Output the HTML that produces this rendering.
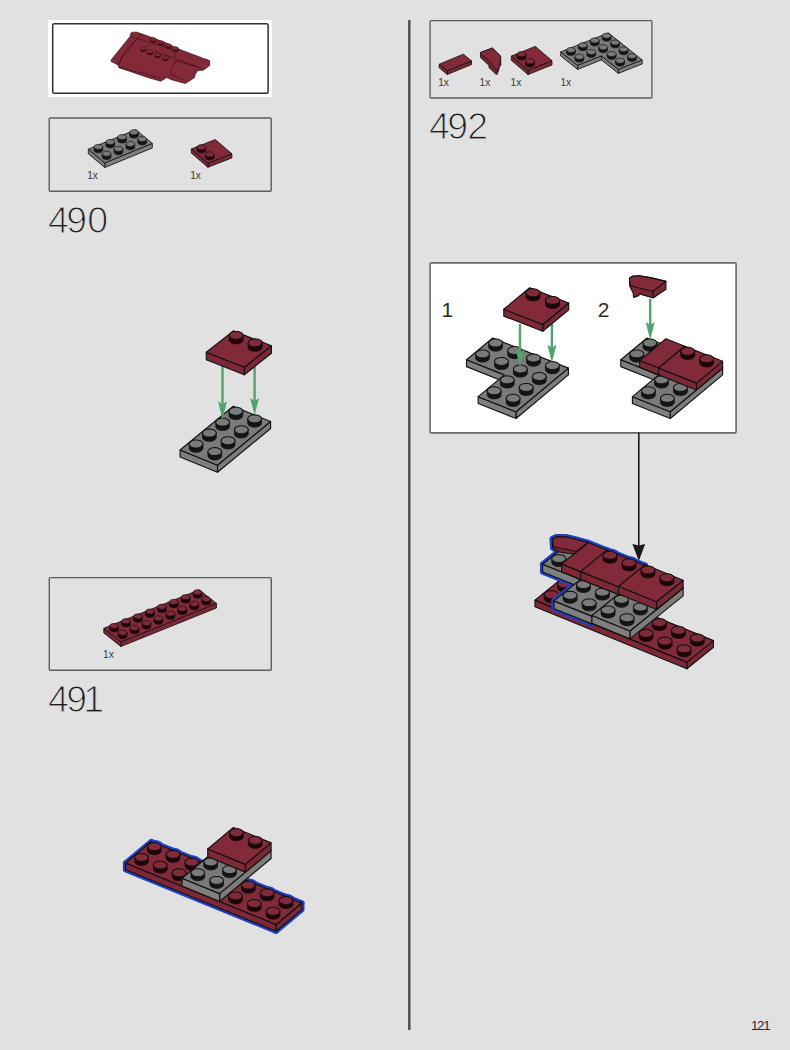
<!DOCTYPE html>
<html><head><meta charset="utf-8"><style>
html,body{margin:0;padding:0;background:#e1e1e1;}
svg{display:block;font-family:"Liberation Sans",sans-serif;}
</style></head><body>
<svg width="790" height="1050" viewBox="0 0 790 1050">
<rect x="0" y="0" width="790" height="1050" fill="#e1e1e1"/>
<rect x="408.1" y="20" width="2.4" height="1010" fill="#4a4a4a"/>
<rect x="48" y="20" width="224" height="77" fill="#ffffff"/>
<rect x="52.7" y="23.7" width="215.4" height="69.5" rx="1.5" fill="#ffffff" stroke="#303030" stroke-width="1.5"/>
<polygon points="130.80,33.30 132.30,32.20 136.90,32.20 142.20,34.10 150.60,37.10 165.00,42.40 177.80,48.70 203.60,58.50 208.20,60.00 209.70,60.80 209.70,65.40 203.60,69.90 197.50,70.70 195.20,74.50 194.50,77.50 185.40,83.60 171.40,79.70 166.80,77.40 160.80,81.20 147.50,77.40 118.70,67.50 118.70,66.00 117.10,64.40 111.10,61.40 111.10,59.90 130.10,36.40" fill="#822a3a" stroke="#3a0a12" stroke-width="0.7" stroke-linejoin="round"/>
<polyline points="130.10,36.40 147.00,41.50 165.00,47.00 173.20,50.50" fill="none" stroke="#3a0a12" stroke-width="0.6"/>
<polyline points="142.20,34.10 136.00,40.00 127.00,50.00 117.10,64.40" fill="none" stroke="#3a0a12" stroke-width="0.6"/>
<polyline points="137.00,39.00 130.00,47.00 122.00,57.00 118.70,66.00" fill="none" stroke="#3a0a12" stroke-width="0.6"/>
<polyline points="177.80,48.70 174.00,57.00" fill="none" stroke="#3a0a12" stroke-width="0.6"/>
<polyline points="155.00,51.30 173.20,57.80 197.50,66.90 203.60,69.90" fill="none" stroke="#3a0a12" stroke-width="0.6"/>
<polyline points="175.50,60.80 170.20,73.70" fill="none" stroke="#3a0a12" stroke-width="0.6"/>
<polyline points="175.50,60.80 197.50,66.90" fill="none" stroke="#3a0a12" stroke-width="0.6"/>
<polyline points="170.20,73.70 185.40,80.60" fill="none" stroke="#3a0a12" stroke-width="0.6"/>
<polyline points="150.00,43.50 145.00,48.00" fill="none" stroke="#3a0a12" stroke-width="0.6"/>
<polyline points="118.70,67.50 147.50,74.50 160.80,78.50" fill="none" stroke="#3a0a12" stroke-width="0.6"/>
<ellipse cx="153.2" cy="41.0" rx="3" ry="1.8" fill="#3a0a12"/>
<rect x="150.2" y="39.4" width="6" height="1.6" fill="#3a0a12"/>
<ellipse cx="153.2" cy="39.4" rx="3" ry="1.8" fill="#822a3a" stroke="#3a0a12" stroke-width="0.5"/>
<ellipse cx="160.8" cy="44.1" rx="3" ry="1.8" fill="#3a0a12"/>
<rect x="157.8" y="42.5" width="6" height="1.6" fill="#3a0a12"/>
<ellipse cx="160.8" cy="42.5" rx="3" ry="1.8" fill="#822a3a" stroke="#3a0a12" stroke-width="0.5"/>
<ellipse cx="168.4" cy="47.1" rx="3" ry="1.8" fill="#3a0a12"/>
<rect x="165.4" y="45.5" width="6" height="1.6" fill="#3a0a12"/>
<ellipse cx="168.4" cy="45.5" rx="3" ry="1.8" fill="#822a3a" stroke="#3a0a12" stroke-width="0.5"/>
<ellipse cx="175.5" cy="50.1" rx="3" ry="1.8" fill="#3a0a12"/>
<rect x="172.5" y="48.5" width="6" height="1.6" fill="#3a0a12"/>
<ellipse cx="175.5" cy="48.5" rx="3" ry="1.8" fill="#822a3a" stroke="#3a0a12" stroke-width="0.5"/>
<ellipse cx="143.3" cy="50.1" rx="3" ry="1.8" fill="#3a0a12"/>
<rect x="140.3" y="48.5" width="6" height="1.6" fill="#3a0a12"/>
<ellipse cx="143.3" cy="48.5" rx="3" ry="1.8" fill="#822a3a" stroke="#3a0a12" stroke-width="0.5"/>
<ellipse cx="150.1" cy="53.2" rx="3" ry="1.8" fill="#3a0a12"/>
<rect x="147.1" y="51.6" width="6" height="1.6" fill="#3a0a12"/>
<ellipse cx="150.1" cy="51.6" rx="3" ry="1.8" fill="#822a3a" stroke="#3a0a12" stroke-width="0.5"/>
<ellipse cx="157.7" cy="56.2" rx="3" ry="1.8" fill="#3a0a12"/>
<rect x="154.7" y="54.6" width="6" height="1.6" fill="#3a0a12"/>
<ellipse cx="157.7" cy="54.6" rx="3" ry="1.8" fill="#822a3a" stroke="#3a0a12" stroke-width="0.5"/>
<ellipse cx="165.3" cy="59.300000000000004" rx="3" ry="1.8" fill="#3a0a12"/>
<rect x="162.3" y="57.7" width="6" height="1.6" fill="#3a0a12"/>
<ellipse cx="165.3" cy="57.7" rx="3" ry="1.8" fill="#822a3a" stroke="#3a0a12" stroke-width="0.5"/>
<rect x="49.2" y="118" width="222.05" height="73.3" rx="1" fill="none" stroke="#5e5e5e" stroke-width="1.4"/>
<polygon points="152.30,143.40 104.80,162.90 104.80,167.50 152.30,148.00" fill="#7f7f7f" stroke="#121212" stroke-width="0.85" stroke-linejoin="round"/>
<polygon points="104.80,162.90 88.30,149.20 88.30,153.80 104.80,167.50" fill="#7d7d7d" stroke="#121212" stroke-width="0.85" stroke-linejoin="round"/>
<polygon points="88.30,149.20 135.80,129.70 152.30,143.40 104.80,162.90" fill="#7a7a7a" stroke="#121212" stroke-width="0.85" stroke-linejoin="round"/>
<polygon points="129.65,135.54 129.69,135.93 129.83,136.32 130.08,136.69 130.43,137.03 130.86,137.33 131.36,137.59 131.94,137.80 132.56,137.95 133.22,138.05 133.90,138.08 134.58,138.06 135.24,137.97 135.87,137.82 136.46,137.62 136.99,137.36 137.44,137.06 137.81,136.73 138.08,136.37 138.26,135.98 138.32,135.59 138.32,132.28 138.26,132.67 138.08,133.05 137.81,133.42 137.44,133.75 136.99,134.05 136.46,134.31 135.87,134.51 135.24,134.66 134.58,134.75 133.90,134.77 133.22,134.74 132.56,134.64 131.94,134.49 131.36,134.28 130.86,134.02 130.43,133.71 130.08,133.37 129.83,133.01 129.69,132.62 129.65,132.23" fill="#141414" stroke="#141414" stroke-width="0.8" stroke-linejoin="round"/>
<polygon points="137.55,130.79 137.89,131.13 138.14,131.49 138.29,131.88 138.32,132.28 138.26,132.67 138.08,133.05 137.81,133.42 137.44,133.75 136.99,134.05 136.46,134.31 135.87,134.51 135.24,134.66 134.58,134.75 133.90,134.77 133.22,134.74 132.56,134.64 131.94,134.49 131.36,134.28 130.86,134.02 130.43,133.71 130.08,133.37 129.83,133.01 129.69,132.62 129.65,132.23 129.72,131.83 129.89,131.45 130.16,131.08 130.53,130.75 130.99,130.45 131.51,130.20 132.10,129.99 132.73,129.84 133.40,129.76 134.08,129.73 134.76,129.76 135.41,129.86 136.04,130.01 136.61,130.22 137.12,130.48" fill="#7a7a7a" stroke="#121212" stroke-width="0.765" stroke-linejoin="round"/>
<polygon points="117.78,140.41 117.81,140.81 117.96,141.19 118.21,141.56 118.55,141.90 118.98,142.20 119.49,142.46 120.06,142.67 120.69,142.83 121.34,142.92 122.02,142.96 122.70,142.93 123.37,142.84 124.00,142.70 124.59,142.49 125.11,142.24 125.57,141.94 125.94,141.60 126.21,141.24 126.38,140.86 126.45,140.46 126.45,137.15 126.38,137.54 126.21,137.93 125.94,138.29 125.57,138.63 125.11,138.93 124.59,139.18 124.00,139.38 123.37,139.53 122.70,139.62 122.02,139.65 121.34,139.61 120.69,139.52 120.06,139.36 119.49,139.15 118.98,138.89 118.55,138.59 118.21,138.25 117.96,137.88 117.81,137.50 117.78,137.10" fill="#141414" stroke="#141414" stroke-width="0.8" stroke-linejoin="round"/>
<polygon points="125.67,135.66 126.02,136.00 126.27,136.37 126.41,136.76 126.45,137.15 126.38,137.54 126.21,137.93 125.94,138.29 125.57,138.63 125.11,138.93 124.59,139.18 124.00,139.38 123.37,139.53 122.70,139.62 122.02,139.65 121.34,139.61 120.69,139.52 120.06,139.36 119.49,139.15 118.98,138.89 118.55,138.59 118.21,138.25 117.96,137.88 117.81,137.50 117.78,137.10 117.84,136.71 118.02,136.32 118.29,135.96 118.66,135.62 119.11,135.32 119.64,135.07 120.23,134.87 120.86,134.72 121.52,134.63 122.20,134.60 122.88,134.64 123.54,134.73 124.16,134.89 124.74,135.10 125.24,135.36" fill="#7a7a7a" stroke="#121212" stroke-width="0.765" stroke-linejoin="round"/>
<polygon points="137.90,142.39 137.94,142.78 138.08,143.17 138.33,143.54 138.68,143.88 139.11,144.18 139.61,144.44 140.19,144.65 140.81,144.80 141.47,144.90 142.15,144.93 142.83,144.91 143.49,144.82 144.12,144.67 144.71,144.47 145.24,144.21 145.69,143.91 146.06,143.58 146.33,143.22 146.51,142.83 146.57,142.44 146.57,139.13 146.51,139.52 146.33,139.90 146.06,140.27 145.69,140.60 145.24,140.90 144.71,141.16 144.12,141.36 143.49,141.51 142.83,141.60 142.15,141.62 141.47,141.59 140.81,141.49 140.19,141.34 139.61,141.13 139.11,140.87 138.68,140.56 138.33,140.22 138.08,139.86 137.94,139.47 137.90,139.08" fill="#141414" stroke="#141414" stroke-width="0.8" stroke-linejoin="round"/>
<polygon points="145.80,137.64 146.14,137.98 146.39,138.34 146.54,138.73 146.57,139.13 146.51,139.52 146.33,139.90 146.06,140.27 145.69,140.60 145.24,140.90 144.71,141.16 144.12,141.36 143.49,141.51 142.83,141.60 142.15,141.62 141.47,141.59 140.81,141.49 140.19,141.34 139.61,141.13 139.11,140.87 138.68,140.56 138.33,140.22 138.08,139.86 137.94,139.47 137.90,139.08 137.97,138.68 138.14,138.30 138.41,137.93 138.78,137.60 139.24,137.30 139.76,137.05 140.35,136.84 140.98,136.69 141.65,136.61 142.33,136.58 143.01,136.61 143.66,136.71 144.29,136.86 144.86,137.07 145.37,137.33" fill="#7a7a7a" stroke="#121212" stroke-width="0.765" stroke-linejoin="round"/>
<polygon points="105.90,145.29 105.94,145.68 106.08,146.07 106.33,146.44 106.67,146.78 107.11,147.08 107.61,147.34 108.19,147.55 108.81,147.70 109.47,147.80 110.15,147.83 110.83,147.81 111.49,147.72 112.12,147.57 112.71,147.37 113.24,147.11 113.69,146.81 114.06,146.48 114.33,146.12 114.51,145.73 114.57,145.34 114.57,142.03 114.51,142.42 114.33,142.80 114.06,143.17 113.69,143.50 113.24,143.80 112.71,144.06 112.12,144.26 111.49,144.41 110.83,144.50 110.15,144.52 109.47,144.49 108.81,144.39 108.19,144.24 107.61,144.03 107.11,143.77 106.67,143.46 106.33,143.12 106.08,142.76 105.94,142.37 105.90,141.98" fill="#141414" stroke="#141414" stroke-width="0.8" stroke-linejoin="round"/>
<polygon points="113.80,140.54 114.14,140.88 114.39,141.24 114.54,141.63 114.57,142.03 114.51,142.42 114.33,142.80 114.06,143.17 113.69,143.50 113.24,143.80 112.71,144.06 112.12,144.26 111.49,144.41 110.83,144.50 110.15,144.52 109.47,144.49 108.81,144.39 108.19,144.24 107.61,144.03 107.11,143.77 106.67,143.46 106.33,143.12 106.08,142.76 105.94,142.37 105.90,141.98 105.97,141.58 106.14,141.20 106.41,140.83 106.78,140.50 107.24,140.20 107.76,139.95 108.35,139.74 108.98,139.59 109.65,139.51 110.33,139.48 111.01,139.51 111.66,139.61 112.29,139.76 112.86,139.97 113.37,140.23" fill="#7a7a7a" stroke="#121212" stroke-width="0.765" stroke-linejoin="round"/>
<polygon points="126.03,147.26 126.06,147.66 126.21,148.04 126.46,148.41 126.80,148.75 127.23,149.05 127.74,149.31 128.31,149.52 128.94,149.68 129.59,149.77 130.27,149.81 130.95,149.78 131.62,149.69 132.25,149.55 132.84,149.34 133.36,149.09 133.82,148.79 134.19,148.45 134.46,148.09 134.63,147.71 134.70,147.31 134.70,144.00 134.63,144.39 134.46,144.78 134.19,145.14 133.82,145.48 133.36,145.78 132.84,146.03 132.25,146.23 131.62,146.38 130.95,146.47 130.27,146.50 129.59,146.46 128.94,146.37 128.31,146.21 127.74,146.00 127.23,145.74 126.80,145.44 126.46,145.10 126.21,144.73 126.06,144.35 126.03,143.95" fill="#141414" stroke="#141414" stroke-width="0.8" stroke-linejoin="round"/>
<polygon points="133.93,142.51 134.27,142.85 134.52,143.22 134.66,143.61 134.70,144.00 134.63,144.39 134.46,144.78 134.19,145.14 133.82,145.48 133.36,145.78 132.84,146.03 132.25,146.23 131.62,146.38 130.95,146.47 130.27,146.50 129.59,146.46 128.94,146.37 128.31,146.21 127.74,146.00 127.23,145.74 126.80,145.44 126.46,145.10 126.21,144.73 126.06,144.35 126.03,143.95 126.09,143.56 126.27,143.17 126.54,142.81 126.91,142.47 127.36,142.17 127.89,141.92 128.48,141.72 129.11,141.57 129.77,141.48 130.45,141.45 131.13,141.49 131.79,141.58 132.41,141.74 132.99,141.95 133.49,142.21" fill="#7a7a7a" stroke="#121212" stroke-width="0.765" stroke-linejoin="round"/>
<polygon points="94.03,150.16 94.06,150.56 94.21,150.94 94.46,151.31 94.80,151.65 95.23,151.95 95.74,152.21 96.31,152.42 96.94,152.58 97.59,152.67 98.27,152.71 98.95,152.68 99.62,152.59 100.25,152.45 100.84,152.24 101.36,151.99 101.82,151.69 102.19,151.35 102.46,150.99 102.63,150.61 102.70,150.21 102.70,146.90 102.63,147.29 102.46,147.68 102.19,148.04 101.82,148.38 101.36,148.68 100.84,148.93 100.25,149.13 99.62,149.28 98.95,149.37 98.27,149.40 97.59,149.36 96.94,149.27 96.31,149.11 95.74,148.90 95.23,148.64 94.80,148.34 94.46,148.00 94.21,147.63 94.06,147.25 94.03,146.85" fill="#141414" stroke="#141414" stroke-width="0.8" stroke-linejoin="round"/>
<polygon points="101.92,145.41 102.27,145.75 102.52,146.12 102.66,146.51 102.70,146.90 102.63,147.29 102.46,147.68 102.19,148.04 101.82,148.38 101.36,148.68 100.84,148.93 100.25,149.13 99.62,149.28 98.95,149.37 98.27,149.40 97.59,149.36 96.94,149.27 96.31,149.11 95.74,148.90 95.23,148.64 94.80,148.34 94.46,148.00 94.21,147.63 94.06,147.25 94.03,146.85 94.09,146.46 94.27,146.07 94.54,145.71 94.91,145.37 95.36,145.07 95.89,144.82 96.48,144.62 97.11,144.47 97.77,144.38 98.45,144.35 99.13,144.39 99.79,144.48 100.41,144.64 100.99,144.85 101.49,145.11" fill="#7a7a7a" stroke="#121212" stroke-width="0.765" stroke-linejoin="round"/>
<polygon points="114.15,152.14 114.19,152.53 114.33,152.92 114.58,153.29 114.92,153.62 115.36,153.93 115.86,154.19 116.44,154.40 117.06,154.55 117.72,154.65 118.40,154.68 119.08,154.66 119.74,154.57 120.37,154.42 120.96,154.22 121.49,153.96 121.94,153.66 122.31,153.33 122.58,152.97 122.76,152.58 122.82,152.19 122.82,148.88 122.76,149.27 122.58,149.65 122.31,150.02 121.94,150.35 121.49,150.65 120.96,150.91 120.37,151.11 119.74,151.26 119.08,151.35 118.40,151.37 117.72,151.34 117.06,151.24 116.44,151.09 115.86,150.88 115.36,150.62 114.92,150.31 114.58,149.97 114.33,149.61 114.19,149.22 114.15,148.83" fill="#141414" stroke="#141414" stroke-width="0.8" stroke-linejoin="round"/>
<polygon points="122.05,147.39 122.39,147.73 122.64,148.09 122.79,148.48 122.82,148.88 122.76,149.27 122.58,149.65 122.31,150.02 121.94,150.35 121.49,150.65 120.96,150.91 120.37,151.11 119.74,151.26 119.08,151.35 118.40,151.37 117.72,151.34 117.06,151.24 116.44,151.09 115.86,150.88 115.36,150.62 114.92,150.31 114.58,149.97 114.33,149.61 114.19,149.22 114.15,148.83 114.22,148.43 114.39,148.05 114.66,147.68 115.03,147.35 115.49,147.05 116.01,146.80 116.60,146.59 117.23,146.44 117.90,146.36 118.58,146.33 119.26,146.36 119.91,146.46 120.54,146.61 121.11,146.82 121.62,147.08" fill="#7a7a7a" stroke="#121212" stroke-width="0.765" stroke-linejoin="round"/>
<polygon points="102.28,157.01 102.31,157.41 102.46,157.79 102.71,158.16 103.05,158.50 103.48,158.80 103.99,159.06 104.56,159.27 105.19,159.43 105.84,159.52 106.52,159.56 107.20,159.53 107.87,159.44 108.50,159.30 109.09,159.09 109.61,158.84 110.07,158.54 110.44,158.20 110.71,157.84 110.88,157.46 110.95,157.06 110.95,153.75 110.88,154.14 110.71,154.53 110.44,154.89 110.07,155.23 109.61,155.53 109.09,155.78 108.50,155.98 107.87,156.13 107.20,156.22 106.52,156.25 105.84,156.21 105.19,156.12 104.56,155.96 103.99,155.75 103.48,155.49 103.05,155.19 102.71,154.85 102.46,154.48 102.31,154.10 102.28,153.70" fill="#141414" stroke="#141414" stroke-width="0.8" stroke-linejoin="round"/>
<polygon points="110.17,152.26 110.52,152.60 110.77,152.97 110.91,153.36 110.95,153.75 110.88,154.14 110.71,154.53 110.44,154.89 110.07,155.23 109.61,155.53 109.09,155.78 108.50,155.98 107.87,156.13 107.20,156.22 106.52,156.25 105.84,156.21 105.19,156.12 104.56,155.96 103.99,155.75 103.48,155.49 103.05,155.19 102.71,154.85 102.46,154.48 102.31,154.10 102.28,153.70 102.34,153.31 102.52,152.92 102.79,152.56 103.16,152.22 103.61,151.92 104.14,151.67 104.73,151.47 105.36,151.32 106.02,151.23 106.70,151.20 107.38,151.24 108.04,151.33 108.66,151.49 109.24,151.70 109.74,151.96" fill="#7a7a7a" stroke="#121212" stroke-width="0.765" stroke-linejoin="round"/>
<polygon points="231.90,153.80 207.90,163.20 207.90,167.30 231.90,157.90" fill="#7e2837" stroke="#121212" stroke-width="0.85" stroke-linejoin="round"/>
<polygon points="207.90,163.20 191.30,149.00 191.30,153.10 207.90,167.30" fill="#7c2735" stroke="#121212" stroke-width="0.85" stroke-linejoin="round"/>
<polygon points="191.30,149.00 215.30,139.60 231.90,153.80 207.90,163.20" fill="#822a3a" stroke="#121212" stroke-width="0.85" stroke-linejoin="round"/>
<polygon points="197.07,150.09 197.11,150.49 197.26,150.88 197.50,151.26 197.85,151.61 198.28,151.93 198.80,152.20 199.37,152.42 200.00,152.59 200.67,152.70 201.35,152.75 202.03,152.74 202.71,152.66 203.35,152.52 203.94,152.33 204.47,152.08 204.93,151.79 205.30,151.46 205.58,151.09 205.76,150.71 205.83,150.31 205.83,147.36 205.76,147.76 205.58,148.14 205.30,148.51 204.93,148.84 204.47,149.13 203.94,149.38 203.35,149.57 202.71,149.71 202.03,149.79 201.35,149.80 200.67,149.75 200.00,149.64 199.37,149.47 198.80,149.25 198.28,148.97 197.85,148.66 197.50,148.31 197.26,147.93 197.11,147.54 197.07,147.14" fill="#1c0609" stroke="#1c0609" stroke-width="0.8" stroke-linejoin="round"/>
<polygon points="205.05,145.84 205.40,146.19 205.64,146.57 205.79,146.96 205.83,147.36 205.76,147.76 205.58,148.14 205.30,148.51 204.93,148.84 204.47,149.13 203.94,149.38 203.35,149.57 202.71,149.71 202.03,149.79 201.35,149.80 200.67,149.75 200.00,149.64 199.37,149.47 198.80,149.25 198.28,148.97 197.85,148.66 197.50,148.31 197.26,147.93 197.11,147.54 197.07,147.14 197.14,146.74 197.32,146.35 197.60,145.99 197.97,145.66 198.43,145.36 198.96,145.12 199.55,144.92 200.19,144.79 200.87,144.71 201.55,144.70 202.23,144.74 202.90,144.86 203.53,145.02 204.10,145.25 204.62,145.52" fill="#822a3a" stroke="#121212" stroke-width="0.765" stroke-linejoin="round"/>
<polygon points="205.37,157.19 205.41,157.59 205.56,157.98 205.80,158.36 206.15,158.71 206.58,159.03 207.10,159.30 207.67,159.52 208.30,159.69 208.97,159.80 209.65,159.85 210.33,159.84 211.01,159.76 211.65,159.62 212.24,159.43 212.77,159.18 213.23,158.89 213.60,158.56 213.88,158.19 214.06,157.81 214.13,157.41 214.13,154.46 214.06,154.86 213.88,155.24 213.60,155.61 213.23,155.94 212.77,156.23 212.24,156.48 211.65,156.67 211.01,156.81 210.33,156.89 209.65,156.90 208.97,156.85 208.30,156.74 207.67,156.57 207.10,156.35 206.58,156.07 206.15,155.76 205.80,155.41 205.56,155.03 205.41,154.64 205.37,154.24" fill="#1c0609" stroke="#1c0609" stroke-width="0.8" stroke-linejoin="round"/>
<polygon points="213.35,152.94 213.70,153.29 213.94,153.67 214.09,154.06 214.13,154.46 214.06,154.86 213.88,155.24 213.60,155.61 213.23,155.94 212.77,156.23 212.24,156.48 211.65,156.67 211.01,156.81 210.33,156.89 209.65,156.90 208.97,156.85 208.30,156.74 207.67,156.57 207.10,156.35 206.58,156.07 206.15,155.76 205.80,155.41 205.56,155.03 205.41,154.64 205.37,154.24 205.44,153.84 205.62,153.45 205.90,153.09 206.27,152.76 206.73,152.46 207.26,152.22 207.85,152.02 208.49,151.89 209.17,151.81 209.85,151.80 210.53,151.84 211.20,151.96 211.83,152.12 212.40,152.35 212.92,152.62" fill="#822a3a" stroke="#121212" stroke-width="0.765" stroke-linejoin="round"/>
<text x="87.20" y="178.9" font-size="10.2" fill="#3a3a3a">1x</text>
<text x="190.20" y="178.9" font-size="10.2" fill="#3a3a3a">1x</text>
<text x="48.06 66.14 87.16" y="232.5" font-size="37.5" fill="#1e1e1e" stroke="#e1e1e1" stroke-width="1.17">490</text>
<polygon points="270.60,421.50 217.50,465.20 217.50,472.20 270.60,428.50" fill="#7d7d7d" stroke="#121212" stroke-width="1.15" stroke-linejoin="round"/>
<polygon points="217.50,465.20 180.10,450.00 180.10,457.00 217.50,472.20" fill="#7f7f7f" stroke="#121212" stroke-width="1.15" stroke-linejoin="round"/>
<polygon points="233.20,406.30 270.60,421.50 217.50,465.20 180.10,450.00" fill="#7a7a7a" stroke="#121212" stroke-width="1.15" stroke-linejoin="round"/>
<polygon points="229.03,415.64 229.13,416.27 229.39,416.87 229.82,417.45 230.39,417.98 231.10,418.44 231.93,418.84 232.86,419.16 233.86,419.38 234.91,419.52 235.99,419.55 237.06,419.49 238.11,419.33 239.10,419.08 240.02,418.74 240.83,418.33 241.52,417.84 242.08,417.30 242.48,416.72 242.72,416.11 242.79,415.48 242.79,411.14 242.72,411.77 242.48,412.38 242.08,412.96 241.52,413.50 240.83,413.99 240.02,414.40 239.10,414.74 238.11,414.99 237.06,415.15 235.99,415.21 234.91,415.18 233.86,415.04 232.86,414.82 231.93,414.50 231.10,414.10 230.39,413.64 229.82,413.11 229.39,412.53 229.13,411.93 229.03,411.30" fill="#141414" stroke="#141414" stroke-width="0.8" stroke-linejoin="round"/>
<polygon points="241.52,413.50 240.83,413.99 240.02,414.40 239.10,414.74 238.11,414.99 237.06,415.15 235.99,415.21 234.91,415.18 233.86,415.04 232.86,414.82 231.93,414.50 231.10,414.10 230.39,413.64 229.82,413.11 229.39,412.53 229.13,411.93 229.03,411.30 229.11,410.68 229.35,410.07 229.75,409.48 230.30,408.94 230.99,408.46 231.81,408.04 232.72,407.70 233.71,407.45 234.76,407.29 235.84,407.23 236.91,407.27 237.97,407.40 238.97,407.63 239.89,407.95 240.72,408.34 241.43,408.81 242.01,409.34 242.43,409.91 242.70,410.52 242.79,411.14 242.72,411.77 242.48,412.38 242.08,412.96" fill="#7a7a7a" stroke="#121212" stroke-width="1.035" stroke-linejoin="round"/>
<polygon points="247.73,423.24 247.83,423.87 248.09,424.47 248.52,425.05 249.09,425.58 249.80,426.04 250.63,426.44 251.56,426.76 252.56,426.98 253.61,427.12 254.69,427.15 255.76,427.09 256.81,426.93 257.80,426.68 258.72,426.34 259.53,425.93 260.22,425.44 260.78,424.90 261.18,424.32 261.42,423.71 261.49,423.08 261.49,418.74 261.42,419.37 261.18,419.98 260.78,420.56 260.22,421.10 259.53,421.59 258.72,422.00 257.80,422.34 256.81,422.59 255.76,422.75 254.69,422.81 253.61,422.78 252.56,422.64 251.56,422.42 250.63,422.10 249.80,421.70 249.09,421.24 248.52,420.71 248.09,420.13 247.83,419.53 247.73,418.90" fill="#141414" stroke="#141414" stroke-width="0.8" stroke-linejoin="round"/>
<polygon points="260.22,421.10 259.53,421.59 258.72,422.00 257.80,422.34 256.81,422.59 255.76,422.75 254.69,422.81 253.61,422.78 252.56,422.64 251.56,422.42 250.63,422.10 249.80,421.70 249.09,421.24 248.52,420.71 248.09,420.13 247.83,419.53 247.73,418.90 247.81,418.28 248.05,417.67 248.45,417.08 249.00,416.54 249.69,416.06 250.51,415.64 251.42,415.30 252.41,415.05 253.46,414.89 254.54,414.83 255.61,414.87 256.67,415.00 257.67,415.23 258.60,415.55 259.42,415.94 260.13,416.41 260.71,416.94 261.13,417.51 261.40,418.12 261.49,418.74 261.42,419.37 261.18,419.98 260.78,420.56" fill="#7a7a7a" stroke="#121212" stroke-width="1.035" stroke-linejoin="round"/>
<polygon points="215.76,426.57 215.85,427.19 216.12,427.80 216.54,428.37 217.12,428.90 217.83,429.37 218.65,429.77 219.58,430.08 220.58,430.31 221.64,430.44 222.71,430.48 223.79,430.42 224.84,430.26 225.83,430.01 226.74,429.67 227.56,429.25 228.25,428.77 228.80,428.23 229.20,427.64 229.44,427.03 229.52,426.41 229.52,422.07 229.44,422.69 229.20,423.30 228.80,423.89 228.25,424.43 227.56,424.91 226.74,425.33 225.83,425.67 224.84,425.92 223.79,426.08 222.71,426.14 221.64,426.10 220.58,425.97 219.58,425.74 218.65,425.43 217.83,425.03 217.12,424.56 216.54,424.03 216.12,423.46 215.85,422.85 215.76,422.23" fill="#141414" stroke="#141414" stroke-width="0.8" stroke-linejoin="round"/>
<polygon points="228.25,424.43 227.56,424.91 226.74,425.33 225.83,425.67 224.84,425.92 223.79,426.08 222.71,426.14 221.64,426.10 220.58,425.97 219.58,425.74 218.65,425.43 217.83,425.03 217.12,424.56 216.54,424.03 216.12,423.46 215.85,422.85 215.76,422.23 215.83,421.60 216.07,420.99 216.47,420.41 217.03,419.87 217.72,419.38 218.53,418.97 219.45,418.63 220.44,418.38 221.49,418.22 222.56,418.16 223.64,418.19 224.69,418.33 225.69,418.55 226.62,418.87 227.45,419.27 228.16,419.73 228.73,420.26 229.16,420.84 229.42,421.44 229.52,422.07 229.44,422.69 229.20,423.30 228.80,423.89" fill="#7a7a7a" stroke="#121212" stroke-width="1.035" stroke-linejoin="round"/>
<polygon points="234.46,434.17 234.55,434.79 234.82,435.40 235.24,435.97 235.82,436.50 236.53,436.97 237.35,437.37 238.28,437.68 239.28,437.91 240.34,438.04 241.41,438.08 242.49,438.02 243.54,437.86 244.53,437.61 245.44,437.27 246.26,436.85 246.95,436.37 247.50,435.83 247.90,435.24 248.14,434.63 248.22,434.01 248.22,429.67 248.14,430.29 247.90,430.90 247.50,431.49 246.95,432.03 246.26,432.51 245.44,432.93 244.53,433.27 243.54,433.52 242.49,433.68 241.41,433.74 240.34,433.70 239.28,433.57 238.28,433.34 237.35,433.03 236.53,432.63 235.82,432.16 235.24,431.63 234.82,431.06 234.55,430.45 234.46,429.83" fill="#141414" stroke="#141414" stroke-width="0.8" stroke-linejoin="round"/>
<polygon points="246.95,432.03 246.26,432.51 245.44,432.93 244.53,433.27 243.54,433.52 242.49,433.68 241.41,433.74 240.34,433.70 239.28,433.57 238.28,433.34 237.35,433.03 236.53,432.63 235.82,432.16 235.24,431.63 234.82,431.06 234.55,430.45 234.46,429.83 234.53,429.20 234.77,428.59 235.17,428.01 235.73,427.47 236.42,426.98 237.23,426.57 238.15,426.23 239.14,425.98 240.19,425.82 241.26,425.76 242.34,425.79 243.39,425.93 244.39,426.15 245.32,426.47 246.15,426.87 246.86,427.33 247.43,427.86 247.86,428.44 248.12,429.04 248.22,429.67 248.14,430.29 247.90,430.90 247.50,431.49" fill="#7a7a7a" stroke="#121212" stroke-width="1.035" stroke-linejoin="round"/>
<polygon points="202.48,437.49 202.58,438.12 202.84,438.72 203.27,439.30 203.84,439.83 204.55,440.29 205.38,440.69 206.31,441.01 207.31,441.23 208.36,441.37 209.44,441.40 210.51,441.34 211.56,441.18 212.55,440.93 213.47,440.59 214.28,440.18 214.97,439.69 215.53,439.15 215.93,438.57 216.17,437.96 216.24,437.33 216.24,432.99 216.17,433.62 215.93,434.23 215.53,434.81 214.97,435.35 214.28,435.84 213.47,436.25 212.55,436.59 211.56,436.84 210.51,437.00 209.44,437.06 208.36,437.03 207.31,436.89 206.31,436.67 205.38,436.35 204.55,435.95 203.84,435.49 203.27,434.96 202.84,434.38 202.58,433.78 202.48,433.15" fill="#141414" stroke="#141414" stroke-width="0.8" stroke-linejoin="round"/>
<polygon points="214.97,435.35 214.28,435.84 213.47,436.25 212.55,436.59 211.56,436.84 210.51,437.00 209.44,437.06 208.36,437.03 207.31,436.89 206.31,436.67 205.38,436.35 204.55,435.95 203.84,435.49 203.27,434.96 202.84,434.38 202.58,433.78 202.48,433.15 202.56,432.53 202.80,431.92 203.20,431.33 203.75,430.79 204.44,430.31 205.26,429.89 206.17,429.55 207.16,429.30 208.21,429.14 209.29,429.08 210.36,429.12 211.42,429.25 212.42,429.48 213.34,429.80 214.17,430.19 214.88,430.66 215.46,431.19 215.88,431.76 216.15,432.37 216.24,432.99 216.17,433.62 215.93,434.23 215.53,434.81" fill="#7a7a7a" stroke="#121212" stroke-width="1.035" stroke-linejoin="round"/>
<polygon points="221.18,445.09 221.28,445.72 221.54,446.32 221.97,446.90 222.54,447.43 223.25,447.89 224.08,448.29 225.01,448.61 226.01,448.83 227.06,448.97 228.14,449.00 229.21,448.94 230.26,448.78 231.25,448.53 232.17,448.19 232.98,447.78 233.67,447.29 234.23,446.75 234.63,446.17 234.87,445.56 234.94,444.93 234.94,440.59 234.87,441.22 234.63,441.83 234.23,442.41 233.67,442.95 232.98,443.44 232.17,443.85 231.25,444.19 230.26,444.44 229.21,444.60 228.14,444.66 227.06,444.63 226.01,444.49 225.01,444.27 224.08,443.95 223.25,443.55 222.54,443.09 221.97,442.56 221.54,441.98 221.28,441.38 221.18,440.75" fill="#141414" stroke="#141414" stroke-width="0.8" stroke-linejoin="round"/>
<polygon points="233.67,442.95 232.98,443.44 232.17,443.85 231.25,444.19 230.26,444.44 229.21,444.60 228.14,444.66 227.06,444.63 226.01,444.49 225.01,444.27 224.08,443.95 223.25,443.55 222.54,443.09 221.97,442.56 221.54,441.98 221.28,441.38 221.18,440.75 221.26,440.13 221.50,439.52 221.90,438.93 222.45,438.39 223.14,437.91 223.96,437.49 224.87,437.15 225.86,436.90 226.91,436.74 227.99,436.68 229.06,436.72 230.12,436.85 231.12,437.08 232.04,437.40 232.87,437.79 233.58,438.26 234.16,438.79 234.58,439.36 234.85,439.97 234.94,440.59 234.87,441.22 234.63,441.83 234.23,442.41" fill="#7a7a7a" stroke="#121212" stroke-width="1.035" stroke-linejoin="round"/>
<polygon points="189.21,448.42 189.30,449.04 189.57,449.65 189.99,450.22 190.57,450.75 191.28,451.22 192.10,451.62 193.03,451.93 194.03,452.16 195.09,452.29 196.16,452.33 197.24,452.27 198.29,452.11 199.28,451.86 200.19,451.52 201.01,451.10 201.70,450.62 202.25,450.08 202.65,449.49 202.89,448.88 202.97,448.26 202.97,443.92 202.89,444.54 202.65,445.15 202.25,445.74 201.70,446.28 201.01,446.76 200.19,447.18 199.28,447.52 198.29,447.77 197.24,447.93 196.16,447.99 195.09,447.95 194.03,447.82 193.03,447.59 192.10,447.28 191.28,446.88 190.57,446.41 189.99,445.88 189.57,445.31 189.30,444.70 189.21,444.08" fill="#141414" stroke="#141414" stroke-width="0.8" stroke-linejoin="round"/>
<polygon points="201.70,446.28 201.01,446.76 200.19,447.18 199.28,447.52 198.29,447.77 197.24,447.93 196.16,447.99 195.09,447.95 194.03,447.82 193.03,447.59 192.10,447.28 191.28,446.88 190.57,446.41 189.99,445.88 189.57,445.31 189.30,444.70 189.21,444.08 189.28,443.45 189.52,442.84 189.92,442.26 190.48,441.72 191.17,441.23 191.98,440.82 192.90,440.48 193.89,440.23 194.94,440.07 196.01,440.01 197.09,440.04 198.14,440.18 199.14,440.40 200.07,440.72 200.90,441.12 201.61,441.58 202.18,442.11 202.61,442.69 202.87,443.29 202.97,443.92 202.89,444.54 202.65,445.15 202.25,445.74" fill="#7a7a7a" stroke="#121212" stroke-width="1.035" stroke-linejoin="round"/>
<polygon points="207.91,456.02 208.00,456.64 208.27,457.25 208.69,457.82 209.27,458.35 209.98,458.82 210.81,459.21 211.73,459.53 212.73,459.76 213.79,459.89 214.86,459.93 215.94,459.87 216.99,459.71 217.98,459.46 218.89,459.12 219.71,458.70 220.40,458.22 220.95,457.68 221.35,457.09 221.59,456.48 221.67,455.86 221.67,451.52 221.59,452.14 221.35,452.75 220.95,453.34 220.40,453.88 219.71,454.36 218.89,454.78 217.98,455.12 216.99,455.37 215.94,455.53 214.86,455.59 213.79,455.55 212.73,455.42 211.73,455.19 210.81,454.88 209.98,454.48 209.27,454.01 208.69,453.48 208.27,452.91 208.00,452.30 207.91,451.68" fill="#141414" stroke="#141414" stroke-width="0.8" stroke-linejoin="round"/>
<polygon points="220.40,453.88 219.71,454.36 218.89,454.78 217.98,455.12 216.99,455.37 215.94,455.53 214.86,455.59 213.79,455.55 212.73,455.42 211.73,455.19 210.81,454.88 209.98,454.48 209.27,454.01 208.69,453.48 208.27,452.91 208.00,452.30 207.91,451.68 207.98,451.05 208.22,450.44 208.62,449.86 209.18,449.32 209.87,448.83 210.68,448.42 211.60,448.08 212.59,447.83 213.64,447.67 214.71,447.61 215.79,447.64 216.84,447.78 217.84,448.00 218.77,448.32 219.60,448.72 220.31,449.18 220.88,449.71 221.31,450.29 221.57,450.89 221.67,451.52 221.59,452.14 221.35,452.75 220.95,453.34" fill="#7a7a7a" stroke="#121212" stroke-width="1.035" stroke-linejoin="round"/>
<line x1="222.5" y1="362" x2="222.5" y2="404.2" stroke="#52a46d" stroke-width="2.4"/>
<polygon points="218.00,401.20 222.50,404.20 227.00,401.20 222.50,419.20" fill="#52a46d"/>
<line x1="254.6" y1="362" x2="254.6" y2="401.1" stroke="#52a46d" stroke-width="2.4"/>
<polygon points="250.10,398.10 254.60,401.10 259.10,398.10 254.60,415.10" fill="#52a46d"/>
<polygon points="271.40,345.80 244.30,367.20 244.30,374.70 271.40,353.30" fill="#7c2735" stroke="#121212" stroke-width="1.15" stroke-linejoin="round"/>
<polygon points="244.30,367.20 206.30,352.30 206.30,359.80 244.30,374.70" fill="#7e2837" stroke="#121212" stroke-width="1.15" stroke-linejoin="round"/>
<polygon points="233.40,330.90 271.40,345.80 244.30,367.20 206.30,352.30" fill="#822a3a" stroke="#121212" stroke-width="1.15" stroke-linejoin="round"/>
<polygon points="229.12,340.05 229.22,340.66 229.49,341.26 229.92,341.82 230.50,342.34 231.22,342.80 232.06,343.19 233.00,343.50 234.02,343.72 235.09,343.85 236.19,343.89 237.28,343.83 238.35,343.67 239.36,343.42 240.29,343.09 241.12,342.68 241.82,342.21 242.39,341.68 242.80,341.11 243.05,340.51 243.13,339.90 243.13,335.25 243.05,335.86 242.80,336.46 242.39,337.03 241.82,337.56 241.12,338.03 240.29,338.44 239.36,338.77 238.35,339.02 237.28,339.18 236.19,339.24 235.09,339.20 234.02,339.07 233.00,338.85 232.06,338.54 231.22,338.15 230.50,337.69 229.92,337.17 229.49,336.61 229.22,336.01 229.12,335.40" fill="#1c0609" stroke="#1c0609" stroke-width="0.8" stroke-linejoin="round"/>
<polygon points="241.82,337.56 241.12,338.03 240.29,338.44 239.36,338.77 238.35,339.02 237.28,339.18 236.19,339.24 235.09,339.20 234.02,339.07 233.00,338.85 232.06,338.54 231.22,338.15 230.50,337.69 229.92,337.17 229.49,336.61 229.22,336.01 229.12,335.40 229.20,334.79 229.45,334.19 229.86,333.62 230.43,333.09 231.13,332.62 231.96,332.21 232.89,331.88 233.90,331.63 234.97,331.47 236.06,331.41 237.16,331.45 238.23,331.58 239.25,331.80 240.19,332.12 241.03,332.50 241.75,332.96 242.33,333.48 242.76,334.04 243.03,334.64 243.13,335.25 243.05,335.86 242.80,336.46 242.39,337.03" fill="#822a3a" stroke="#121212" stroke-width="1.035" stroke-linejoin="round"/>
<polygon points="248.12,347.50 248.22,348.11 248.49,348.71 248.92,349.27 249.50,349.79 250.22,350.25 251.06,350.63 252.00,350.95 253.02,351.17 254.09,351.30 255.19,351.34 256.28,351.28 257.35,351.12 258.36,350.87 259.29,350.54 260.12,350.13 260.83,349.66 261.39,349.13 261.80,348.56 262.05,347.96 262.13,347.35 262.13,342.70 262.05,343.31 261.80,343.91 261.39,344.48 260.83,345.01 260.12,345.48 259.29,345.89 258.36,346.22 257.35,346.47 256.28,346.63 255.19,346.69 254.09,346.65 253.02,346.52 252.00,346.30 251.06,345.99 250.22,345.60 249.50,345.14 248.92,344.62 248.49,344.06 248.22,343.46 248.12,342.85" fill="#1c0609" stroke="#1c0609" stroke-width="0.8" stroke-linejoin="round"/>
<polygon points="260.83,345.01 260.12,345.48 259.29,345.89 258.36,346.22 257.35,346.47 256.28,346.63 255.19,346.69 254.09,346.65 253.02,346.52 252.00,346.30 251.06,345.99 250.22,345.60 249.50,345.14 248.92,344.62 248.49,344.06 248.22,343.46 248.12,342.85 248.20,342.24 248.45,341.64 248.86,341.07 249.42,340.54 250.13,340.07 250.96,339.66 251.89,339.33 252.90,339.08 253.97,338.92 255.06,338.86 256.16,338.90 257.23,339.03 258.25,339.25 259.19,339.56 260.03,339.95 260.75,340.41 261.33,340.93 261.76,341.49 262.03,342.09 262.13,342.70 262.05,343.31 261.80,343.91 261.39,344.48" fill="#822a3a" stroke="#121212" stroke-width="1.035" stroke-linejoin="round"/>
<rect x="49.3" y="577.6" width="222" height="92.65" rx="1" fill="none" stroke="#5e5e5e" stroke-width="1.4"/>
<polygon points="216.42,603.42 120.90,641.90 120.90,646.50 216.42,608.02" fill="#7e2837" stroke="#121212" stroke-width="0.85" stroke-linejoin="round"/>
<polygon points="120.90,641.90 103.80,628.30 103.80,632.90 120.90,646.50" fill="#7c2735" stroke="#121212" stroke-width="0.85" stroke-linejoin="round"/>
<polygon points="103.80,628.30 199.32,589.82 216.42,603.42 120.90,641.90" fill="#822a3a" stroke="#121212" stroke-width="0.85" stroke-linejoin="round"/>
<polygon points="193.22,595.59 193.27,595.98 193.43,596.37 193.69,596.73 194.04,597.07 194.49,597.37 195.01,597.63 195.60,597.84 196.23,597.99 196.91,598.09 197.59,598.12 198.28,598.10 198.96,598.01 199.60,597.87 200.19,597.66 200.72,597.41 201.17,597.12 201.54,596.79 201.81,596.43 201.97,596.05 202.03,595.66 202.03,592.34 201.97,592.74 201.81,593.12 201.54,593.48 201.17,593.81 200.72,594.10 200.19,594.35 199.60,594.55 198.96,594.70 198.28,594.79 197.59,594.81 196.91,594.78 196.23,594.68 195.60,594.52 195.01,594.32 194.49,594.06 194.04,593.76 193.69,593.42 193.43,593.05 193.27,592.67 193.22,592.28" fill="#1c0609" stroke="#1c0609" stroke-width="0.8" stroke-linejoin="round"/>
<polygon points="201.21,590.87 201.56,591.21 201.82,591.57 201.98,591.95 202.03,592.34 201.97,592.74 201.81,593.12 201.54,593.48 201.17,593.81 200.72,594.10 200.19,594.35 199.60,594.55 198.96,594.70 198.28,594.79 197.59,594.81 196.91,594.78 196.23,594.68 195.60,594.52 195.01,594.32 194.49,594.06 194.04,593.76 193.69,593.42 193.43,593.05 193.27,592.67 193.22,592.28 193.28,591.89 193.44,591.51 193.71,591.15 194.08,590.82 194.53,590.52 195.06,590.27 195.65,590.07 196.29,589.93 196.97,589.84 197.66,589.81 198.34,589.85 199.02,589.95 199.65,590.10 200.24,590.31 200.76,590.57" fill="#822a3a" stroke="#121212" stroke-width="0.765" stroke-linejoin="round"/>
<polygon points="181.28,600.40 181.33,600.79 181.49,601.18 181.75,601.54 182.10,601.88 182.55,602.18 183.07,602.44 183.66,602.65 184.29,602.80 184.97,602.90 185.65,602.93 186.34,602.91 187.02,602.82 187.66,602.68 188.25,602.48 188.78,602.22 189.23,601.93 189.60,601.60 189.87,601.24 190.03,600.86 190.09,600.47 190.09,597.15 190.03,597.55 189.87,597.93 189.60,598.29 189.23,598.62 188.78,598.91 188.25,599.16 187.66,599.36 187.02,599.51 186.34,599.60 185.65,599.62 184.97,599.59 184.29,599.49 183.66,599.33 183.07,599.13 182.55,598.87 182.10,598.57 181.75,598.23 181.49,597.86 181.33,597.48 181.28,597.09" fill="#1c0609" stroke="#1c0609" stroke-width="0.8" stroke-linejoin="round"/>
<polygon points="189.27,595.68 189.62,596.02 189.88,596.38 190.04,596.76 190.09,597.15 190.03,597.55 189.87,597.93 189.60,598.29 189.23,598.62 188.78,598.91 188.25,599.16 187.66,599.36 187.02,599.51 186.34,599.60 185.65,599.62 184.97,599.59 184.29,599.49 183.66,599.33 183.07,599.13 182.55,598.87 182.10,598.57 181.75,598.23 181.49,597.86 181.33,597.48 181.28,597.09 181.34,596.70 181.50,596.32 181.77,595.96 182.14,595.63 182.59,595.33 183.12,595.08 183.71,594.88 184.35,594.74 185.03,594.65 185.72,594.62 186.40,594.66 187.08,594.76 187.71,594.91 188.30,595.12 188.82,595.38" fill="#822a3a" stroke="#121212" stroke-width="0.765" stroke-linejoin="round"/>
<polygon points="201.77,602.39 201.82,602.78 201.98,603.17 202.24,603.53 202.59,603.87 203.04,604.17 203.56,604.43 204.15,604.64 204.78,604.79 205.46,604.89 206.14,604.92 206.83,604.90 207.51,604.81 208.15,604.67 208.74,604.46 209.27,604.21 209.72,603.92 210.09,603.59 210.36,603.23 210.52,602.85 210.58,602.46 210.58,599.14 210.52,599.54 210.36,599.92 210.09,600.28 209.72,600.61 209.27,600.90 208.74,601.15 208.15,601.35 207.51,601.50 206.83,601.59 206.14,601.61 205.46,601.58 204.78,601.48 204.15,601.32 203.56,601.12 203.04,600.86 202.59,600.56 202.24,600.22 201.98,599.85 201.82,599.47 201.77,599.08" fill="#1c0609" stroke="#1c0609" stroke-width="0.8" stroke-linejoin="round"/>
<polygon points="209.76,597.67 210.11,598.01 210.37,598.37 210.53,598.75 210.58,599.14 210.52,599.54 210.36,599.92 210.09,600.28 209.72,600.61 209.27,600.90 208.74,601.15 208.15,601.35 207.51,601.50 206.83,601.59 206.14,601.61 205.46,601.58 204.78,601.48 204.15,601.32 203.56,601.12 203.04,600.86 202.59,600.56 202.24,600.22 201.98,599.85 201.82,599.47 201.77,599.08 201.83,598.69 201.99,598.31 202.26,597.95 202.63,597.62 203.08,597.32 203.61,597.07 204.20,596.87 204.84,596.73 205.52,596.64 206.21,596.61 206.89,596.65 207.57,596.75 208.20,596.90 208.79,597.11 209.31,597.37" fill="#822a3a" stroke="#121212" stroke-width="0.765" stroke-linejoin="round"/>
<polygon points="169.34,605.21 169.39,605.60 169.55,605.99 169.81,606.35 170.16,606.69 170.61,606.99 171.13,607.25 171.72,607.46 172.35,607.61 173.03,607.71 173.71,607.74 174.40,607.72 175.08,607.63 175.72,607.49 176.31,607.28 176.84,607.03 177.29,606.74 177.66,606.41 177.93,606.05 178.09,605.67 178.15,605.28 178.15,601.96 178.09,602.36 177.93,602.74 177.66,603.10 177.29,603.43 176.84,603.72 176.31,603.97 175.72,604.17 175.08,604.32 174.40,604.41 173.71,604.43 173.03,604.40 172.35,604.30 171.72,604.14 171.13,603.94 170.61,603.68 170.16,603.38 169.81,603.04 169.55,602.67 169.39,602.29 169.34,601.90" fill="#1c0609" stroke="#1c0609" stroke-width="0.8" stroke-linejoin="round"/>
<polygon points="177.33,600.49 177.68,600.83 177.94,601.19 178.10,601.57 178.15,601.96 178.09,602.36 177.93,602.74 177.66,603.10 177.29,603.43 176.84,603.72 176.31,603.97 175.72,604.17 175.08,604.32 174.40,604.41 173.71,604.43 173.03,604.40 172.35,604.30 171.72,604.14 171.13,603.94 170.61,603.68 170.16,603.38 169.81,603.04 169.55,602.67 169.39,602.29 169.34,601.90 169.40,601.51 169.56,601.13 169.83,600.77 170.20,600.44 170.65,600.14 171.18,599.89 171.77,599.69 172.41,599.55 173.09,599.46 173.78,599.43 174.46,599.47 175.14,599.57 175.77,599.72 176.36,599.93 176.88,600.19" fill="#822a3a" stroke="#121212" stroke-width="0.765" stroke-linejoin="round"/>
<polygon points="189.83,607.20 189.88,607.59 190.04,607.98 190.30,608.34 190.65,608.68 191.10,608.98 191.62,609.24 192.21,609.45 192.84,609.60 193.52,609.70 194.20,609.73 194.89,609.71 195.57,609.62 196.21,609.48 196.80,609.27 197.33,609.02 197.78,608.73 198.15,608.40 198.42,608.04 198.58,607.66 198.64,607.27 198.64,603.95 198.58,604.35 198.42,604.73 198.15,605.09 197.78,605.42 197.33,605.71 196.80,605.96 196.21,606.16 195.57,606.31 194.89,606.40 194.20,606.42 193.52,606.39 192.84,606.29 192.21,606.13 191.62,605.93 191.10,605.67 190.65,605.37 190.30,605.03 190.04,604.66 189.88,604.28 189.83,603.89" fill="#1c0609" stroke="#1c0609" stroke-width="0.8" stroke-linejoin="round"/>
<polygon points="197.82,602.48 198.17,602.82 198.43,603.18 198.59,603.56 198.64,603.95 198.58,604.35 198.42,604.73 198.15,605.09 197.78,605.42 197.33,605.71 196.80,605.96 196.21,606.16 195.57,606.31 194.89,606.40 194.20,606.42 193.52,606.39 192.84,606.29 192.21,606.13 191.62,605.93 191.10,605.67 190.65,605.37 190.30,605.03 190.04,604.66 189.88,604.28 189.83,603.89 189.89,603.50 190.05,603.12 190.32,602.76 190.69,602.43 191.14,602.13 191.67,601.88 192.26,601.68 192.90,601.54 193.58,601.45 194.27,601.42 194.95,601.46 195.63,601.56 196.26,601.71 196.85,601.92 197.37,602.18" fill="#822a3a" stroke="#121212" stroke-width="0.765" stroke-linejoin="round"/>
<polygon points="157.40,610.02 157.45,610.41 157.61,610.80 157.87,611.16 158.22,611.50 158.67,611.80 159.19,612.06 159.78,612.27 160.41,612.42 161.09,612.52 161.77,612.55 162.46,612.53 163.14,612.44 163.78,612.30 164.37,612.10 164.90,611.84 165.35,611.55 165.72,611.22 165.99,610.86 166.15,610.48 166.21,610.09 166.21,606.77 166.15,607.17 165.99,607.55 165.72,607.91 165.35,608.24 164.90,608.53 164.37,608.78 163.78,608.98 163.14,609.13 162.46,609.22 161.77,609.24 161.09,609.21 160.41,609.11 159.78,608.95 159.19,608.75 158.67,608.49 158.22,608.19 157.87,607.85 157.61,607.48 157.45,607.10 157.40,606.71" fill="#1c0609" stroke="#1c0609" stroke-width="0.8" stroke-linejoin="round"/>
<polygon points="165.39,605.30 165.74,605.64 166.00,606.00 166.16,606.38 166.21,606.77 166.15,607.17 165.99,607.55 165.72,607.91 165.35,608.24 164.90,608.53 164.37,608.78 163.78,608.98 163.14,609.13 162.46,609.22 161.77,609.24 161.09,609.21 160.41,609.11 159.78,608.95 159.19,608.75 158.67,608.49 158.22,608.19 157.87,607.85 157.61,607.48 157.45,607.10 157.40,606.71 157.46,606.32 157.62,605.94 157.89,605.58 158.26,605.25 158.71,604.95 159.24,604.70 159.83,604.50 160.47,604.36 161.15,604.27 161.84,604.24 162.52,604.28 163.20,604.38 163.83,604.53 164.42,604.74 164.94,605.00" fill="#822a3a" stroke="#121212" stroke-width="0.765" stroke-linejoin="round"/>
<polygon points="177.89,612.01 177.94,612.40 178.10,612.79 178.36,613.15 178.71,613.49 179.16,613.79 179.68,614.05 180.27,614.26 180.90,614.41 181.58,614.51 182.26,614.54 182.95,614.52 183.63,614.43 184.27,614.29 184.86,614.08 185.39,613.83 185.84,613.54 186.21,613.21 186.48,612.85 186.64,612.47 186.70,612.08 186.70,608.76 186.64,609.16 186.48,609.54 186.21,609.90 185.84,610.23 185.39,610.52 184.86,610.77 184.27,610.97 183.63,611.12 182.95,611.21 182.26,611.23 181.58,611.20 180.90,611.10 180.27,610.94 179.68,610.74 179.16,610.48 178.71,610.18 178.36,609.84 178.10,609.47 177.94,609.09 177.89,608.70" fill="#1c0609" stroke="#1c0609" stroke-width="0.8" stroke-linejoin="round"/>
<polygon points="185.88,607.29 186.23,607.63 186.49,607.99 186.65,608.37 186.70,608.76 186.64,609.16 186.48,609.54 186.21,609.90 185.84,610.23 185.39,610.52 184.86,610.77 184.27,610.97 183.63,611.12 182.95,611.21 182.26,611.23 181.58,611.20 180.90,611.10 180.27,610.94 179.68,610.74 179.16,610.48 178.71,610.18 178.36,609.84 178.10,609.47 177.94,609.09 177.89,608.70 177.95,608.31 178.11,607.93 178.38,607.57 178.75,607.24 179.20,606.94 179.73,606.69 180.32,606.49 180.96,606.35 181.64,606.26 182.33,606.23 183.01,606.27 183.69,606.37 184.32,606.52 184.91,606.73 185.43,606.99" fill="#822a3a" stroke="#121212" stroke-width="0.765" stroke-linejoin="round"/>
<polygon points="145.46,614.83 145.51,615.22 145.67,615.61 145.93,615.97 146.28,616.31 146.73,616.61 147.25,616.87 147.84,617.08 148.47,617.23 149.15,617.33 149.83,617.36 150.52,617.34 151.20,617.25 151.84,617.11 152.43,616.90 152.96,616.65 153.41,616.36 153.78,616.03 154.05,615.67 154.21,615.29 154.27,614.90 154.27,611.58 154.21,611.98 154.05,612.36 153.78,612.72 153.41,613.05 152.96,613.34 152.43,613.59 151.84,613.79 151.20,613.94 150.52,614.03 149.83,614.05 149.15,614.02 148.47,613.92 147.84,613.76 147.25,613.56 146.73,613.30 146.28,613.00 145.93,612.66 145.67,612.29 145.51,611.91 145.46,611.52" fill="#1c0609" stroke="#1c0609" stroke-width="0.8" stroke-linejoin="round"/>
<polygon points="153.45,610.11 153.80,610.45 154.06,610.81 154.22,611.19 154.27,611.58 154.21,611.98 154.05,612.36 153.78,612.72 153.41,613.05 152.96,613.34 152.43,613.59 151.84,613.79 151.20,613.94 150.52,614.03 149.83,614.05 149.15,614.02 148.47,613.92 147.84,613.76 147.25,613.56 146.73,613.30 146.28,613.00 145.93,612.66 145.67,612.29 145.51,611.91 145.46,611.52 145.52,611.13 145.68,610.75 145.95,610.39 146.32,610.06 146.77,609.76 147.30,609.51 147.89,609.31 148.53,609.17 149.21,609.08 149.90,609.05 150.58,609.09 151.26,609.19 151.89,609.34 152.48,609.55 153.00,609.81" fill="#822a3a" stroke="#121212" stroke-width="0.765" stroke-linejoin="round"/>
<polygon points="165.95,616.82 166.00,617.21 166.16,617.60 166.42,617.96 166.77,618.30 167.22,618.60 167.74,618.86 168.33,619.07 168.96,619.22 169.64,619.32 170.32,619.35 171.01,619.33 171.69,619.24 172.33,619.10 172.92,618.89 173.45,618.64 173.90,618.35 174.27,618.02 174.54,617.66 174.70,617.28 174.76,616.89 174.76,613.57 174.70,613.97 174.54,614.35 174.27,614.71 173.90,615.04 173.45,615.33 172.92,615.58 172.33,615.78 171.69,615.93 171.01,616.02 170.32,616.04 169.64,616.01 168.96,615.91 168.33,615.75 167.74,615.55 167.22,615.29 166.77,614.99 166.42,614.65 166.16,614.28 166.00,613.90 165.95,613.51" fill="#1c0609" stroke="#1c0609" stroke-width="0.8" stroke-linejoin="round"/>
<polygon points="173.94,612.10 174.29,612.44 174.55,612.80 174.71,613.18 174.76,613.57 174.70,613.97 174.54,614.35 174.27,614.71 173.90,615.04 173.45,615.33 172.92,615.58 172.33,615.78 171.69,615.93 171.01,616.02 170.32,616.04 169.64,616.01 168.96,615.91 168.33,615.75 167.74,615.55 167.22,615.29 166.77,614.99 166.42,614.65 166.16,614.28 166.00,613.90 165.95,613.51 166.01,613.12 166.17,612.74 166.44,612.38 166.81,612.05 167.26,611.75 167.79,611.50 168.38,611.30 169.02,611.16 169.70,611.07 170.39,611.04 171.07,611.08 171.75,611.18 172.38,611.33 172.97,611.54 173.49,611.80" fill="#822a3a" stroke="#121212" stroke-width="0.765" stroke-linejoin="round"/>
<polygon points="133.52,619.64 133.57,620.03 133.73,620.42 133.99,620.78 134.34,621.12 134.79,621.42 135.31,621.68 135.90,621.89 136.53,622.04 137.21,622.14 137.89,622.17 138.58,622.15 139.26,622.06 139.90,621.92 140.49,621.72 141.02,621.46 141.47,621.17 141.84,620.84 142.11,620.48 142.27,620.10 142.33,619.71 142.33,616.39 142.27,616.79 142.11,617.17 141.84,617.53 141.47,617.86 141.02,618.15 140.49,618.40 139.90,618.60 139.26,618.75 138.58,618.84 137.89,618.86 137.21,618.83 136.53,618.73 135.90,618.57 135.31,618.37 134.79,618.11 134.34,617.81 133.99,617.47 133.73,617.10 133.57,616.72 133.52,616.33" fill="#1c0609" stroke="#1c0609" stroke-width="0.8" stroke-linejoin="round"/>
<polygon points="141.51,614.92 141.86,615.26 142.12,615.62 142.28,616.00 142.33,616.39 142.27,616.79 142.11,617.17 141.84,617.53 141.47,617.86 141.02,618.15 140.49,618.40 139.90,618.60 139.26,618.75 138.58,618.84 137.89,618.86 137.21,618.83 136.53,618.73 135.90,618.57 135.31,618.37 134.79,618.11 134.34,617.81 133.99,617.47 133.73,617.10 133.57,616.72 133.52,616.33 133.58,615.94 133.74,615.56 134.01,615.20 134.38,614.87 134.83,614.57 135.36,614.32 135.95,614.12 136.59,613.98 137.27,613.89 137.96,613.86 138.64,613.90 139.32,614.00 139.95,614.15 140.54,614.36 141.06,614.62" fill="#822a3a" stroke="#121212" stroke-width="0.765" stroke-linejoin="round"/>
<polygon points="154.01,621.63 154.06,622.02 154.22,622.41 154.48,622.77 154.83,623.11 155.28,623.41 155.80,623.67 156.39,623.88 157.02,624.03 157.70,624.13 158.38,624.16 159.07,624.14 159.75,624.05 160.39,623.91 160.98,623.70 161.51,623.45 161.96,623.16 162.33,622.83 162.60,622.47 162.76,622.09 162.82,621.70 162.82,618.38 162.76,618.78 162.60,619.16 162.33,619.52 161.96,619.85 161.51,620.14 160.98,620.39 160.39,620.59 159.75,620.74 159.07,620.83 158.38,620.85 157.70,620.82 157.02,620.72 156.39,620.56 155.80,620.36 155.28,620.10 154.83,619.80 154.48,619.46 154.22,619.09 154.06,618.71 154.01,618.32" fill="#1c0609" stroke="#1c0609" stroke-width="0.8" stroke-linejoin="round"/>
<polygon points="162.00,616.91 162.35,617.25 162.61,617.61 162.77,617.99 162.82,618.38 162.76,618.78 162.60,619.16 162.33,619.52 161.96,619.85 161.51,620.14 160.98,620.39 160.39,620.59 159.75,620.74 159.07,620.83 158.38,620.85 157.70,620.82 157.02,620.72 156.39,620.56 155.80,620.36 155.28,620.10 154.83,619.80 154.48,619.46 154.22,619.09 154.06,618.71 154.01,618.32 154.07,617.93 154.23,617.55 154.50,617.19 154.87,616.86 155.32,616.56 155.85,616.31 156.44,616.11 157.08,615.97 157.76,615.88 158.45,615.85 159.13,615.89 159.81,615.99 160.44,616.14 161.03,616.35 161.55,616.61" fill="#822a3a" stroke="#121212" stroke-width="0.765" stroke-linejoin="round"/>
<polygon points="121.58,624.45 121.63,624.84 121.79,625.23 122.05,625.59 122.40,625.93 122.85,626.23 123.37,626.49 123.96,626.70 124.59,626.85 125.27,626.95 125.95,626.98 126.64,626.96 127.32,626.87 127.96,626.73 128.55,626.52 129.08,626.27 129.53,625.98 129.90,625.65 130.17,625.29 130.33,624.91 130.39,624.52 130.39,621.20 130.33,621.60 130.17,621.98 129.90,622.34 129.53,622.67 129.08,622.96 128.55,623.21 127.96,623.41 127.32,623.56 126.64,623.65 125.95,623.67 125.27,623.64 124.59,623.54 123.96,623.38 123.37,623.18 122.85,622.92 122.40,622.62 122.05,622.28 121.79,621.91 121.63,621.53 121.58,621.14" fill="#1c0609" stroke="#1c0609" stroke-width="0.8" stroke-linejoin="round"/>
<polygon points="129.57,619.73 129.92,620.07 130.18,620.43 130.34,620.81 130.39,621.20 130.33,621.60 130.17,621.98 129.90,622.34 129.53,622.67 129.08,622.96 128.55,623.21 127.96,623.41 127.32,623.56 126.64,623.65 125.95,623.67 125.27,623.64 124.59,623.54 123.96,623.38 123.37,623.18 122.85,622.92 122.40,622.62 122.05,622.28 121.79,621.91 121.63,621.53 121.58,621.14 121.64,620.75 121.80,620.37 122.07,620.01 122.44,619.68 122.89,619.38 123.42,619.13 124.01,618.93 124.65,618.79 125.33,618.70 126.02,618.67 126.70,618.71 127.38,618.81 128.01,618.96 128.60,619.17 129.12,619.43" fill="#822a3a" stroke="#121212" stroke-width="0.765" stroke-linejoin="round"/>
<polygon points="142.07,626.44 142.12,626.83 142.28,627.22 142.54,627.58 142.89,627.92 143.34,628.22 143.86,628.48 144.45,628.69 145.08,628.84 145.76,628.94 146.44,628.97 147.13,628.95 147.81,628.86 148.45,628.72 149.04,628.51 149.57,628.26 150.02,627.97 150.39,627.64 150.66,627.28 150.82,626.90 150.88,626.51 150.88,623.19 150.82,623.59 150.66,623.97 150.39,624.33 150.02,624.66 149.57,624.95 149.04,625.20 148.45,625.40 147.81,625.55 147.13,625.64 146.44,625.66 145.76,625.63 145.08,625.53 144.45,625.37 143.86,625.17 143.34,624.91 142.89,624.61 142.54,624.27 142.28,623.90 142.12,623.52 142.07,623.13" fill="#1c0609" stroke="#1c0609" stroke-width="0.8" stroke-linejoin="round"/>
<polygon points="150.06,621.72 150.41,622.06 150.67,622.42 150.83,622.80 150.88,623.19 150.82,623.59 150.66,623.97 150.39,624.33 150.02,624.66 149.57,624.95 149.04,625.20 148.45,625.40 147.81,625.55 147.13,625.64 146.44,625.66 145.76,625.63 145.08,625.53 144.45,625.37 143.86,625.17 143.34,624.91 142.89,624.61 142.54,624.27 142.28,623.90 142.12,623.52 142.07,623.13 142.13,622.74 142.29,622.36 142.56,622.00 142.93,621.67 143.38,621.37 143.91,621.12 144.50,620.92 145.14,620.78 145.82,620.69 146.51,620.66 147.19,620.70 147.87,620.80 148.50,620.95 149.09,621.16 149.61,621.42" fill="#822a3a" stroke="#121212" stroke-width="0.765" stroke-linejoin="round"/>
<polygon points="109.64,629.26 109.69,629.65 109.85,630.04 110.11,630.40 110.46,630.74 110.91,631.04 111.43,631.30 112.02,631.51 112.65,631.66 113.33,631.76 114.01,631.79 114.70,631.77 115.38,631.68 116.02,631.54 116.61,631.34 117.14,631.08 117.59,630.79 117.96,630.46 118.23,630.10 118.39,629.72 118.45,629.33 118.45,626.01 118.39,626.41 118.23,626.79 117.96,627.15 117.59,627.48 117.14,627.77 116.61,628.02 116.02,628.22 115.38,628.37 114.70,628.46 114.01,628.48 113.33,628.45 112.65,628.35 112.02,628.19 111.43,627.99 110.91,627.73 110.46,627.43 110.11,627.09 109.85,626.72 109.69,626.34 109.64,625.95" fill="#1c0609" stroke="#1c0609" stroke-width="0.8" stroke-linejoin="round"/>
<polygon points="117.63,624.54 117.98,624.88 118.24,625.24 118.40,625.62 118.45,626.01 118.39,626.41 118.23,626.79 117.96,627.15 117.59,627.48 117.14,627.77 116.61,628.02 116.02,628.22 115.38,628.37 114.70,628.46 114.01,628.48 113.33,628.45 112.65,628.35 112.02,628.19 111.43,627.99 110.91,627.73 110.46,627.43 110.11,627.09 109.85,626.72 109.69,626.34 109.64,625.95 109.70,625.56 109.86,625.18 110.13,624.82 110.50,624.49 110.95,624.19 111.48,623.94 112.07,623.74 112.71,623.60 113.39,623.51 114.08,623.48 114.76,623.52 115.44,623.62 116.07,623.77 116.66,623.98 117.18,624.24" fill="#822a3a" stroke="#121212" stroke-width="0.765" stroke-linejoin="round"/>
<polygon points="130.13,631.25 130.18,631.64 130.34,632.03 130.60,632.39 130.95,632.73 131.40,633.03 131.92,633.29 132.51,633.50 133.14,633.65 133.82,633.75 134.50,633.78 135.19,633.76 135.87,633.67 136.51,633.53 137.10,633.32 137.63,633.07 138.08,632.78 138.45,632.45 138.72,632.09 138.88,631.71 138.94,631.32 138.94,628.00 138.88,628.40 138.72,628.78 138.45,629.14 138.08,629.47 137.63,629.76 137.10,630.01 136.51,630.21 135.87,630.36 135.19,630.45 134.50,630.47 133.82,630.44 133.14,630.34 132.51,630.18 131.92,629.98 131.40,629.72 130.95,629.42 130.60,629.08 130.34,628.71 130.18,628.33 130.13,627.94" fill="#1c0609" stroke="#1c0609" stroke-width="0.8" stroke-linejoin="round"/>
<polygon points="138.12,626.53 138.47,626.87 138.73,627.23 138.89,627.61 138.94,628.00 138.88,628.40 138.72,628.78 138.45,629.14 138.08,629.47 137.63,629.76 137.10,630.01 136.51,630.21 135.87,630.36 135.19,630.45 134.50,630.47 133.82,630.44 133.14,630.34 132.51,630.18 131.92,629.98 131.40,629.72 130.95,629.42 130.60,629.08 130.34,628.71 130.18,628.33 130.13,627.94 130.19,627.55 130.35,627.17 130.62,626.81 130.99,626.48 131.44,626.18 131.97,625.93 132.56,625.73 133.20,625.59 133.88,625.50 134.57,625.47 135.25,625.51 135.93,625.61 136.56,625.76 137.15,625.97 137.67,626.23" fill="#822a3a" stroke="#121212" stroke-width="0.765" stroke-linejoin="round"/>
<polygon points="118.19,636.06 118.24,636.45 118.40,636.84 118.66,637.20 119.01,637.54 119.46,637.84 119.98,638.10 120.57,638.31 121.20,638.46 121.88,638.56 122.56,638.59 123.25,638.57 123.93,638.48 124.57,638.34 125.16,638.13 125.69,637.88 126.14,637.59 126.51,637.26 126.78,636.90 126.94,636.52 127.00,636.13 127.00,632.81 126.94,633.21 126.78,633.59 126.51,633.95 126.14,634.28 125.69,634.57 125.16,634.82 124.57,635.02 123.93,635.17 123.25,635.26 122.56,635.28 121.88,635.25 121.20,635.15 120.57,634.99 119.98,634.79 119.46,634.53 119.01,634.23 118.66,633.89 118.40,633.52 118.24,633.14 118.19,632.75" fill="#1c0609" stroke="#1c0609" stroke-width="0.8" stroke-linejoin="round"/>
<polygon points="126.18,631.34 126.53,631.68 126.79,632.04 126.95,632.42 127.00,632.81 126.94,633.21 126.78,633.59 126.51,633.95 126.14,634.28 125.69,634.57 125.16,634.82 124.57,635.02 123.93,635.17 123.25,635.26 122.56,635.28 121.88,635.25 121.20,635.15 120.57,634.99 119.98,634.79 119.46,634.53 119.01,634.23 118.66,633.89 118.40,633.52 118.24,633.14 118.19,632.75 118.25,632.36 118.41,631.98 118.68,631.62 119.05,631.29 119.50,630.99 120.03,630.74 120.62,630.54 121.26,630.40 121.94,630.31 122.63,630.28 123.31,630.32 123.99,630.42 124.62,630.57 125.21,630.78 125.73,631.04" fill="#822a3a" stroke="#121212" stroke-width="0.765" stroke-linejoin="round"/>
<text x="103.00" y="658.1" font-size="10.2" fill="#3a3a3a">1x</text>
<text x="48.06 66.14 83.2" y="711.6" font-size="37.5" fill="#1e1e1e" stroke="#e1e1e1" stroke-width="1.17">491</text>
<polygon points="301.78,903.02 276.08,924.52 276.08,931.23 301.78,909.73" fill="#1f40c0" stroke-linejoin="round" stroke="#1f40c0" stroke-width="5.4" stroke-linejoin="round"/>
<polygon points="276.08,924.52 125.60,863.00 125.60,869.71 276.08,931.23" fill="#1f40c0" stroke-linejoin="round" stroke="#1f40c0" stroke-width="5.4" stroke-linejoin="round"/>
<polygon points="151.30,841.50 301.78,903.02 276.08,924.52 125.60,863.00" fill="#1f40c0" stroke-linejoin="round" stroke="#1f40c0" stroke-width="5.4" stroke-linejoin="round"/>
<polygon points="147.45,850.75 147.56,851.37 147.84,851.97 148.28,852.55 148.87,853.07 149.59,853.54 150.43,853.95 151.36,854.27 152.36,854.50 153.41,854.64 154.48,854.69 155.54,854.63 156.58,854.48 157.56,854.24 158.46,853.91 159.25,853.50 159.92,853.03 160.46,852.49 160.84,851.92 161.06,851.31 161.11,850.69 161.11,846.63 161.06,847.26 160.84,847.86 160.46,848.44 159.92,848.97 159.25,849.45 158.46,849.85 157.56,850.18 156.58,850.43 155.54,850.58 154.48,850.63 153.41,850.58 152.36,850.44 151.36,850.21 150.43,849.89 149.59,849.49 148.87,849.02 148.28,848.49 147.84,847.92 147.56,847.31 147.45,846.69" fill="#1f40c0" stroke-linejoin="round" stroke="#1f40c0" stroke-width="5.4" stroke-linejoin="round"/>
<polygon points="159.92,848.97 159.25,849.45 158.46,849.85 157.56,850.18 156.58,850.43 155.54,850.58 154.48,850.63 153.41,850.58 152.36,850.44 151.36,850.21 150.43,849.89 149.59,849.49 148.87,849.02 148.28,848.49 147.84,847.92 147.56,847.31 147.45,846.69 147.50,846.07 147.72,845.47 148.10,844.89 148.64,844.36 149.31,843.88 150.10,843.47 151.00,843.14 151.98,842.90 153.02,842.75 154.08,842.70 155.15,842.74 156.20,842.88 157.20,843.12 158.14,843.44 158.97,843.84 159.69,844.31 160.28,844.84 160.72,845.41 161.00,846.01 161.11,846.63 161.06,847.26 160.84,847.86 160.46,848.44" fill="#1f40c0" stroke-linejoin="round" stroke="#1f40c0" stroke-width="5.4" stroke-linejoin="round"/>
<polygon points="166.26,858.44 166.37,859.06 166.65,859.66 167.09,860.24 167.68,860.76 168.40,861.23 169.24,861.63 170.17,861.96 171.17,862.19 172.22,862.33 173.29,862.38 174.35,862.32 175.39,862.17 176.37,861.93 177.27,861.60 178.06,861.19 178.73,860.72 179.27,860.18 179.65,859.61 179.87,859.00 179.92,858.38 179.92,854.32 179.87,854.95 179.65,855.55 179.27,856.13 178.73,856.66 178.06,857.14 177.27,857.54 176.37,857.87 175.39,858.12 174.35,858.27 173.29,858.32 172.22,858.27 171.17,858.13 170.17,857.90 169.24,857.58 168.40,857.18 167.68,856.71 167.09,856.18 166.65,855.61 166.37,855.00 166.26,854.38" fill="#1f40c0" stroke-linejoin="round" stroke="#1f40c0" stroke-width="5.4" stroke-linejoin="round"/>
<polygon points="178.73,856.66 178.06,857.14 177.27,857.54 176.37,857.87 175.39,858.12 174.35,858.27 173.29,858.32 172.22,858.27 171.17,858.13 170.17,857.90 169.24,857.58 168.40,857.18 167.68,856.71 167.09,856.18 166.65,855.61 166.37,855.00 166.26,854.38 166.31,853.76 166.53,853.16 166.91,852.58 167.45,852.05 168.12,851.57 168.91,851.16 169.81,850.83 170.79,850.59 171.83,850.44 172.89,850.39 173.96,850.43 175.01,850.57 176.01,850.81 176.95,851.13 177.78,851.53 178.50,852.00 179.09,852.53 179.53,853.10 179.81,853.70 179.92,854.32 179.87,854.95 179.65,855.55 179.27,856.13" fill="#1f40c0" stroke-linejoin="round" stroke="#1f40c0" stroke-width="5.4" stroke-linejoin="round"/>
<polygon points="134.60,861.50 134.71,862.12 134.99,862.72 135.43,863.30 136.02,863.82 136.74,864.29 137.58,864.70 138.51,865.02 139.51,865.25 140.56,865.39 141.63,865.44 142.69,865.38 143.73,865.23 144.71,864.99 145.61,864.66 146.40,864.25 147.07,863.78 147.61,863.24 147.99,862.67 148.21,862.06 148.26,861.44 148.26,857.38 148.21,858.01 147.99,858.61 147.61,859.19 147.07,859.72 146.40,860.20 145.61,860.60 144.71,860.93 143.73,861.18 142.69,861.33 141.63,861.38 140.56,861.33 139.51,861.19 138.51,860.96 137.58,860.64 136.74,860.24 136.02,859.77 135.43,859.24 134.99,858.67 134.71,858.06 134.60,857.44" fill="#1f40c0" stroke-linejoin="round" stroke="#1f40c0" stroke-width="5.4" stroke-linejoin="round"/>
<polygon points="147.07,859.72 146.40,860.20 145.61,860.60 144.71,860.93 143.73,861.18 142.69,861.33 141.63,861.38 140.56,861.33 139.51,861.19 138.51,860.96 137.58,860.64 136.74,860.24 136.02,859.77 135.43,859.24 134.99,858.67 134.71,858.06 134.60,857.44 134.65,856.82 134.87,856.22 135.25,855.64 135.79,855.11 136.46,854.63 137.25,854.22 138.15,853.89 139.13,853.65 140.17,853.50 141.23,853.45 142.30,853.49 143.35,853.63 144.35,853.87 145.29,854.19 146.12,854.59 146.84,855.06 147.43,855.59 147.87,856.16 148.15,856.76 148.26,857.38 148.21,858.01 147.99,858.61 147.61,859.19" fill="#1f40c0" stroke-linejoin="round" stroke="#1f40c0" stroke-width="5.4" stroke-linejoin="round"/>
<polygon points="185.07,866.13 185.18,866.75 185.46,867.35 185.90,867.93 186.49,868.45 187.21,868.92 188.05,869.33 188.98,869.65 189.98,869.88 191.03,870.02 192.10,870.07 193.16,870.01 194.20,869.86 195.18,869.62 196.08,869.29 196.87,868.88 197.54,868.41 198.08,867.87 198.46,867.30 198.68,866.69 198.73,866.07 198.73,862.01 198.68,862.64 198.46,863.24 198.08,863.82 197.54,864.35 196.87,864.83 196.08,865.23 195.18,865.56 194.20,865.81 193.16,865.96 192.10,866.01 191.03,865.96 189.98,865.82 188.98,865.59 188.05,865.27 187.21,864.87 186.49,864.40 185.90,863.87 185.46,863.30 185.18,862.69 185.07,862.07" fill="#1f40c0" stroke-linejoin="round" stroke="#1f40c0" stroke-width="5.4" stroke-linejoin="round"/>
<polygon points="197.54,864.35 196.87,864.83 196.08,865.23 195.18,865.56 194.20,865.81 193.16,865.96 192.10,866.01 191.03,865.96 189.98,865.82 188.98,865.59 188.05,865.27 187.21,864.87 186.49,864.40 185.90,863.87 185.46,863.30 185.18,862.69 185.07,862.07 185.12,861.45 185.34,860.85 185.72,860.27 186.26,859.74 186.93,859.26 187.72,858.85 188.62,858.52 189.60,858.28 190.64,858.13 191.70,858.08 192.77,858.12 193.82,858.26 194.82,858.50 195.76,858.82 196.59,859.22 197.31,859.69 197.90,860.22 198.34,860.79 198.62,861.39 198.73,862.01 198.68,862.64 198.46,863.24 198.08,863.82" fill="#1f40c0" stroke-linejoin="round" stroke="#1f40c0" stroke-width="5.4" stroke-linejoin="round"/>
<polygon points="153.41,869.19 153.52,869.81 153.80,870.41 154.24,870.99 154.83,871.51 155.55,871.98 156.39,872.38 157.32,872.71 158.32,872.94 159.37,873.08 160.44,873.13 161.50,873.07 162.54,872.92 163.52,872.68 164.42,872.35 165.21,871.94 165.88,871.47 166.42,870.93 166.80,870.36 167.02,869.75 167.07,869.13 167.07,865.07 167.02,865.70 166.80,866.30 166.42,866.88 165.88,867.41 165.21,867.89 164.42,868.29 163.52,868.62 162.54,868.87 161.50,869.02 160.44,869.07 159.37,869.02 158.32,868.88 157.32,868.65 156.39,868.33 155.55,867.93 154.83,867.46 154.24,866.93 153.80,866.36 153.52,865.75 153.41,865.13" fill="#1f40c0" stroke-linejoin="round" stroke="#1f40c0" stroke-width="5.4" stroke-linejoin="round"/>
<polygon points="165.88,867.41 165.21,867.89 164.42,868.29 163.52,868.62 162.54,868.87 161.50,869.02 160.44,869.07 159.37,869.02 158.32,868.88 157.32,868.65 156.39,868.33 155.55,867.93 154.83,867.46 154.24,866.93 153.80,866.36 153.52,865.75 153.41,865.13 153.46,864.51 153.68,863.91 154.06,863.33 154.60,862.80 155.27,862.32 156.06,861.91 156.96,861.58 157.94,861.34 158.98,861.19 160.04,861.14 161.11,861.18 162.16,861.32 163.16,861.56 164.10,861.88 164.93,862.28 165.65,862.75 166.24,863.28 166.68,863.85 166.96,864.45 167.07,865.07 167.02,865.70 166.80,866.30 166.42,866.88" fill="#1f40c0" stroke-linejoin="round" stroke="#1f40c0" stroke-width="5.4" stroke-linejoin="round"/>
<polygon points="172.22,876.88 172.33,877.50 172.61,878.10 173.05,878.68 173.64,879.20 174.36,879.67 175.20,880.08 176.13,880.40 177.13,880.63 178.18,880.77 179.25,880.82 180.31,880.76 181.35,880.61 182.33,880.37 183.23,880.04 184.02,879.63 184.69,879.16 185.23,878.62 185.61,878.05 185.83,877.44 185.88,876.82 185.88,872.76 185.83,873.39 185.61,873.99 185.23,874.57 184.69,875.10 184.02,875.58 183.23,875.98 182.33,876.31 181.35,876.56 180.31,876.71 179.25,876.76 178.18,876.71 177.13,876.57 176.13,876.34 175.20,876.02 174.36,875.62 173.64,875.15 173.05,874.62 172.61,874.05 172.33,873.44 172.22,872.82" fill="#1f40c0" stroke-linejoin="round" stroke="#1f40c0" stroke-width="5.4" stroke-linejoin="round"/>
<polygon points="184.69,875.10 184.02,875.58 183.23,875.98 182.33,876.31 181.35,876.56 180.31,876.71 179.25,876.76 178.18,876.71 177.13,876.57 176.13,876.34 175.20,876.02 174.36,875.62 173.64,875.15 173.05,874.62 172.61,874.05 172.33,873.44 172.22,872.82 172.27,872.20 172.49,871.60 172.87,871.02 173.41,870.49 174.08,870.01 174.87,869.60 175.77,869.27 176.75,869.03 177.79,868.88 178.85,868.83 179.92,868.87 180.97,869.01 181.97,869.25 182.91,869.57 183.74,869.97 184.46,870.44 185.05,870.97 185.49,871.54 185.77,872.14 185.88,872.76 185.83,873.39 185.61,873.99 185.23,874.57" fill="#1f40c0" stroke-linejoin="round" stroke="#1f40c0" stroke-width="5.4" stroke-linejoin="round"/>
<polygon points="241.50,889.20 241.61,889.82 241.89,890.42 242.33,891.00 242.92,891.52 243.64,891.99 244.47,892.39 245.41,892.72 246.41,892.95 247.46,893.09 248.53,893.14 249.59,893.08 250.63,892.93 251.61,892.69 252.51,892.36 253.30,891.95 253.97,891.48 254.51,890.94 254.89,890.37 255.11,889.76 255.16,889.14 255.16,885.08 255.11,885.71 254.89,886.31 254.51,886.89 253.97,887.42 253.30,887.90 252.51,888.30 251.61,888.63 250.63,888.88 249.59,889.03 248.53,889.08 247.46,889.03 246.41,888.89 245.41,888.66 244.47,888.34 243.64,887.94 242.92,887.47 242.33,886.94 241.89,886.37 241.61,885.76 241.50,885.14" fill="#1f40c0" stroke-linejoin="round" stroke="#1f40c0" stroke-width="5.4" stroke-linejoin="round"/>
<polygon points="253.97,887.42 253.30,887.90 252.51,888.30 251.61,888.63 250.63,888.88 249.59,889.03 248.53,889.08 247.46,889.03 246.41,888.89 245.41,888.66 244.47,888.34 243.64,887.94 242.92,887.47 242.33,886.94 241.89,886.37 241.61,885.76 241.50,885.14 241.55,884.52 241.77,883.92 242.15,883.34 242.69,882.81 243.36,882.33 244.15,881.92 245.05,881.59 246.03,881.35 247.07,881.20 248.13,881.15 249.20,881.19 250.25,881.33 251.25,881.57 252.19,881.89 253.02,882.29 253.74,882.76 254.33,883.29 254.77,883.86 255.05,884.46 255.16,885.08 255.11,885.71 254.89,886.31 254.51,886.89" fill="#1f40c0" stroke-linejoin="round" stroke="#1f40c0" stroke-width="5.4" stroke-linejoin="round"/>
<polygon points="260.31,896.89 260.42,897.51 260.70,898.11 261.14,898.69 261.73,899.21 262.45,899.68 263.28,900.09 264.22,900.41 265.22,900.64 266.27,900.78 267.34,900.83 268.40,900.77 269.44,900.62 270.42,900.38 271.32,900.05 272.11,899.64 272.78,899.17 273.32,898.63 273.70,898.06 273.92,897.45 273.97,896.83 273.97,892.77 273.92,893.40 273.70,894.00 273.32,894.58 272.78,895.11 272.11,895.59 271.32,895.99 270.42,896.32 269.44,896.57 268.40,896.72 267.34,896.77 266.27,896.72 265.22,896.58 264.22,896.35 263.28,896.03 262.45,895.63 261.73,895.16 261.14,894.63 260.70,894.06 260.42,893.45 260.31,892.83" fill="#1f40c0" stroke-linejoin="round" stroke="#1f40c0" stroke-width="5.4" stroke-linejoin="round"/>
<polygon points="272.78,895.11 272.11,895.59 271.32,895.99 270.42,896.32 269.44,896.57 268.40,896.72 267.34,896.77 266.27,896.72 265.22,896.58 264.22,896.35 263.28,896.03 262.45,895.63 261.73,895.16 261.14,894.63 260.70,894.06 260.42,893.45 260.31,892.83 260.36,892.21 260.58,891.61 260.96,891.03 261.50,890.50 262.17,890.02 262.96,889.61 263.86,889.28 264.84,889.04 265.88,888.89 266.94,888.84 268.01,888.88 269.06,889.02 270.06,889.26 271.00,889.58 271.83,889.98 272.55,890.45 273.14,890.98 273.58,891.55 273.86,892.15 273.97,892.77 273.92,893.40 273.70,894.00 273.32,894.58" fill="#1f40c0" stroke-linejoin="round" stroke="#1f40c0" stroke-width="5.4" stroke-linejoin="round"/>
<polygon points="228.65,899.95 228.76,900.57 229.04,901.17 229.48,901.75 230.07,902.27 230.79,902.74 231.62,903.14 232.56,903.47 233.56,903.70 234.61,903.84 235.68,903.89 236.74,903.83 237.78,903.68 238.76,903.44 239.66,903.11 240.45,902.70 241.12,902.23 241.66,901.69 242.04,901.12 242.26,900.51 242.31,899.89 242.31,895.83 242.26,896.46 242.04,897.06 241.66,897.64 241.12,898.17 240.45,898.65 239.66,899.05 238.76,899.38 237.78,899.63 236.74,899.78 235.68,899.83 234.61,899.78 233.56,899.64 232.56,899.41 231.62,899.09 230.79,898.69 230.07,898.22 229.48,897.69 229.04,897.12 228.76,896.51 228.65,895.89" fill="#1f40c0" stroke-linejoin="round" stroke="#1f40c0" stroke-width="5.4" stroke-linejoin="round"/>
<polygon points="241.12,898.17 240.45,898.65 239.66,899.05 238.76,899.38 237.78,899.63 236.74,899.78 235.68,899.83 234.61,899.78 233.56,899.64 232.56,899.41 231.62,899.09 230.79,898.69 230.07,898.22 229.48,897.69 229.04,897.12 228.76,896.51 228.65,895.89 228.70,895.27 228.92,894.67 229.30,894.09 229.84,893.56 230.51,893.08 231.30,892.67 232.20,892.34 233.18,892.10 234.22,891.95 235.28,891.90 236.35,891.94 237.40,892.08 238.40,892.32 239.34,892.64 240.17,893.04 240.89,893.51 241.48,894.04 241.92,894.61 242.20,895.21 242.31,895.83 242.26,896.46 242.04,897.06 241.66,897.64" fill="#1f40c0" stroke-linejoin="round" stroke="#1f40c0" stroke-width="5.4" stroke-linejoin="round"/>
<polygon points="279.12,904.58 279.23,905.20 279.51,905.80 279.95,906.38 280.54,906.90 281.26,907.37 282.10,907.77 283.03,908.10 284.03,908.33 285.08,908.47 286.15,908.52 287.21,908.46 288.25,908.31 289.23,908.07 290.13,907.74 290.92,907.33 291.59,906.86 292.13,906.32 292.51,905.75 292.73,905.14 292.78,904.52 292.78,900.46 292.73,901.09 292.51,901.69 292.13,902.27 291.59,902.80 290.92,903.28 290.13,903.68 289.23,904.01 288.25,904.26 287.21,904.41 286.15,904.46 285.08,904.41 284.03,904.27 283.03,904.04 282.10,903.72 281.26,903.32 280.54,902.85 279.95,902.32 279.51,901.75 279.23,901.14 279.12,900.52" fill="#1f40c0" stroke-linejoin="round" stroke="#1f40c0" stroke-width="5.4" stroke-linejoin="round"/>
<polygon points="291.59,902.80 290.92,903.28 290.13,903.68 289.23,904.01 288.25,904.26 287.21,904.41 286.15,904.46 285.08,904.41 284.03,904.27 283.03,904.04 282.10,903.72 281.26,903.32 280.54,902.85 279.95,902.32 279.51,901.75 279.23,901.14 279.12,900.52 279.17,899.90 279.39,899.30 279.77,898.72 280.31,898.19 280.98,897.71 281.77,897.30 282.67,896.97 283.65,896.73 284.69,896.58 285.75,896.53 286.82,896.57 287.87,896.71 288.87,896.95 289.81,897.27 290.64,897.67 291.36,898.14 291.95,898.67 292.39,899.24 292.67,899.84 292.78,900.46 292.73,901.09 292.51,901.69 292.13,902.27" fill="#1f40c0" stroke-linejoin="round" stroke="#1f40c0" stroke-width="5.4" stroke-linejoin="round"/>
<polygon points="247.46,907.64 247.57,908.26 247.85,908.86 248.29,909.44 248.88,909.96 249.60,910.43 250.44,910.84 251.37,911.16 252.37,911.39 253.42,911.53 254.49,911.58 255.55,911.52 256.59,911.37 257.57,911.13 258.47,910.80 259.26,910.39 259.93,909.92 260.47,909.38 260.85,908.81 261.07,908.20 261.12,907.58 261.12,903.52 261.07,904.15 260.85,904.75 260.47,905.33 259.93,905.86 259.26,906.34 258.47,906.74 257.57,907.07 256.59,907.32 255.55,907.47 254.49,907.52 253.42,907.47 252.37,907.33 251.37,907.10 250.44,906.78 249.60,906.38 248.88,905.91 248.29,905.38 247.85,904.81 247.57,904.20 247.46,903.58" fill="#1f40c0" stroke-linejoin="round" stroke="#1f40c0" stroke-width="5.4" stroke-linejoin="round"/>
<polygon points="259.93,905.86 259.26,906.34 258.47,906.74 257.57,907.07 256.59,907.32 255.55,907.47 254.49,907.52 253.42,907.47 252.37,907.33 251.37,907.10 250.44,906.78 249.60,906.38 248.88,905.91 248.29,905.38 247.85,904.81 247.57,904.20 247.46,903.58 247.51,902.96 247.73,902.36 248.11,901.78 248.65,901.25 249.32,900.77 250.11,900.36 251.01,900.03 251.99,899.79 253.03,899.64 254.09,899.59 255.16,899.63 256.21,899.77 257.21,900.01 258.14,900.33 258.98,900.73 259.70,901.20 260.29,901.73 260.73,902.30 261.01,902.90 261.12,903.52 261.07,904.15 260.85,904.75 260.47,905.33" fill="#1f40c0" stroke-linejoin="round" stroke="#1f40c0" stroke-width="5.4" stroke-linejoin="round"/>
<polygon points="266.27,915.33 266.38,915.95 266.66,916.55 267.10,917.13 267.69,917.65 268.41,918.12 269.25,918.52 270.18,918.85 271.18,919.08 272.23,919.22 273.30,919.27 274.36,919.21 275.40,919.06 276.38,918.82 277.28,918.49 278.07,918.08 278.74,917.61 279.28,917.07 279.66,916.50 279.88,915.89 279.93,915.27 279.93,911.21 279.88,911.84 279.66,912.44 279.28,913.02 278.74,913.55 278.07,914.03 277.28,914.43 276.38,914.76 275.40,915.01 274.36,915.16 273.30,915.21 272.23,915.16 271.18,915.02 270.18,914.79 269.25,914.47 268.41,914.07 267.69,913.60 267.10,913.07 266.66,912.50 266.38,911.89 266.27,911.27" fill="#1f40c0" stroke-linejoin="round" stroke="#1f40c0" stroke-width="5.4" stroke-linejoin="round"/>
<polygon points="278.74,913.55 278.07,914.03 277.28,914.43 276.38,914.76 275.40,915.01 274.36,915.16 273.30,915.21 272.23,915.16 271.18,915.02 270.18,914.79 269.25,914.47 268.41,914.07 267.69,913.60 267.10,913.07 266.66,912.50 266.38,911.89 266.27,911.27 266.32,910.65 266.54,910.05 266.92,909.47 267.46,908.94 268.13,908.46 268.92,908.05 269.82,907.72 270.80,907.48 271.84,907.33 272.90,907.28 273.97,907.32 275.02,907.46 276.02,907.70 276.95,908.02 277.79,908.42 278.51,908.89 279.10,909.42 279.54,909.99 279.82,910.59 279.93,911.21 279.88,911.84 279.66,912.44 279.28,913.02" fill="#1f40c0" stroke-linejoin="round" stroke="#1f40c0" stroke-width="5.4" stroke-linejoin="round"/>
<polygon points="301.78,903.02 276.08,924.52 276.08,931.23 301.78,909.73" fill="#7c2735" stroke="#121212" stroke-width="1.15" stroke-linejoin="round"/>
<polygon points="276.08,924.52 125.60,863.00 125.60,869.71 276.08,931.23" fill="#7e2837" stroke="#121212" stroke-width="1.15" stroke-linejoin="round"/>
<polygon points="151.30,841.50 301.78,903.02 276.08,924.52 125.60,863.00" fill="#822a3a" stroke="#121212" stroke-width="1.15" stroke-linejoin="round"/>
<polygon points="147.45,850.75 147.56,851.37 147.84,851.97 148.28,852.55 148.87,853.07 149.59,853.54 150.43,853.95 151.36,854.27 152.36,854.50 153.41,854.64 154.48,854.69 155.54,854.63 156.58,854.48 157.56,854.24 158.46,853.91 159.25,853.50 159.92,853.03 160.46,852.49 160.84,851.92 161.06,851.31 161.11,850.69 161.11,846.63 161.06,847.26 160.84,847.86 160.46,848.44 159.92,848.97 159.25,849.45 158.46,849.85 157.56,850.18 156.58,850.43 155.54,850.58 154.48,850.63 153.41,850.58 152.36,850.44 151.36,850.21 150.43,849.89 149.59,849.49 148.87,849.02 148.28,848.49 147.84,847.92 147.56,847.31 147.45,846.69" fill="#1c0609" stroke="#1c0609" stroke-width="0.8" stroke-linejoin="round"/>
<polygon points="159.92,848.97 159.25,849.45 158.46,849.85 157.56,850.18 156.58,850.43 155.54,850.58 154.48,850.63 153.41,850.58 152.36,850.44 151.36,850.21 150.43,849.89 149.59,849.49 148.87,849.02 148.28,848.49 147.84,847.92 147.56,847.31 147.45,846.69 147.50,846.07 147.72,845.47 148.10,844.89 148.64,844.36 149.31,843.88 150.10,843.47 151.00,843.14 151.98,842.90 153.02,842.75 154.08,842.70 155.15,842.74 156.20,842.88 157.20,843.12 158.14,843.44 158.97,843.84 159.69,844.31 160.28,844.84 160.72,845.41 161.00,846.01 161.11,846.63 161.06,847.26 160.84,847.86 160.46,848.44" fill="#822a3a" stroke="#121212" stroke-width="1.035" stroke-linejoin="round"/>
<polygon points="166.26,858.44 166.37,859.06 166.65,859.66 167.09,860.24 167.68,860.76 168.40,861.23 169.24,861.63 170.17,861.96 171.17,862.19 172.22,862.33 173.29,862.38 174.35,862.32 175.39,862.17 176.37,861.93 177.27,861.60 178.06,861.19 178.73,860.72 179.27,860.18 179.65,859.61 179.87,859.00 179.92,858.38 179.92,854.32 179.87,854.95 179.65,855.55 179.27,856.13 178.73,856.66 178.06,857.14 177.27,857.54 176.37,857.87 175.39,858.12 174.35,858.27 173.29,858.32 172.22,858.27 171.17,858.13 170.17,857.90 169.24,857.58 168.40,857.18 167.68,856.71 167.09,856.18 166.65,855.61 166.37,855.00 166.26,854.38" fill="#1c0609" stroke="#1c0609" stroke-width="0.8" stroke-linejoin="round"/>
<polygon points="178.73,856.66 178.06,857.14 177.27,857.54 176.37,857.87 175.39,858.12 174.35,858.27 173.29,858.32 172.22,858.27 171.17,858.13 170.17,857.90 169.24,857.58 168.40,857.18 167.68,856.71 167.09,856.18 166.65,855.61 166.37,855.00 166.26,854.38 166.31,853.76 166.53,853.16 166.91,852.58 167.45,852.05 168.12,851.57 168.91,851.16 169.81,850.83 170.79,850.59 171.83,850.44 172.89,850.39 173.96,850.43 175.01,850.57 176.01,850.81 176.95,851.13 177.78,851.53 178.50,852.00 179.09,852.53 179.53,853.10 179.81,853.70 179.92,854.32 179.87,854.95 179.65,855.55 179.27,856.13" fill="#822a3a" stroke="#121212" stroke-width="1.035" stroke-linejoin="round"/>
<polygon points="134.60,861.50 134.71,862.12 134.99,862.72 135.43,863.30 136.02,863.82 136.74,864.29 137.58,864.70 138.51,865.02 139.51,865.25 140.56,865.39 141.63,865.44 142.69,865.38 143.73,865.23 144.71,864.99 145.61,864.66 146.40,864.25 147.07,863.78 147.61,863.24 147.99,862.67 148.21,862.06 148.26,861.44 148.26,857.38 148.21,858.01 147.99,858.61 147.61,859.19 147.07,859.72 146.40,860.20 145.61,860.60 144.71,860.93 143.73,861.18 142.69,861.33 141.63,861.38 140.56,861.33 139.51,861.19 138.51,860.96 137.58,860.64 136.74,860.24 136.02,859.77 135.43,859.24 134.99,858.67 134.71,858.06 134.60,857.44" fill="#1c0609" stroke="#1c0609" stroke-width="0.8" stroke-linejoin="round"/>
<polygon points="147.07,859.72 146.40,860.20 145.61,860.60 144.71,860.93 143.73,861.18 142.69,861.33 141.63,861.38 140.56,861.33 139.51,861.19 138.51,860.96 137.58,860.64 136.74,860.24 136.02,859.77 135.43,859.24 134.99,858.67 134.71,858.06 134.60,857.44 134.65,856.82 134.87,856.22 135.25,855.64 135.79,855.11 136.46,854.63 137.25,854.22 138.15,853.89 139.13,853.65 140.17,853.50 141.23,853.45 142.30,853.49 143.35,853.63 144.35,853.87 145.29,854.19 146.12,854.59 146.84,855.06 147.43,855.59 147.87,856.16 148.15,856.76 148.26,857.38 148.21,858.01 147.99,858.61 147.61,859.19" fill="#822a3a" stroke="#121212" stroke-width="1.035" stroke-linejoin="round"/>
<polygon points="185.07,866.13 185.18,866.75 185.46,867.35 185.90,867.93 186.49,868.45 187.21,868.92 188.05,869.33 188.98,869.65 189.98,869.88 191.03,870.02 192.10,870.07 193.16,870.01 194.20,869.86 195.18,869.62 196.08,869.29 196.87,868.88 197.54,868.41 198.08,867.87 198.46,867.30 198.68,866.69 198.73,866.07 198.73,862.01 198.68,862.64 198.46,863.24 198.08,863.82 197.54,864.35 196.87,864.83 196.08,865.23 195.18,865.56 194.20,865.81 193.16,865.96 192.10,866.01 191.03,865.96 189.98,865.82 188.98,865.59 188.05,865.27 187.21,864.87 186.49,864.40 185.90,863.87 185.46,863.30 185.18,862.69 185.07,862.07" fill="#1c0609" stroke="#1c0609" stroke-width="0.8" stroke-linejoin="round"/>
<polygon points="197.54,864.35 196.87,864.83 196.08,865.23 195.18,865.56 194.20,865.81 193.16,865.96 192.10,866.01 191.03,865.96 189.98,865.82 188.98,865.59 188.05,865.27 187.21,864.87 186.49,864.40 185.90,863.87 185.46,863.30 185.18,862.69 185.07,862.07 185.12,861.45 185.34,860.85 185.72,860.27 186.26,859.74 186.93,859.26 187.72,858.85 188.62,858.52 189.60,858.28 190.64,858.13 191.70,858.08 192.77,858.12 193.82,858.26 194.82,858.50 195.76,858.82 196.59,859.22 197.31,859.69 197.90,860.22 198.34,860.79 198.62,861.39 198.73,862.01 198.68,862.64 198.46,863.24 198.08,863.82" fill="#822a3a" stroke="#121212" stroke-width="1.035" stroke-linejoin="round"/>
<polygon points="153.41,869.19 153.52,869.81 153.80,870.41 154.24,870.99 154.83,871.51 155.55,871.98 156.39,872.38 157.32,872.71 158.32,872.94 159.37,873.08 160.44,873.13 161.50,873.07 162.54,872.92 163.52,872.68 164.42,872.35 165.21,871.94 165.88,871.47 166.42,870.93 166.80,870.36 167.02,869.75 167.07,869.13 167.07,865.07 167.02,865.70 166.80,866.30 166.42,866.88 165.88,867.41 165.21,867.89 164.42,868.29 163.52,868.62 162.54,868.87 161.50,869.02 160.44,869.07 159.37,869.02 158.32,868.88 157.32,868.65 156.39,868.33 155.55,867.93 154.83,867.46 154.24,866.93 153.80,866.36 153.52,865.75 153.41,865.13" fill="#1c0609" stroke="#1c0609" stroke-width="0.8" stroke-linejoin="round"/>
<polygon points="165.88,867.41 165.21,867.89 164.42,868.29 163.52,868.62 162.54,868.87 161.50,869.02 160.44,869.07 159.37,869.02 158.32,868.88 157.32,868.65 156.39,868.33 155.55,867.93 154.83,867.46 154.24,866.93 153.80,866.36 153.52,865.75 153.41,865.13 153.46,864.51 153.68,863.91 154.06,863.33 154.60,862.80 155.27,862.32 156.06,861.91 156.96,861.58 157.94,861.34 158.98,861.19 160.04,861.14 161.11,861.18 162.16,861.32 163.16,861.56 164.10,861.88 164.93,862.28 165.65,862.75 166.24,863.28 166.68,863.85 166.96,864.45 167.07,865.07 167.02,865.70 166.80,866.30 166.42,866.88" fill="#822a3a" stroke="#121212" stroke-width="1.035" stroke-linejoin="round"/>
<polygon points="172.22,876.88 172.33,877.50 172.61,878.10 173.05,878.68 173.64,879.20 174.36,879.67 175.20,880.08 176.13,880.40 177.13,880.63 178.18,880.77 179.25,880.82 180.31,880.76 181.35,880.61 182.33,880.37 183.23,880.04 184.02,879.63 184.69,879.16 185.23,878.62 185.61,878.05 185.83,877.44 185.88,876.82 185.88,872.76 185.83,873.39 185.61,873.99 185.23,874.57 184.69,875.10 184.02,875.58 183.23,875.98 182.33,876.31 181.35,876.56 180.31,876.71 179.25,876.76 178.18,876.71 177.13,876.57 176.13,876.34 175.20,876.02 174.36,875.62 173.64,875.15 173.05,874.62 172.61,874.05 172.33,873.44 172.22,872.82" fill="#1c0609" stroke="#1c0609" stroke-width="0.8" stroke-linejoin="round"/>
<polygon points="184.69,875.10 184.02,875.58 183.23,875.98 182.33,876.31 181.35,876.56 180.31,876.71 179.25,876.76 178.18,876.71 177.13,876.57 176.13,876.34 175.20,876.02 174.36,875.62 173.64,875.15 173.05,874.62 172.61,874.05 172.33,873.44 172.22,872.82 172.27,872.20 172.49,871.60 172.87,871.02 173.41,870.49 174.08,870.01 174.87,869.60 175.77,869.27 176.75,869.03 177.79,868.88 178.85,868.83 179.92,868.87 180.97,869.01 181.97,869.25 182.91,869.57 183.74,869.97 184.46,870.44 185.05,870.97 185.49,871.54 185.77,872.14 185.88,872.76 185.83,873.39 185.61,873.99 185.23,874.57" fill="#822a3a" stroke="#121212" stroke-width="1.035" stroke-linejoin="round"/>
<polygon points="241.50,889.20 241.61,889.82 241.89,890.42 242.33,891.00 242.92,891.52 243.64,891.99 244.47,892.39 245.41,892.72 246.41,892.95 247.46,893.09 248.53,893.14 249.59,893.08 250.63,892.93 251.61,892.69 252.51,892.36 253.30,891.95 253.97,891.48 254.51,890.94 254.89,890.37 255.11,889.76 255.16,889.14 255.16,885.08 255.11,885.71 254.89,886.31 254.51,886.89 253.97,887.42 253.30,887.90 252.51,888.30 251.61,888.63 250.63,888.88 249.59,889.03 248.53,889.08 247.46,889.03 246.41,888.89 245.41,888.66 244.47,888.34 243.64,887.94 242.92,887.47 242.33,886.94 241.89,886.37 241.61,885.76 241.50,885.14" fill="#1c0609" stroke="#1c0609" stroke-width="0.8" stroke-linejoin="round"/>
<polygon points="253.97,887.42 253.30,887.90 252.51,888.30 251.61,888.63 250.63,888.88 249.59,889.03 248.53,889.08 247.46,889.03 246.41,888.89 245.41,888.66 244.47,888.34 243.64,887.94 242.92,887.47 242.33,886.94 241.89,886.37 241.61,885.76 241.50,885.14 241.55,884.52 241.77,883.92 242.15,883.34 242.69,882.81 243.36,882.33 244.15,881.92 245.05,881.59 246.03,881.35 247.07,881.20 248.13,881.15 249.20,881.19 250.25,881.33 251.25,881.57 252.19,881.89 253.02,882.29 253.74,882.76 254.33,883.29 254.77,883.86 255.05,884.46 255.16,885.08 255.11,885.71 254.89,886.31 254.51,886.89" fill="#822a3a" stroke="#121212" stroke-width="1.035" stroke-linejoin="round"/>
<polygon points="260.31,896.89 260.42,897.51 260.70,898.11 261.14,898.69 261.73,899.21 262.45,899.68 263.28,900.09 264.22,900.41 265.22,900.64 266.27,900.78 267.34,900.83 268.40,900.77 269.44,900.62 270.42,900.38 271.32,900.05 272.11,899.64 272.78,899.17 273.32,898.63 273.70,898.06 273.92,897.45 273.97,896.83 273.97,892.77 273.92,893.40 273.70,894.00 273.32,894.58 272.78,895.11 272.11,895.59 271.32,895.99 270.42,896.32 269.44,896.57 268.40,896.72 267.34,896.77 266.27,896.72 265.22,896.58 264.22,896.35 263.28,896.03 262.45,895.63 261.73,895.16 261.14,894.63 260.70,894.06 260.42,893.45 260.31,892.83" fill="#1c0609" stroke="#1c0609" stroke-width="0.8" stroke-linejoin="round"/>
<polygon points="272.78,895.11 272.11,895.59 271.32,895.99 270.42,896.32 269.44,896.57 268.40,896.72 267.34,896.77 266.27,896.72 265.22,896.58 264.22,896.35 263.28,896.03 262.45,895.63 261.73,895.16 261.14,894.63 260.70,894.06 260.42,893.45 260.31,892.83 260.36,892.21 260.58,891.61 260.96,891.03 261.50,890.50 262.17,890.02 262.96,889.61 263.86,889.28 264.84,889.04 265.88,888.89 266.94,888.84 268.01,888.88 269.06,889.02 270.06,889.26 271.00,889.58 271.83,889.98 272.55,890.45 273.14,890.98 273.58,891.55 273.86,892.15 273.97,892.77 273.92,893.40 273.70,894.00 273.32,894.58" fill="#822a3a" stroke="#121212" stroke-width="1.035" stroke-linejoin="round"/>
<polygon points="228.65,899.95 228.76,900.57 229.04,901.17 229.48,901.75 230.07,902.27 230.79,902.74 231.62,903.14 232.56,903.47 233.56,903.70 234.61,903.84 235.68,903.89 236.74,903.83 237.78,903.68 238.76,903.44 239.66,903.11 240.45,902.70 241.12,902.23 241.66,901.69 242.04,901.12 242.26,900.51 242.31,899.89 242.31,895.83 242.26,896.46 242.04,897.06 241.66,897.64 241.12,898.17 240.45,898.65 239.66,899.05 238.76,899.38 237.78,899.63 236.74,899.78 235.68,899.83 234.61,899.78 233.56,899.64 232.56,899.41 231.62,899.09 230.79,898.69 230.07,898.22 229.48,897.69 229.04,897.12 228.76,896.51 228.65,895.89" fill="#1c0609" stroke="#1c0609" stroke-width="0.8" stroke-linejoin="round"/>
<polygon points="241.12,898.17 240.45,898.65 239.66,899.05 238.76,899.38 237.78,899.63 236.74,899.78 235.68,899.83 234.61,899.78 233.56,899.64 232.56,899.41 231.62,899.09 230.79,898.69 230.07,898.22 229.48,897.69 229.04,897.12 228.76,896.51 228.65,895.89 228.70,895.27 228.92,894.67 229.30,894.09 229.84,893.56 230.51,893.08 231.30,892.67 232.20,892.34 233.18,892.10 234.22,891.95 235.28,891.90 236.35,891.94 237.40,892.08 238.40,892.32 239.34,892.64 240.17,893.04 240.89,893.51 241.48,894.04 241.92,894.61 242.20,895.21 242.31,895.83 242.26,896.46 242.04,897.06 241.66,897.64" fill="#822a3a" stroke="#121212" stroke-width="1.035" stroke-linejoin="round"/>
<polygon points="279.12,904.58 279.23,905.20 279.51,905.80 279.95,906.38 280.54,906.90 281.26,907.37 282.10,907.77 283.03,908.10 284.03,908.33 285.08,908.47 286.15,908.52 287.21,908.46 288.25,908.31 289.23,908.07 290.13,907.74 290.92,907.33 291.59,906.86 292.13,906.32 292.51,905.75 292.73,905.14 292.78,904.52 292.78,900.46 292.73,901.09 292.51,901.69 292.13,902.27 291.59,902.80 290.92,903.28 290.13,903.68 289.23,904.01 288.25,904.26 287.21,904.41 286.15,904.46 285.08,904.41 284.03,904.27 283.03,904.04 282.10,903.72 281.26,903.32 280.54,902.85 279.95,902.32 279.51,901.75 279.23,901.14 279.12,900.52" fill="#1c0609" stroke="#1c0609" stroke-width="0.8" stroke-linejoin="round"/>
<polygon points="291.59,902.80 290.92,903.28 290.13,903.68 289.23,904.01 288.25,904.26 287.21,904.41 286.15,904.46 285.08,904.41 284.03,904.27 283.03,904.04 282.10,903.72 281.26,903.32 280.54,902.85 279.95,902.32 279.51,901.75 279.23,901.14 279.12,900.52 279.17,899.90 279.39,899.30 279.77,898.72 280.31,898.19 280.98,897.71 281.77,897.30 282.67,896.97 283.65,896.73 284.69,896.58 285.75,896.53 286.82,896.57 287.87,896.71 288.87,896.95 289.81,897.27 290.64,897.67 291.36,898.14 291.95,898.67 292.39,899.24 292.67,899.84 292.78,900.46 292.73,901.09 292.51,901.69 292.13,902.27" fill="#822a3a" stroke="#121212" stroke-width="1.035" stroke-linejoin="round"/>
<polygon points="247.46,907.64 247.57,908.26 247.85,908.86 248.29,909.44 248.88,909.96 249.60,910.43 250.44,910.84 251.37,911.16 252.37,911.39 253.42,911.53 254.49,911.58 255.55,911.52 256.59,911.37 257.57,911.13 258.47,910.80 259.26,910.39 259.93,909.92 260.47,909.38 260.85,908.81 261.07,908.20 261.12,907.58 261.12,903.52 261.07,904.15 260.85,904.75 260.47,905.33 259.93,905.86 259.26,906.34 258.47,906.74 257.57,907.07 256.59,907.32 255.55,907.47 254.49,907.52 253.42,907.47 252.37,907.33 251.37,907.10 250.44,906.78 249.60,906.38 248.88,905.91 248.29,905.38 247.85,904.81 247.57,904.20 247.46,903.58" fill="#1c0609" stroke="#1c0609" stroke-width="0.8" stroke-linejoin="round"/>
<polygon points="259.93,905.86 259.26,906.34 258.47,906.74 257.57,907.07 256.59,907.32 255.55,907.47 254.49,907.52 253.42,907.47 252.37,907.33 251.37,907.10 250.44,906.78 249.60,906.38 248.88,905.91 248.29,905.38 247.85,904.81 247.57,904.20 247.46,903.58 247.51,902.96 247.73,902.36 248.11,901.78 248.65,901.25 249.32,900.77 250.11,900.36 251.01,900.03 251.99,899.79 253.03,899.64 254.09,899.59 255.16,899.63 256.21,899.77 257.21,900.01 258.14,900.33 258.98,900.73 259.70,901.20 260.29,901.73 260.73,902.30 261.01,902.90 261.12,903.52 261.07,904.15 260.85,904.75 260.47,905.33" fill="#822a3a" stroke="#121212" stroke-width="1.035" stroke-linejoin="round"/>
<polygon points="266.27,915.33 266.38,915.95 266.66,916.55 267.10,917.13 267.69,917.65 268.41,918.12 269.25,918.52 270.18,918.85 271.18,919.08 272.23,919.22 273.30,919.27 274.36,919.21 275.40,919.06 276.38,918.82 277.28,918.49 278.07,918.08 278.74,917.61 279.28,917.07 279.66,916.50 279.88,915.89 279.93,915.27 279.93,911.21 279.88,911.84 279.66,912.44 279.28,913.02 278.74,913.55 278.07,914.03 277.28,914.43 276.38,914.76 275.40,915.01 274.36,915.16 273.30,915.21 272.23,915.16 271.18,915.02 270.18,914.79 269.25,914.47 268.41,914.07 267.69,913.60 267.10,913.07 266.66,912.50 266.38,911.89 266.27,911.27" fill="#1c0609" stroke="#1c0609" stroke-width="0.8" stroke-linejoin="round"/>
<polygon points="278.74,913.55 278.07,914.03 277.28,914.43 276.38,914.76 275.40,915.01 274.36,915.16 273.30,915.21 272.23,915.16 271.18,915.02 270.18,914.79 269.25,914.47 268.41,914.07 267.69,913.60 267.10,913.07 266.66,912.50 266.38,911.89 266.27,911.27 266.32,910.65 266.54,910.05 266.92,909.47 267.46,908.94 268.13,908.46 268.92,908.05 269.82,907.72 270.80,907.48 271.84,907.33 272.90,907.28 273.97,907.32 275.02,907.46 276.02,907.70 276.95,908.02 277.79,908.42 278.51,908.89 279.10,909.42 279.54,909.99 279.82,910.59 279.93,911.21 279.88,911.84 279.66,912.44 279.28,913.02" fill="#822a3a" stroke="#121212" stroke-width="1.035" stroke-linejoin="round"/>
<polygon points="271.05,850.65 219.65,893.65 219.65,901.45 271.05,858.45" fill="#7d7d7d" stroke="#121212" stroke-width="1.15" stroke-linejoin="round"/>
<polygon points="219.65,893.65 182.03,878.27 182.03,886.07 219.65,901.45" fill="#7f7f7f" stroke="#121212" stroke-width="1.15" stroke-linejoin="round"/>
<polygon points="233.43,835.27 271.05,850.65 219.65,893.65 182.03,878.27" fill="#7a7a7a" stroke="#121212" stroke-width="1.15" stroke-linejoin="round"/>
<polygon points="203.88,866.02 203.99,866.64 204.27,867.24 204.71,867.82 205.30,868.34 206.02,868.81 206.85,869.22 207.79,869.54 208.79,869.77 209.84,869.91 210.91,869.96 211.97,869.90 213.01,869.75 213.99,869.51 214.89,869.18 215.68,868.77 216.35,868.30 216.89,867.76 217.27,867.19 217.49,866.58 217.54,865.96 217.54,861.90 217.49,862.53 217.27,863.13 216.89,863.71 216.35,864.24 215.68,864.72 214.89,865.12 213.99,865.45 213.01,865.70 211.97,865.85 210.91,865.90 209.84,865.85 208.79,865.71 207.79,865.48 206.85,865.16 206.02,864.76 205.30,864.29 204.71,863.76 204.27,863.19 203.99,862.58 203.88,861.96" fill="#141414" stroke="#141414" stroke-width="0.8" stroke-linejoin="round"/>
<polygon points="216.35,864.24 215.68,864.72 214.89,865.12 213.99,865.45 213.01,865.70 211.97,865.85 210.91,865.90 209.84,865.85 208.79,865.71 207.79,865.48 206.85,865.16 206.02,864.76 205.30,864.29 204.71,863.76 204.27,863.19 203.99,862.58 203.88,861.96 203.93,861.34 204.15,860.74 204.53,860.16 205.07,859.63 205.74,859.15 206.53,858.74 207.43,858.41 208.41,858.17 209.45,858.02 210.51,857.97 211.58,858.01 212.63,858.15 213.63,858.39 214.56,858.71 215.40,859.11 216.12,859.58 216.71,860.11 217.15,860.68 217.43,861.28 217.54,861.90 217.49,862.53 217.27,863.13 216.89,863.71" fill="#7a7a7a" stroke="#121212" stroke-width="1.035" stroke-linejoin="round"/>
<polygon points="222.69,873.71 222.80,874.33 223.08,874.93 223.52,875.51 224.11,876.03 224.83,876.50 225.66,876.91 226.60,877.23 227.60,877.46 228.65,877.60 229.72,877.65 230.78,877.59 231.82,877.44 232.80,877.20 233.70,876.87 234.49,876.46 235.16,875.99 235.70,875.45 236.08,874.88 236.30,874.27 236.35,873.65 236.35,869.59 236.30,870.22 236.08,870.82 235.70,871.40 235.16,871.93 234.49,872.41 233.70,872.81 232.80,873.14 231.82,873.39 230.78,873.54 229.72,873.59 228.65,873.54 227.60,873.40 226.60,873.17 225.66,872.85 224.83,872.45 224.11,871.98 223.52,871.45 223.08,870.88 222.80,870.27 222.69,869.65" fill="#141414" stroke="#141414" stroke-width="0.8" stroke-linejoin="round"/>
<polygon points="235.16,871.93 234.49,872.41 233.70,872.81 232.80,873.14 231.82,873.39 230.78,873.54 229.72,873.59 228.65,873.54 227.60,873.40 226.60,873.17 225.66,872.85 224.83,872.45 224.11,871.98 223.52,871.45 223.08,870.88 222.80,870.27 222.69,869.65 222.74,869.03 222.96,868.43 223.34,867.85 223.88,867.32 224.55,866.84 225.34,866.43 226.24,866.10 227.22,865.86 228.26,865.71 229.32,865.66 230.39,865.70 231.44,865.84 232.44,866.08 233.38,866.40 234.21,866.80 234.93,867.27 235.52,867.80 235.96,868.37 236.24,868.97 236.35,869.59 236.30,870.22 236.08,870.82 235.70,871.40" fill="#7a7a7a" stroke="#121212" stroke-width="1.035" stroke-linejoin="round"/>
<polygon points="191.03,876.77 191.14,877.39 191.42,877.99 191.86,878.57 192.45,879.09 193.17,879.56 194.00,879.97 194.94,880.29 195.94,880.52 196.99,880.66 198.06,880.71 199.12,880.65 200.16,880.50 201.14,880.26 202.04,879.93 202.83,879.52 203.50,879.05 204.04,878.51 204.42,877.94 204.64,877.33 204.69,876.71 204.69,872.65 204.64,873.28 204.42,873.88 204.04,874.46 203.50,874.99 202.83,875.47 202.04,875.87 201.14,876.20 200.16,876.45 199.12,876.60 198.06,876.65 196.99,876.60 195.94,876.46 194.94,876.23 194.00,875.91 193.17,875.51 192.45,875.04 191.86,874.51 191.42,873.94 191.14,873.33 191.03,872.71" fill="#141414" stroke="#141414" stroke-width="0.8" stroke-linejoin="round"/>
<polygon points="203.50,874.99 202.83,875.47 202.04,875.87 201.14,876.20 200.16,876.45 199.12,876.60 198.06,876.65 196.99,876.60 195.94,876.46 194.94,876.23 194.00,875.91 193.17,875.51 192.45,875.04 191.86,874.51 191.42,873.94 191.14,873.33 191.03,872.71 191.08,872.09 191.30,871.49 191.68,870.91 192.22,870.38 192.89,869.90 193.68,869.49 194.58,869.16 195.56,868.92 196.60,868.77 197.66,868.72 198.73,868.76 199.78,868.90 200.78,869.14 201.72,869.46 202.55,869.86 203.27,870.33 203.86,870.86 204.30,871.43 204.58,872.03 204.69,872.65 204.64,873.28 204.42,873.88 204.04,874.46" fill="#7a7a7a" stroke="#121212" stroke-width="1.035" stroke-linejoin="round"/>
<polygon points="209.84,884.46 209.95,885.08 210.23,885.68 210.67,886.26 211.26,886.78 211.98,887.25 212.81,887.66 213.75,887.98 214.75,888.21 215.80,888.35 216.87,888.40 217.93,888.34 218.97,888.19 219.95,887.95 220.85,887.62 221.64,887.21 222.31,886.74 222.85,886.20 223.23,885.63 223.45,885.02 223.50,884.40 223.50,880.34 223.45,880.97 223.23,881.57 222.85,882.15 222.31,882.68 221.64,883.16 220.85,883.56 219.95,883.89 218.97,884.14 217.93,884.29 216.87,884.34 215.80,884.29 214.75,884.15 213.75,883.92 212.81,883.60 211.98,883.20 211.26,882.73 210.67,882.20 210.23,881.63 209.95,881.02 209.84,880.40" fill="#141414" stroke="#141414" stroke-width="0.8" stroke-linejoin="round"/>
<polygon points="222.31,882.68 221.64,883.16 220.85,883.56 219.95,883.89 218.97,884.14 217.93,884.29 216.87,884.34 215.80,884.29 214.75,884.15 213.75,883.92 212.81,883.60 211.98,883.20 211.26,882.73 210.67,882.20 210.23,881.63 209.95,881.02 209.84,880.40 209.89,879.78 210.11,879.18 210.49,878.60 211.03,878.07 211.70,877.59 212.49,877.18 213.39,876.85 214.37,876.61 215.41,876.46 216.47,876.41 217.54,876.45 218.59,876.59 219.59,876.83 220.53,877.15 221.36,877.55 222.08,878.02 222.67,878.55 223.11,879.12 223.39,879.72 223.50,880.34 223.45,880.97 223.23,881.57 222.85,882.15" fill="#7a7a7a" stroke="#121212" stroke-width="1.035" stroke-linejoin="round"/>
<polygon points="271.05,842.85 245.35,864.35 245.35,872.15 271.05,850.65" fill="#7c2735" stroke="#121212" stroke-width="1.15" stroke-linejoin="round"/>
<polygon points="245.35,864.35 207.73,848.97 207.73,856.77 245.35,872.15" fill="#7e2837" stroke="#121212" stroke-width="1.15" stroke-linejoin="round"/>
<polygon points="233.43,827.47 271.05,842.85 245.35,864.35 207.73,848.97" fill="#822a3a" stroke="#121212" stroke-width="1.15" stroke-linejoin="round"/>
<polygon points="229.58,836.72 229.69,837.34 229.97,837.94 230.41,838.52 231.00,839.04 231.72,839.51 232.55,839.91 233.49,840.24 234.49,840.47 235.54,840.61 236.61,840.66 237.67,840.60 238.71,840.45 239.69,840.21 240.59,839.88 241.38,839.47 242.05,839.00 242.59,838.46 242.97,837.89 243.19,837.28 243.24,836.66 243.24,832.60 243.19,833.23 242.97,833.83 242.59,834.41 242.05,834.94 241.38,835.42 240.59,835.82 239.69,836.15 238.71,836.40 237.67,836.55 236.61,836.60 235.54,836.55 234.49,836.41 233.49,836.18 232.55,835.86 231.72,835.46 231.00,834.99 230.41,834.46 229.97,833.89 229.69,833.28 229.58,832.66" fill="#1c0609" stroke="#1c0609" stroke-width="0.8" stroke-linejoin="round"/>
<polygon points="242.05,834.94 241.38,835.42 240.59,835.82 239.69,836.15 238.71,836.40 237.67,836.55 236.61,836.60 235.54,836.55 234.49,836.41 233.49,836.18 232.55,835.86 231.72,835.46 231.00,834.99 230.41,834.46 229.97,833.89 229.69,833.28 229.58,832.66 229.63,832.04 229.85,831.44 230.23,830.86 230.77,830.33 231.44,829.85 232.23,829.44 233.13,829.11 234.11,828.87 235.15,828.72 236.21,828.67 237.28,828.71 238.33,828.85 239.33,829.09 240.26,829.41 241.10,829.81 241.82,830.28 242.41,830.81 242.85,831.38 243.13,831.98 243.24,832.60 243.19,833.23 242.97,833.83 242.59,834.41" fill="#822a3a" stroke="#121212" stroke-width="1.035" stroke-linejoin="round"/>
<polygon points="248.39,844.41 248.50,845.03 248.78,845.63 249.22,846.21 249.81,846.73 250.53,847.20 251.36,847.61 252.30,847.93 253.30,848.16 254.35,848.30 255.42,848.35 256.48,848.29 257.52,848.14 258.50,847.90 259.40,847.57 260.19,847.16 260.86,846.69 261.40,846.15 261.78,845.58 262.00,844.97 262.05,844.35 262.05,840.29 262.00,840.92 261.78,841.52 261.40,842.10 260.86,842.63 260.19,843.11 259.40,843.51 258.50,843.84 257.52,844.09 256.48,844.24 255.42,844.29 254.35,844.24 253.30,844.10 252.30,843.87 251.36,843.55 250.53,843.15 249.81,842.68 249.22,842.15 248.78,841.58 248.50,840.97 248.39,840.35" fill="#1c0609" stroke="#1c0609" stroke-width="0.8" stroke-linejoin="round"/>
<polygon points="260.86,842.63 260.19,843.11 259.40,843.51 258.50,843.84 257.52,844.09 256.48,844.24 255.42,844.29 254.35,844.24 253.30,844.10 252.30,843.87 251.36,843.55 250.53,843.15 249.81,842.68 249.22,842.15 248.78,841.58 248.50,840.97 248.39,840.35 248.44,839.73 248.66,839.13 249.04,838.55 249.58,838.02 250.25,837.54 251.04,837.13 251.94,836.80 252.92,836.56 253.96,836.41 255.02,836.36 256.09,836.40 257.14,836.54 258.14,836.78 259.07,837.10 259.91,837.50 260.63,837.97 261.22,838.50 261.66,839.07 261.94,839.67 262.05,840.29 262.00,840.92 261.78,841.52 261.40,842.10" fill="#822a3a" stroke="#121212" stroke-width="1.035" stroke-linejoin="round"/>
<rect x="430.1" y="20.6" width="221.8" height="77.4" rx="1" fill="none" stroke="#5e5e5e" stroke-width="1.4"/>
<polygon points="471.50,60.90 447.30,70.90 447.30,74.50 471.50,64.50" fill="#7e2837" stroke="#121212" stroke-width="0.85" stroke-linejoin="round"/>
<polygon points="447.30,70.90 439.20,64.20 439.20,67.80 447.30,74.50" fill="#7c2735" stroke="#121212" stroke-width="0.85" stroke-linejoin="round"/>
<polygon points="439.20,64.20 463.40,54.20 471.50,60.90 447.30,70.90" fill="#822a3a" stroke="#121212" stroke-width="0.85" stroke-linejoin="round"/>
<polygon points="480.40,52.50 492.30,48.00 500.70,56.20 500.90,65.30 499.50,66.80 498.80,69.80 497.10,74.40 495.70,74.00 488.90,67.50 488.90,65.30 480.60,57.70" fill="#74222f" stroke="#121212" stroke-width="0.8" stroke-linejoin="round"/>
<polygon points="480.40,52.50 492.30,48.00 500.70,56.20 499.50,65.30 497.60,71.50 492.00,64.00 488.00,59.50 481.00,54.50" fill="#822a3a" stroke="#121212" stroke-width="0.7" stroke-linejoin="round"/>
<polygon points="552.00,60.70 528.00,70.40 528.00,74.60 552.00,64.90" fill="#7e2837" stroke="#121212" stroke-width="0.85" stroke-linejoin="round"/>
<polygon points="528.00,70.40 511.30,56.10 511.30,60.30 528.00,74.60" fill="#7c2735" stroke="#121212" stroke-width="0.85" stroke-linejoin="round"/>
<polygon points="511.30,56.10 535.30,46.40 552.00,60.70 528.00,70.40" fill="#822a3a" stroke="#121212" stroke-width="0.85" stroke-linejoin="round"/>
<polygon points="517.09,57.17 517.13,57.57 517.28,57.97 517.53,58.35 517.88,58.71 518.31,59.02 518.83,59.30 519.40,59.52 520.03,59.69 520.70,59.80 521.39,59.84 522.07,59.82 522.74,59.74 523.39,59.60 523.98,59.40 524.51,59.14 524.97,58.84 525.34,58.50 525.62,58.13 525.79,57.74 525.86,57.33 525.86,54.31 525.79,54.71 525.62,55.11 525.34,55.48 524.97,55.82 524.51,56.12 523.98,56.37 523.39,56.57 522.74,56.72 522.07,56.80 521.39,56.82 520.70,56.77 520.03,56.66 519.40,56.50 518.83,56.27 518.31,56.00 517.88,55.68 517.53,55.33 517.28,54.95 517.13,54.55 517.09,54.14" fill="#1c0609" stroke="#1c0609" stroke-width="0.8" stroke-linejoin="round"/>
<polygon points="525.07,52.77 525.42,53.12 525.67,53.51 525.82,53.90 525.86,54.31 525.79,54.71 525.62,55.11 525.34,55.48 524.97,55.82 524.51,56.12 523.98,56.37 523.39,56.57 522.74,56.72 522.07,56.80 521.39,56.82 520.70,56.77 520.03,56.66 519.40,56.50 518.83,56.27 518.31,56.00 517.88,55.68 517.53,55.33 517.28,54.95 517.13,54.55 517.09,54.14 517.16,53.74 517.33,53.35 517.61,52.98 517.98,52.64 518.44,52.34 518.97,52.08 519.56,51.88 520.21,51.74 520.88,51.65 521.56,51.64 522.25,51.68 522.92,51.79 523.55,51.96 524.12,52.18 524.64,52.45" fill="#822a3a" stroke="#121212" stroke-width="0.765" stroke-linejoin="round"/>
<polygon points="525.44,64.32 525.48,64.72 525.63,65.12 525.88,65.50 526.23,65.86 526.66,66.17 527.18,66.45 527.75,66.67 528.38,66.84 529.05,66.95 529.74,66.99 530.42,66.97 531.09,66.89 531.74,66.75 532.33,66.55 532.86,66.29 533.32,65.99 533.69,65.65 533.97,65.28 534.14,64.89 534.21,64.48 534.21,61.46 534.14,61.86 533.97,62.26 533.69,62.63 533.32,62.97 532.86,63.27 532.33,63.52 531.74,63.72 531.09,63.87 530.42,63.95 529.74,63.97 529.05,63.92 528.38,63.81 527.75,63.65 527.18,63.42 526.66,63.15 526.23,62.83 525.88,62.48 525.63,62.10 525.48,61.70 525.44,61.29" fill="#1c0609" stroke="#1c0609" stroke-width="0.8" stroke-linejoin="round"/>
<polygon points="533.42,59.92 533.77,60.27 534.02,60.66 534.17,61.05 534.21,61.46 534.14,61.86 533.97,62.26 533.69,62.63 533.32,62.97 532.86,63.27 532.33,63.52 531.74,63.72 531.09,63.87 530.42,63.95 529.74,63.97 529.05,63.92 528.38,63.81 527.75,63.65 527.18,63.42 526.66,63.15 526.23,62.83 525.88,62.48 525.63,62.10 525.48,61.70 525.44,61.29 525.51,60.89 525.68,60.50 525.96,60.13 526.33,59.79 526.79,59.49 527.32,59.23 527.91,59.03 528.56,58.89 529.23,58.80 529.91,58.79 530.60,58.83 531.27,58.94 531.90,59.11 532.47,59.33 532.99,59.60" fill="#822a3a" stroke="#121212" stroke-width="0.765" stroke-linejoin="round"/>
<polygon points="642.20,59.90 618.35,69.40 618.35,73.40 642.20,63.90" fill="#7f7f7f" stroke="#121212" stroke-width="0.85" stroke-linejoin="round"/>
<polygon points="618.35,69.40 601.45,55.90 601.45,59.90 618.35,73.40" fill="#7d7d7d" stroke="#121212" stroke-width="0.85" stroke-linejoin="round"/>
<polygon points="601.45,55.90 577.60,65.40 577.60,69.40 601.45,59.90" fill="#7f7f7f" stroke="#121212" stroke-width="0.85" stroke-linejoin="round"/>
<polygon points="577.60,65.40 560.70,51.90 560.70,55.90 577.60,69.40" fill="#7d7d7d" stroke="#121212" stroke-width="0.85" stroke-linejoin="round"/>
<polygon points="560.70,51.90 608.40,32.90 642.20,59.90 618.35,69.40 601.45,55.90 577.60,65.40" fill="#7a7a7a" stroke="#121212" stroke-width="0.85" stroke-linejoin="round"/>
<polygon points="602.28,38.61 602.32,39.00 602.48,39.38 602.73,39.74 603.09,40.07 603.53,40.37 604.04,40.63 604.63,40.84 605.26,40.99 605.93,41.09 606.61,41.13 607.30,41.10 607.97,41.02 608.61,40.87 609.20,40.67 609.73,40.43 610.18,40.14 610.55,39.81 610.82,39.45 610.98,39.07 611.05,38.69 611.05,35.81 610.98,36.19 610.82,36.57 610.55,36.93 610.18,37.26 609.73,37.55 609.20,37.79 608.61,37.99 607.97,38.14 607.30,38.22 606.61,38.25 605.93,38.21 605.26,38.11 604.63,37.96 604.04,37.75 603.53,37.49 603.09,37.19 602.73,36.86 602.48,36.50 602.32,36.12 602.28,35.73" fill="#141414" stroke="#141414" stroke-width="0.8" stroke-linejoin="round"/>
<polygon points="610.24,34.34 610.59,34.68 610.85,35.04 611.00,35.42 611.05,35.81 610.98,36.19 610.82,36.57 610.55,36.93 610.18,37.26 609.73,37.55 609.20,37.79 608.61,37.99 607.97,38.14 607.30,38.22 606.61,38.25 605.93,38.21 605.26,38.11 604.63,37.96 604.04,37.75 603.53,37.49 603.09,37.19 602.73,36.86 602.48,36.50 602.32,36.12 602.28,35.73 602.34,35.35 602.51,34.97 602.78,34.61 603.15,34.28 603.60,33.99 604.13,33.74 604.72,33.55 605.36,33.40 606.03,33.32 606.71,33.29 607.40,33.33 608.07,33.43 608.70,33.58 609.28,33.79 609.80,34.05" fill="#7a7a7a" stroke="#121212" stroke-width="0.765" stroke-linejoin="round"/>
<polygon points="590.35,43.36 590.40,43.75 590.55,44.13 590.81,44.49 591.16,44.82 591.60,45.12 592.12,45.38 592.70,45.59 593.33,45.74 594.00,45.84 594.69,45.88 595.37,45.85 596.04,45.77 596.68,45.62 597.27,45.42 597.80,45.18 598.25,44.89 598.62,44.56 598.89,44.20 599.06,43.82 599.12,43.44 599.12,40.56 599.06,40.94 598.89,41.32 598.62,41.68 598.25,42.01 597.80,42.30 597.27,42.54 596.68,42.74 596.04,42.89 595.37,42.97 594.69,43.00 594.00,42.96 593.33,42.86 592.70,42.71 592.12,42.50 591.60,42.24 591.16,41.94 590.81,41.61 590.55,41.25 590.40,40.87 590.35,40.48" fill="#141414" stroke="#141414" stroke-width="0.8" stroke-linejoin="round"/>
<polygon points="598.32,39.09 598.67,39.43 598.92,39.79 599.08,40.17 599.12,40.56 599.06,40.94 598.89,41.32 598.62,41.68 598.25,42.01 597.80,42.30 597.27,42.54 596.68,42.74 596.04,42.89 595.37,42.97 594.69,43.00 594.00,42.96 593.33,42.86 592.70,42.71 592.12,42.50 591.60,42.24 591.16,41.94 590.81,41.61 590.55,41.25 590.40,40.87 590.35,40.48 590.42,40.10 590.58,39.72 590.85,39.36 591.22,39.03 591.67,38.74 592.20,38.49 592.79,38.30 593.43,38.15 594.10,38.07 594.79,38.04 595.47,38.08 596.14,38.18 596.77,38.33 597.36,38.54 597.87,38.80" fill="#7a7a7a" stroke="#121212" stroke-width="0.765" stroke-linejoin="round"/>
<polygon points="610.73,45.36 610.77,45.75 610.93,46.13 611.18,46.49 611.53,46.82 611.98,47.12 612.49,47.38 613.08,47.59 613.71,47.74 614.38,47.84 615.06,47.88 615.75,47.85 616.42,47.77 617.06,47.62 617.65,47.42 618.18,47.18 618.63,46.89 619.00,46.56 619.27,46.20 619.43,45.82 619.50,45.44 619.50,42.56 619.43,42.94 619.27,43.32 619.00,43.68 618.63,44.01 618.18,44.30 617.65,44.54 617.06,44.74 616.42,44.89 615.75,44.97 615.06,45.00 614.38,44.96 613.71,44.86 613.08,44.71 612.49,44.50 611.98,44.24 611.53,43.94 611.18,43.61 610.93,43.25 610.77,42.87 610.73,42.48" fill="#141414" stroke="#141414" stroke-width="0.8" stroke-linejoin="round"/>
<polygon points="618.69,41.09 619.04,41.43 619.30,41.79 619.45,42.17 619.50,42.56 619.43,42.94 619.27,43.32 619.00,43.68 618.63,44.01 618.18,44.30 617.65,44.54 617.06,44.74 616.42,44.89 615.75,44.97 615.06,45.00 614.38,44.96 613.71,44.86 613.08,44.71 612.49,44.50 611.98,44.24 611.53,43.94 611.18,43.61 610.93,43.25 610.77,42.87 610.73,42.48 610.79,42.10 610.96,41.72 611.23,41.36 611.60,41.03 612.05,40.74 612.58,40.49 613.17,40.30 613.81,40.15 614.48,40.07 615.16,40.04 615.85,40.08 616.52,40.18 617.15,40.33 617.73,40.54 618.25,40.80" fill="#7a7a7a" stroke="#121212" stroke-width="0.765" stroke-linejoin="round"/>
<polygon points="578.43,48.11 578.47,48.50 578.63,48.88 578.88,49.24 579.24,49.57 579.68,49.87 580.19,50.13 580.78,50.34 581.41,50.49 582.08,50.59 582.76,50.63 583.45,50.60 584.12,50.52 584.76,50.37 585.35,50.17 585.88,49.93 586.33,49.64 586.70,49.31 586.97,48.95 587.13,48.57 587.20,48.19 587.20,45.31 587.13,45.69 586.97,46.07 586.70,46.43 586.33,46.76 585.88,47.05 585.35,47.29 584.76,47.49 584.12,47.64 583.45,47.72 582.76,47.75 582.08,47.71 581.41,47.61 580.78,47.46 580.19,47.25 579.68,46.99 579.24,46.69 578.88,46.36 578.63,46.00 578.47,45.62 578.43,45.23" fill="#141414" stroke="#141414" stroke-width="0.8" stroke-linejoin="round"/>
<polygon points="586.39,43.84 586.74,44.18 587.00,44.54 587.15,44.92 587.20,45.31 587.13,45.69 586.97,46.07 586.70,46.43 586.33,46.76 585.88,47.05 585.35,47.29 584.76,47.49 584.12,47.64 583.45,47.72 582.76,47.75 582.08,47.71 581.41,47.61 580.78,47.46 580.19,47.25 579.68,46.99 579.24,46.69 578.88,46.36 578.63,46.00 578.47,45.62 578.43,45.23 578.49,44.85 578.66,44.47 578.93,44.11 579.30,43.78 579.75,43.49 580.28,43.24 580.87,43.05 581.51,42.90 582.18,42.82 582.86,42.79 583.55,42.83 584.22,42.93 584.85,43.08 585.43,43.29 585.95,43.55" fill="#7a7a7a" stroke="#121212" stroke-width="0.765" stroke-linejoin="round"/>
<polygon points="598.80,50.11 598.85,50.50 599.00,50.88 599.26,51.24 599.61,51.57 600.05,51.87 600.57,52.13 601.15,52.34 601.78,52.49 602.45,52.59 603.14,52.63 603.82,52.60 604.49,52.52 605.13,52.37 605.72,52.17 606.25,51.93 606.70,51.64 607.07,51.31 607.34,50.95 607.51,50.57 607.57,50.19 607.57,47.31 607.51,47.69 607.34,48.07 607.07,48.43 606.70,48.76 606.25,49.05 605.72,49.29 605.13,49.49 604.49,49.64 603.82,49.72 603.14,49.75 602.45,49.71 601.78,49.61 601.15,49.46 600.57,49.25 600.05,48.99 599.61,48.69 599.26,48.36 599.00,48.00 598.85,47.62 598.80,47.23" fill="#141414" stroke="#141414" stroke-width="0.8" stroke-linejoin="round"/>
<polygon points="606.76,45.84 607.12,46.18 607.37,46.54 607.53,46.92 607.57,47.31 607.51,47.69 607.34,48.07 607.07,48.43 606.70,48.76 606.25,49.05 605.72,49.29 605.13,49.49 604.49,49.64 603.82,49.72 603.14,49.75 602.45,49.71 601.78,49.61 601.15,49.46 600.57,49.25 600.05,48.99 599.61,48.69 599.26,48.36 599.00,48.00 598.85,47.62 598.80,47.23 598.87,46.85 599.03,46.47 599.30,46.11 599.67,45.78 600.12,45.49 600.65,45.24 601.24,45.05 601.88,44.90 602.55,44.82 603.24,44.79 603.92,44.83 604.59,44.93 605.22,45.08 605.81,45.29 606.32,45.55" fill="#7a7a7a" stroke="#121212" stroke-width="0.765" stroke-linejoin="round"/>
<polygon points="619.18,52.11 619.22,52.50 619.38,52.88 619.63,53.24 619.99,53.57 620.43,53.87 620.94,54.13 621.53,54.34 622.16,54.49 622.83,54.59 623.51,54.63 624.20,54.60 624.87,54.52 625.51,54.37 626.10,54.17 626.63,53.93 627.08,53.64 627.45,53.31 627.72,52.95 627.88,52.57 627.95,52.19 627.95,49.31 627.88,49.69 627.72,50.07 627.45,50.43 627.08,50.76 626.63,51.05 626.10,51.29 625.51,51.49 624.87,51.64 624.20,51.72 623.51,51.75 622.83,51.71 622.16,51.61 621.53,51.46 620.94,51.25 620.43,50.99 619.99,50.69 619.63,50.36 619.38,50.00 619.22,49.62 619.18,49.23" fill="#141414" stroke="#141414" stroke-width="0.8" stroke-linejoin="round"/>
<polygon points="627.14,47.84 627.49,48.18 627.75,48.54 627.90,48.92 627.95,49.31 627.88,49.69 627.72,50.07 627.45,50.43 627.08,50.76 626.63,51.05 626.10,51.29 625.51,51.49 624.87,51.64 624.20,51.72 623.51,51.75 622.83,51.71 622.16,51.61 621.53,51.46 620.94,51.25 620.43,50.99 619.99,50.69 619.63,50.36 619.38,50.00 619.22,49.62 619.18,49.23 619.24,48.85 619.41,48.47 619.68,48.11 620.05,47.78 620.50,47.49 621.03,47.24 621.62,47.05 622.26,46.90 622.93,46.82 623.61,46.79 624.30,46.83 624.97,46.93 625.60,47.08 626.18,47.29 626.70,47.55" fill="#7a7a7a" stroke="#121212" stroke-width="0.765" stroke-linejoin="round"/>
<polygon points="566.50,52.86 566.55,53.25 566.70,53.63 566.96,53.99 567.31,54.32 567.75,54.62 568.27,54.88 568.85,55.09 569.48,55.24 570.15,55.34 570.84,55.38 571.52,55.35 572.19,55.27 572.83,55.12 573.42,54.92 573.95,54.68 574.40,54.39 574.77,54.06 575.04,53.70 575.21,53.32 575.27,52.94 575.27,50.06 575.21,50.44 575.04,50.82 574.77,51.18 574.40,51.51 573.95,51.80 573.42,52.04 572.83,52.24 572.19,52.39 571.52,52.47 570.84,52.50 570.15,52.46 569.48,52.36 568.85,52.21 568.27,52.00 567.75,51.74 567.31,51.44 566.96,51.11 566.70,50.75 566.55,50.37 566.50,49.98" fill="#141414" stroke="#141414" stroke-width="0.8" stroke-linejoin="round"/>
<polygon points="574.47,48.59 574.82,48.93 575.07,49.29 575.23,49.67 575.27,50.06 575.21,50.44 575.04,50.82 574.77,51.18 574.40,51.51 573.95,51.80 573.42,52.04 572.83,52.24 572.19,52.39 571.52,52.47 570.84,52.50 570.15,52.46 569.48,52.36 568.85,52.21 568.27,52.00 567.75,51.74 567.31,51.44 566.96,51.11 566.70,50.75 566.55,50.37 566.50,49.98 566.57,49.60 566.73,49.22 567.00,48.86 567.37,48.53 567.82,48.24 568.35,47.99 568.94,47.80 569.58,47.65 570.25,47.57 570.94,47.54 571.62,47.58 572.29,47.68 572.92,47.83 573.51,48.04 574.02,48.30" fill="#7a7a7a" stroke="#121212" stroke-width="0.765" stroke-linejoin="round"/>
<polygon points="586.88,54.86 586.92,55.25 587.08,55.63 587.33,55.99 587.68,56.32 588.13,56.62 588.64,56.88 589.23,57.09 589.86,57.24 590.53,57.34 591.21,57.38 591.90,57.35 592.57,57.27 593.21,57.12 593.80,56.92 594.33,56.68 594.78,56.39 595.15,56.06 595.42,55.70 595.58,55.32 595.65,54.94 595.65,52.06 595.58,52.44 595.42,52.82 595.15,53.18 594.78,53.51 594.33,53.80 593.80,54.04 593.21,54.24 592.57,54.39 591.90,54.47 591.21,54.50 590.53,54.46 589.86,54.36 589.23,54.21 588.64,54.00 588.13,53.74 587.68,53.44 587.33,53.11 587.08,52.75 586.92,52.37 586.88,51.98" fill="#141414" stroke="#141414" stroke-width="0.8" stroke-linejoin="round"/>
<polygon points="594.84,50.59 595.19,50.93 595.45,51.29 595.60,51.67 595.65,52.06 595.58,52.44 595.42,52.82 595.15,53.18 594.78,53.51 594.33,53.80 593.80,54.04 593.21,54.24 592.57,54.39 591.90,54.47 591.21,54.50 590.53,54.46 589.86,54.36 589.23,54.21 588.64,54.00 588.13,53.74 587.68,53.44 587.33,53.11 587.08,52.75 586.92,52.37 586.88,51.98 586.94,51.60 587.11,51.22 587.38,50.86 587.75,50.53 588.20,50.24 588.73,49.99 589.32,49.80 589.96,49.65 590.63,49.57 591.31,49.54 592.00,49.58 592.67,49.68 593.30,49.83 593.88,50.04 594.40,50.30" fill="#7a7a7a" stroke="#121212" stroke-width="0.765" stroke-linejoin="round"/>
<polygon points="607.25,56.86 607.30,57.25 607.45,57.63 607.71,57.99 608.06,58.32 608.50,58.62 609.02,58.88 609.60,59.09 610.23,59.24 610.90,59.34 611.59,59.38 612.27,59.35 612.94,59.27 613.58,59.12 614.17,58.92 614.70,58.68 615.15,58.39 615.52,58.06 615.79,57.70 615.96,57.32 616.02,56.94 616.02,54.06 615.96,54.44 615.79,54.82 615.52,55.18 615.15,55.51 614.70,55.80 614.17,56.04 613.58,56.24 612.94,56.39 612.27,56.47 611.59,56.50 610.90,56.46 610.23,56.36 609.60,56.21 609.02,56.00 608.50,55.74 608.06,55.44 607.71,55.11 607.45,54.75 607.30,54.37 607.25,53.98" fill="#141414" stroke="#141414" stroke-width="0.8" stroke-linejoin="round"/>
<polygon points="615.22,52.59 615.57,52.93 615.82,53.29 615.98,53.67 616.02,54.06 615.96,54.44 615.79,54.82 615.52,55.18 615.15,55.51 614.70,55.80 614.17,56.04 613.58,56.24 612.94,56.39 612.27,56.47 611.59,56.50 610.90,56.46 610.23,56.36 609.60,56.21 609.02,56.00 608.50,55.74 608.06,55.44 607.71,55.11 607.45,54.75 607.30,54.37 607.25,53.98 607.32,53.60 607.48,53.22 607.75,52.86 608.12,52.53 608.57,52.24 609.10,51.99 609.69,51.80 610.33,51.65 611.00,51.57 611.69,51.54 612.37,51.58 613.04,51.68 613.67,51.83 614.26,52.04 614.77,52.30" fill="#7a7a7a" stroke="#121212" stroke-width="0.765" stroke-linejoin="round"/>
<polygon points="627.63,58.86 627.67,59.25 627.83,59.63 628.08,59.99 628.44,60.32 628.88,60.62 629.39,60.88 629.98,61.09 630.61,61.24 631.28,61.34 631.96,61.38 632.65,61.35 633.32,61.27 633.96,61.12 634.55,60.92 635.08,60.68 635.53,60.39 635.90,60.06 636.17,59.70 636.33,59.32 636.40,58.94 636.40,56.06 636.33,56.44 636.17,56.82 635.90,57.18 635.53,57.51 635.08,57.80 634.55,58.04 633.96,58.24 633.32,58.39 632.65,58.47 631.96,58.50 631.28,58.46 630.61,58.36 629.98,58.21 629.39,58.00 628.88,57.74 628.44,57.44 628.08,57.11 627.83,56.75 627.67,56.37 627.63,55.98" fill="#141414" stroke="#141414" stroke-width="0.8" stroke-linejoin="round"/>
<polygon points="635.59,54.59 635.94,54.93 636.20,55.29 636.35,55.67 636.40,56.06 636.33,56.44 636.17,56.82 635.90,57.18 635.53,57.51 635.08,57.80 634.55,58.04 633.96,58.24 633.32,58.39 632.65,58.47 631.96,58.50 631.28,58.46 630.61,58.36 629.98,58.21 629.39,58.00 628.88,57.74 628.44,57.44 628.08,57.11 627.83,56.75 627.67,56.37 627.63,55.98 627.69,55.60 627.86,55.22 628.13,54.86 628.50,54.53 628.95,54.24 629.48,53.99 630.07,53.80 630.71,53.65 631.38,53.57 632.06,53.54 632.75,53.58 633.42,53.68 634.05,53.83 634.63,54.04 635.15,54.30" fill="#7a7a7a" stroke="#121212" stroke-width="0.765" stroke-linejoin="round"/>
<polygon points="574.95,59.61 575.00,60.00 575.15,60.38 575.41,60.74 575.76,61.07 576.20,61.37 576.72,61.63 577.30,61.84 577.93,61.99 578.60,62.09 579.29,62.13 579.97,62.10 580.64,62.02 581.28,61.87 581.87,61.67 582.40,61.43 582.85,61.14 583.22,60.81 583.49,60.45 583.66,60.07 583.72,59.69 583.72,56.81 583.66,57.19 583.49,57.57 583.22,57.93 582.85,58.26 582.40,58.55 581.87,58.79 581.28,58.99 580.64,59.14 579.97,59.22 579.29,59.25 578.60,59.21 577.93,59.11 577.30,58.96 576.72,58.75 576.20,58.49 575.76,58.19 575.41,57.86 575.15,57.50 575.00,57.12 574.95,56.73" fill="#141414" stroke="#141414" stroke-width="0.8" stroke-linejoin="round"/>
<polygon points="582.91,55.34 583.27,55.68 583.52,56.04 583.68,56.42 583.72,56.81 583.66,57.19 583.49,57.57 583.22,57.93 582.85,58.26 582.40,58.55 581.87,58.79 581.28,58.99 580.64,59.14 579.97,59.22 579.29,59.25 578.60,59.21 577.93,59.11 577.30,58.96 576.72,58.75 576.20,58.49 575.76,58.19 575.41,57.86 575.15,57.50 575.00,57.12 574.95,56.73 575.02,56.35 575.18,55.97 575.45,55.61 575.82,55.28 576.27,54.99 576.80,54.74 577.39,54.55 578.03,54.40 578.70,54.32 579.39,54.29 580.07,54.33 580.74,54.43 581.37,54.58 581.96,54.79 582.47,55.05" fill="#7a7a7a" stroke="#121212" stroke-width="0.765" stroke-linejoin="round"/>
<polygon points="615.70,63.61 615.75,64.00 615.90,64.38 616.16,64.74 616.51,65.07 616.95,65.37 617.47,65.63 618.05,65.84 618.68,65.99 619.35,66.09 620.04,66.13 620.72,66.10 621.39,66.02 622.03,65.87 622.62,65.67 623.15,65.43 623.60,65.14 623.97,64.81 624.24,64.45 624.41,64.07 624.47,63.69 624.47,60.81 624.41,61.19 624.24,61.57 623.97,61.93 623.60,62.26 623.15,62.55 622.62,62.79 622.03,62.99 621.39,63.14 620.72,63.22 620.04,63.25 619.35,63.21 618.68,63.11 618.05,62.96 617.47,62.75 616.95,62.49 616.51,62.19 616.16,61.86 615.90,61.50 615.75,61.12 615.70,60.73" fill="#141414" stroke="#141414" stroke-width="0.8" stroke-linejoin="round"/>
<polygon points="623.67,59.34 624.02,59.68 624.27,60.04 624.43,60.42 624.47,60.81 624.41,61.19 624.24,61.57 623.97,61.93 623.60,62.26 623.15,62.55 622.62,62.79 622.03,62.99 621.39,63.14 620.72,63.22 620.04,63.25 619.35,63.21 618.68,63.11 618.05,62.96 617.47,62.75 616.95,62.49 616.51,62.19 616.16,61.86 615.90,61.50 615.75,61.12 615.70,60.73 615.77,60.35 615.93,59.97 616.20,59.61 616.57,59.28 617.02,58.99 617.55,58.74 618.14,58.55 618.78,58.40 619.45,58.32 620.14,58.29 620.82,58.33 621.49,58.43 622.12,58.58 622.71,58.79 623.22,59.05" fill="#7a7a7a" stroke="#121212" stroke-width="0.765" stroke-linejoin="round"/>
<text x="438.20" y="86" font-size="10.2" fill="#3a3a3a">1x</text>
<text x="479.60" y="86" font-size="10.2" fill="#3a3a3a">1x</text>
<text x="510.60" y="86" font-size="10.2" fill="#3a3a3a">1x</text>
<text x="560.40" y="86" font-size="10.2" fill="#3a3a3a">1x</text>
<text x="429.06 447.14 467.28" y="139.4" font-size="37.5" fill="#1e1e1e" stroke="#e1e1e1" stroke-width="1.17">492</text>
<rect x="430.1" y="262.9" width="306" height="170" rx="1" fill="#ffffff" stroke="#6a6a6a" stroke-width="1.6"/>
<text x="441.6" y="316.9" font-size="21" fill="#2a2a2a" text-anchor="start" >1</text>
<text x="597.7" y="316.9" font-size="21" fill="#2a2a2a" text-anchor="start" >2</text>
<polygon points="568.39,368.12 515.99,411.72 515.99,418.52 568.39,374.92" fill="#7d7d7d" stroke="#121212" stroke-width="1.15" stroke-linejoin="round"/>
<polygon points="515.99,411.72 478.17,396.66 478.17,403.46 515.99,418.52" fill="#7f7f7f" stroke="#121212" stroke-width="1.15" stroke-linejoin="round"/>
<polygon points="504.37,374.86 466.55,359.80 466.55,366.60 504.37,381.66" fill="#7f7f7f" stroke="#121212" stroke-width="1.15" stroke-linejoin="round"/>
<polygon points="492.75,338.00 568.39,368.12 515.99,411.72 478.17,396.66 504.37,374.86 466.55,359.80" fill="#7a7a7a" stroke="#121212" stroke-width="1.15" stroke-linejoin="round"/>
<polygon points="488.76,347.31 488.86,347.93 489.14,348.53 489.58,349.10 490.16,349.63 490.89,350.09 491.72,350.49 492.66,350.80 493.67,351.02 494.73,351.15 495.81,351.19 496.89,351.12 497.93,350.96 498.93,350.71 499.84,350.37 500.64,349.96 501.33,349.47 501.87,348.93 502.26,348.35 502.49,347.74 502.55,347.12 502.55,342.90 502.49,343.53 502.26,344.14 501.87,344.72 501.33,345.26 500.64,345.74 499.84,346.16 498.93,346.50 497.93,346.75 496.89,346.91 495.81,346.97 494.73,346.94 493.67,346.81 492.66,346.58 491.72,346.27 490.89,345.88 490.16,345.41 489.58,344.89 489.14,344.32 488.86,343.71 488.76,343.09" fill="#141414" stroke="#141414" stroke-width="0.8" stroke-linejoin="round"/>
<polygon points="501.33,345.26 500.64,345.74 499.84,346.16 498.93,346.50 497.93,346.75 496.89,346.91 495.81,346.97 494.73,346.94 493.67,346.81 492.66,346.58 491.72,346.27 490.89,345.88 490.16,345.41 489.58,344.89 489.14,344.32 488.86,343.71 488.76,343.09 488.82,342.47 489.05,341.86 489.44,341.28 489.98,340.74 490.67,340.26 491.47,339.84 492.38,339.50 493.38,339.25 494.42,339.09 495.50,339.03 496.58,339.06 497.64,339.19 498.65,339.42 499.58,339.73 500.42,340.12 501.15,340.59 501.73,341.11 502.17,341.68 502.45,342.28 502.55,342.90 502.49,343.53 502.26,344.14 501.87,344.72" fill="#7a7a7a" stroke="#121212" stroke-width="1.035" stroke-linejoin="round"/>
<polygon points="507.67,354.84 507.77,355.46 508.05,356.06 508.49,356.63 509.07,357.16 509.80,357.62 510.63,358.02 511.57,358.33 512.58,358.55 513.64,358.68 514.72,358.72 515.80,358.65 516.84,358.49 517.84,358.24 518.75,357.90 519.55,357.49 520.24,357.00 520.78,356.46 521.17,355.88 521.40,355.27 521.46,354.65 521.46,350.43 521.40,351.06 521.17,351.67 520.78,352.25 520.24,352.79 519.55,353.27 518.75,353.69 517.84,354.03 516.84,354.28 515.80,354.44 514.72,354.50 513.64,354.47 512.58,354.34 511.57,354.11 510.63,353.80 509.80,353.41 509.07,352.94 508.49,352.42 508.05,351.85 507.77,351.24 507.67,350.62" fill="#141414" stroke="#141414" stroke-width="0.8" stroke-linejoin="round"/>
<polygon points="520.24,352.79 519.55,353.27 518.75,353.69 517.84,354.03 516.84,354.28 515.80,354.44 514.72,354.50 513.64,354.47 512.58,354.34 511.57,354.11 510.63,353.80 509.80,353.41 509.07,352.94 508.49,352.42 508.05,351.85 507.77,351.24 507.67,350.62 507.73,350.00 507.96,349.39 508.35,348.81 508.89,348.27 509.58,347.79 510.38,347.37 511.29,347.03 512.29,346.78 513.33,346.62 514.41,346.56 515.49,346.59 516.55,346.72 517.56,346.95 518.50,347.26 519.33,347.65 520.06,348.12 520.64,348.64 521.08,349.21 521.36,349.81 521.46,350.43 521.40,351.06 521.17,351.67 520.78,352.25" fill="#7a7a7a" stroke="#121212" stroke-width="1.035" stroke-linejoin="round"/>
<polygon points="475.66,358.21 475.76,358.83 476.04,359.43 476.48,360.00 477.06,360.53 477.79,360.99 478.62,361.38 479.56,361.70 480.57,361.92 481.63,362.05 482.71,362.09 483.79,362.02 484.83,361.86 485.83,361.61 486.74,361.27 487.54,360.86 488.23,360.37 488.77,359.83 489.16,359.25 489.39,358.64 489.45,358.02 489.45,353.80 489.39,354.43 489.16,355.04 488.77,355.62 488.23,356.16 487.54,356.64 486.74,357.06 485.83,357.40 484.83,357.65 483.79,357.81 482.71,357.87 481.63,357.84 480.57,357.71 479.56,357.48 478.62,357.17 477.79,356.78 477.06,356.31 476.48,355.79 476.04,355.22 475.76,354.61 475.66,353.99" fill="#141414" stroke="#141414" stroke-width="0.8" stroke-linejoin="round"/>
<polygon points="488.23,356.16 487.54,356.64 486.74,357.06 485.83,357.40 484.83,357.65 483.79,357.81 482.71,357.87 481.63,357.84 480.57,357.71 479.56,357.48 478.62,357.17 477.79,356.78 477.06,356.31 476.48,355.79 476.04,355.22 475.76,354.61 475.66,353.99 475.72,353.37 475.95,352.76 476.34,352.18 476.88,351.64 477.57,351.16 478.37,350.74 479.28,350.40 480.28,350.15 481.32,349.99 482.40,349.93 483.48,349.96 484.54,350.09 485.55,350.32 486.49,350.63 487.32,351.02 488.05,351.49 488.63,352.01 489.07,352.58 489.35,353.18 489.45,353.80 489.39,354.43 489.16,355.04 488.77,355.62" fill="#7a7a7a" stroke="#121212" stroke-width="1.035" stroke-linejoin="round"/>
<polygon points="526.58,362.37 526.68,362.99 526.96,363.59 527.40,364.16 527.98,364.69 528.71,365.15 529.54,365.55 530.48,365.86 531.49,366.08 532.55,366.21 533.63,366.25 534.71,366.18 535.75,366.02 536.75,365.77 537.66,365.43 538.46,365.02 539.15,364.53 539.69,363.99 540.08,363.41 540.31,362.80 540.37,362.18 540.37,357.96 540.31,358.59 540.08,359.20 539.69,359.78 539.15,360.32 538.46,360.80 537.66,361.22 536.75,361.56 535.75,361.81 534.71,361.97 533.63,362.03 532.55,362.00 531.49,361.87 530.48,361.64 529.54,361.33 528.71,360.94 527.98,360.47 527.40,359.95 526.96,359.38 526.68,358.77 526.58,358.15" fill="#141414" stroke="#141414" stroke-width="0.8" stroke-linejoin="round"/>
<polygon points="539.15,360.32 538.46,360.80 537.66,361.22 536.75,361.56 535.75,361.81 534.71,361.97 533.63,362.03 532.55,362.00 531.49,361.87 530.48,361.64 529.54,361.33 528.71,360.94 527.98,360.47 527.40,359.95 526.96,359.38 526.68,358.77 526.58,358.15 526.64,357.53 526.87,356.92 527.26,356.34 527.80,355.80 528.49,355.32 529.29,354.90 530.20,354.56 531.20,354.31 532.24,354.15 533.32,354.09 534.40,354.12 535.46,354.25 536.47,354.48 537.40,354.79 538.24,355.18 538.97,355.65 539.55,356.17 539.99,356.74 540.27,357.34 540.37,357.96 540.31,358.59 540.08,359.20 539.69,359.78" fill="#7a7a7a" stroke="#121212" stroke-width="1.035" stroke-linejoin="round"/>
<polygon points="494.57,365.74 494.67,366.36 494.95,366.96 495.39,367.53 495.97,368.06 496.70,368.52 497.54,368.92 498.47,369.23 499.48,369.45 500.54,369.58 501.62,369.62 502.70,369.55 503.74,369.39 504.74,369.14 505.65,368.80 506.45,368.39 507.14,367.90 507.68,367.36 508.07,366.78 508.30,366.17 508.36,365.55 508.36,361.33 508.30,361.96 508.07,362.57 507.68,363.15 507.14,363.69 506.45,364.17 505.65,364.59 504.74,364.93 503.74,365.18 502.70,365.34 501.62,365.40 500.54,365.37 499.48,365.24 498.47,365.01 497.54,364.70 496.70,364.31 495.97,363.84 495.39,363.32 494.95,362.75 494.67,362.14 494.57,361.52" fill="#141414" stroke="#141414" stroke-width="0.8" stroke-linejoin="round"/>
<polygon points="507.14,363.69 506.45,364.17 505.65,364.59 504.74,364.93 503.74,365.18 502.70,365.34 501.62,365.40 500.54,365.37 499.48,365.24 498.47,365.01 497.54,364.70 496.70,364.31 495.97,363.84 495.39,363.32 494.95,362.75 494.67,362.14 494.57,361.52 494.63,360.90 494.86,360.29 495.25,359.71 495.79,359.17 496.48,358.69 497.28,358.27 498.19,357.93 499.19,357.68 500.23,357.52 501.31,357.46 502.39,357.49 503.45,357.62 504.46,357.85 505.39,358.16 506.23,358.55 506.96,359.02 507.54,359.54 507.98,360.11 508.26,360.71 508.36,361.33 508.30,361.96 508.07,362.57 507.68,363.15" fill="#7a7a7a" stroke="#121212" stroke-width="1.035" stroke-linejoin="round"/>
<polygon points="545.49,369.90 545.59,370.52 545.87,371.12 546.31,371.69 546.89,372.22 547.62,372.68 548.45,373.08 549.39,373.39 550.40,373.61 551.46,373.74 552.54,373.78 553.62,373.71 554.66,373.55 555.66,373.30 556.57,372.96 557.37,372.55 558.06,372.06 558.60,371.52 558.99,370.94 559.22,370.33 559.28,369.71 559.28,365.49 559.22,366.12 558.99,366.73 558.60,367.31 558.06,367.85 557.37,368.33 556.57,368.75 555.66,369.09 554.66,369.34 553.62,369.50 552.54,369.56 551.46,369.53 550.40,369.40 549.39,369.17 548.45,368.86 547.62,368.47 546.89,368.00 546.31,367.48 545.87,366.91 545.59,366.30 545.49,365.68" fill="#141414" stroke="#141414" stroke-width="0.8" stroke-linejoin="round"/>
<polygon points="558.06,367.85 557.37,368.33 556.57,368.75 555.66,369.09 554.66,369.34 553.62,369.50 552.54,369.56 551.46,369.53 550.40,369.40 549.39,369.17 548.45,368.86 547.62,368.47 546.89,368.00 546.31,367.48 545.87,366.91 545.59,366.30 545.49,365.68 545.55,365.06 545.78,364.45 546.17,363.87 546.71,363.33 547.40,362.85 548.20,362.43 549.11,362.09 550.11,361.84 551.15,361.68 552.23,361.62 553.31,361.65 554.37,361.78 555.38,362.01 556.31,362.32 557.15,362.71 557.88,363.18 558.46,363.70 558.90,364.27 559.18,364.87 559.28,365.49 559.22,366.12 558.99,366.73 558.60,367.31" fill="#7a7a7a" stroke="#121212" stroke-width="1.035" stroke-linejoin="round"/>
<polygon points="513.48,373.27 513.58,373.89 513.86,374.49 514.30,375.06 514.88,375.59 515.61,376.05 516.44,376.44 517.38,376.76 518.39,376.98 519.45,377.11 520.53,377.15 521.61,377.08 522.65,376.92 523.65,376.67 524.56,376.33 525.36,375.92 526.05,375.43 526.59,374.89 526.98,374.31 527.21,373.70 527.27,373.08 527.27,368.86 527.21,369.49 526.98,370.10 526.59,370.68 526.05,371.22 525.36,371.70 524.56,372.12 523.65,372.46 522.65,372.71 521.61,372.87 520.53,372.93 519.45,372.90 518.39,372.77 517.38,372.54 516.44,372.23 515.61,371.84 514.88,371.37 514.30,370.85 513.86,370.28 513.58,369.67 513.48,369.05" fill="#141414" stroke="#141414" stroke-width="0.8" stroke-linejoin="round"/>
<polygon points="526.05,371.22 525.36,371.70 524.56,372.12 523.65,372.46 522.65,372.71 521.61,372.87 520.53,372.93 519.45,372.90 518.39,372.77 517.38,372.54 516.44,372.23 515.61,371.84 514.88,371.37 514.30,370.85 513.86,370.28 513.58,369.67 513.48,369.05 513.54,368.43 513.77,367.82 514.16,367.24 514.70,366.70 515.39,366.22 516.19,365.80 517.10,365.46 518.10,365.21 519.14,365.05 520.22,364.99 521.30,365.02 522.36,365.15 523.37,365.38 524.30,365.69 525.14,366.08 525.87,366.55 526.45,367.07 526.89,367.64 527.17,368.24 527.27,368.86 527.21,369.49 526.98,370.10 526.59,370.68" fill="#7a7a7a" stroke="#121212" stroke-width="1.035" stroke-linejoin="round"/>
<polygon points="532.39,380.80 532.49,381.42 532.77,382.02 533.21,382.59 533.79,383.12 534.52,383.58 535.35,383.98 536.29,384.29 537.30,384.51 538.36,384.64 539.44,384.68 540.52,384.61 541.56,384.45 542.56,384.20 543.47,383.86 544.27,383.45 544.96,382.96 545.50,382.42 545.89,381.84 546.12,381.23 546.18,380.61 546.18,376.39 546.12,377.02 545.89,377.63 545.50,378.21 544.96,378.75 544.27,379.23 543.47,379.65 542.56,379.99 541.56,380.24 540.52,380.40 539.44,380.46 538.36,380.43 537.30,380.30 536.29,380.07 535.35,379.76 534.52,379.37 533.79,378.90 533.21,378.38 532.77,377.81 532.49,377.20 532.39,376.58" fill="#141414" stroke="#141414" stroke-width="0.8" stroke-linejoin="round"/>
<polygon points="544.96,378.75 544.27,379.23 543.47,379.65 542.56,379.99 541.56,380.24 540.52,380.40 539.44,380.46 538.36,380.43 537.30,380.30 536.29,380.07 535.35,379.76 534.52,379.37 533.79,378.90 533.21,378.38 532.77,377.81 532.49,377.20 532.39,376.58 532.45,375.96 532.68,375.35 533.07,374.77 533.61,374.23 534.30,373.75 535.10,373.33 536.01,372.99 537.01,372.74 538.05,372.58 539.13,372.52 540.21,372.55 541.27,372.68 542.28,372.91 543.21,373.22 544.05,373.61 544.78,374.08 545.36,374.60 545.80,375.17 546.08,375.77 546.18,376.39 546.12,377.02 545.89,377.63 545.50,378.21" fill="#7a7a7a" stroke="#121212" stroke-width="1.035" stroke-linejoin="round"/>
<polygon points="500.38,384.17 500.48,384.79 500.76,385.39 501.20,385.96 501.78,386.49 502.51,386.95 503.34,387.34 504.28,387.66 505.29,387.88 506.35,388.01 507.43,388.05 508.51,387.98 509.55,387.82 510.55,387.57 511.46,387.23 512.26,386.82 512.95,386.33 513.49,385.79 513.88,385.21 514.11,384.60 514.17,383.98 514.17,379.76 514.11,380.39 513.88,381.00 513.49,381.58 512.95,382.12 512.26,382.60 511.46,383.02 510.55,383.36 509.55,383.61 508.51,383.77 507.43,383.83 506.35,383.80 505.29,383.67 504.28,383.44 503.34,383.13 502.51,382.74 501.78,382.27 501.20,381.75 500.76,381.18 500.48,380.57 500.38,379.95" fill="#141414" stroke="#141414" stroke-width="0.8" stroke-linejoin="round"/>
<polygon points="512.95,382.12 512.26,382.60 511.46,383.02 510.55,383.36 509.55,383.61 508.51,383.77 507.43,383.83 506.35,383.80 505.29,383.67 504.28,383.44 503.34,383.13 502.51,382.74 501.78,382.27 501.20,381.75 500.76,381.18 500.48,380.57 500.38,379.95 500.44,379.33 500.67,378.72 501.06,378.14 501.60,377.60 502.29,377.12 503.09,376.70 504.00,376.36 505.00,376.11 506.04,375.95 507.12,375.89 508.20,375.92 509.26,376.05 510.27,376.28 511.20,376.59 512.04,376.98 512.77,377.45 513.35,377.97 513.79,378.54 514.07,379.14 514.17,379.76 514.11,380.39 513.88,381.00 513.49,381.58" fill="#7a7a7a" stroke="#121212" stroke-width="1.035" stroke-linejoin="round"/>
<polygon points="519.29,391.70 519.39,392.32 519.67,392.92 520.11,393.49 520.69,394.02 521.42,394.48 522.25,394.88 523.19,395.19 524.20,395.41 525.26,395.54 526.34,395.58 527.42,395.51 528.46,395.35 529.46,395.10 530.37,394.76 531.17,394.35 531.86,393.86 532.40,393.32 532.79,392.74 533.02,392.13 533.08,391.51 533.08,387.29 533.02,387.92 532.79,388.53 532.40,389.11 531.86,389.65 531.17,390.13 530.37,390.55 529.46,390.89 528.46,391.14 527.42,391.30 526.34,391.36 525.26,391.33 524.20,391.20 523.19,390.97 522.25,390.66 521.42,390.27 520.69,389.80 520.11,389.28 519.67,388.71 519.39,388.10 519.29,387.48" fill="#141414" stroke="#141414" stroke-width="0.8" stroke-linejoin="round"/>
<polygon points="531.86,389.65 531.17,390.13 530.37,390.55 529.46,390.89 528.46,391.14 527.42,391.30 526.34,391.36 525.26,391.33 524.20,391.20 523.19,390.97 522.25,390.66 521.42,390.27 520.69,389.80 520.11,389.28 519.67,388.71 519.39,388.10 519.29,387.48 519.35,386.86 519.58,386.25 519.97,385.67 520.51,385.13 521.20,384.65 522.00,384.23 522.91,383.89 523.91,383.64 524.95,383.48 526.03,383.42 527.11,383.45 528.17,383.58 529.18,383.81 530.11,384.12 530.95,384.51 531.68,384.98 532.26,385.50 532.70,386.07 532.98,386.67 533.08,387.29 533.02,387.92 532.79,388.53 532.40,389.11" fill="#7a7a7a" stroke="#121212" stroke-width="1.035" stroke-linejoin="round"/>
<polygon points="487.28,395.07 487.38,395.69 487.66,396.29 488.10,396.86 488.68,397.39 489.41,397.85 490.25,398.25 491.18,398.56 492.19,398.78 493.25,398.91 494.33,398.95 495.41,398.88 496.45,398.72 497.45,398.47 498.36,398.13 499.16,397.72 499.85,397.23 500.39,396.69 500.78,396.11 501.01,395.50 501.07,394.88 501.07,390.66 501.01,391.29 500.78,391.90 500.39,392.48 499.85,393.02 499.16,393.50 498.36,393.92 497.45,394.26 496.45,394.51 495.41,394.67 494.33,394.73 493.25,394.70 492.19,394.57 491.18,394.34 490.25,394.03 489.41,393.64 488.68,393.17 488.10,392.65 487.66,392.08 487.38,391.47 487.28,390.85" fill="#141414" stroke="#141414" stroke-width="0.8" stroke-linejoin="round"/>
<polygon points="499.85,393.02 499.16,393.50 498.36,393.92 497.45,394.26 496.45,394.51 495.41,394.67 494.33,394.73 493.25,394.70 492.19,394.57 491.18,394.34 490.25,394.03 489.41,393.64 488.68,393.17 488.10,392.65 487.66,392.08 487.38,391.47 487.28,390.85 487.34,390.23 487.57,389.62 487.96,389.04 488.50,388.50 489.19,388.02 489.99,387.60 490.90,387.26 491.90,387.01 492.94,386.85 494.02,386.79 495.10,386.82 496.16,386.95 497.17,387.18 498.10,387.49 498.94,387.88 499.67,388.35 500.25,388.87 500.69,389.44 500.97,390.04 501.07,390.66 501.01,391.29 500.78,391.90 500.39,392.48" fill="#7a7a7a" stroke="#121212" stroke-width="1.035" stroke-linejoin="round"/>
<polygon points="506.19,402.60 506.29,403.22 506.57,403.82 507.01,404.39 507.59,404.92 508.32,405.38 509.15,405.78 510.09,406.09 511.10,406.31 512.16,406.44 513.24,406.48 514.32,406.41 515.36,406.25 516.36,406.00 517.27,405.66 518.07,405.25 518.76,404.76 519.30,404.22 519.69,403.64 519.92,403.03 519.98,402.41 519.98,398.19 519.92,398.82 519.69,399.43 519.30,400.01 518.76,400.55 518.07,401.03 517.27,401.45 516.36,401.79 515.36,402.04 514.32,402.20 513.24,402.26 512.16,402.23 511.10,402.10 510.09,401.87 509.15,401.56 508.32,401.17 507.59,400.70 507.01,400.18 506.57,399.61 506.29,399.00 506.19,398.38" fill="#141414" stroke="#141414" stroke-width="0.8" stroke-linejoin="round"/>
<polygon points="518.76,400.55 518.07,401.03 517.27,401.45 516.36,401.79 515.36,402.04 514.32,402.20 513.24,402.26 512.16,402.23 511.10,402.10 510.09,401.87 509.15,401.56 508.32,401.17 507.59,400.70 507.01,400.18 506.57,399.61 506.29,399.00 506.19,398.38 506.25,397.76 506.48,397.15 506.87,396.57 507.41,396.03 508.10,395.55 508.90,395.13 509.81,394.79 510.81,394.54 511.85,394.38 512.93,394.32 514.01,394.35 515.07,394.48 516.08,394.71 517.01,395.02 517.85,395.41 518.58,395.88 519.16,396.40 519.60,396.97 519.88,397.57 519.98,398.19 519.92,398.82 519.69,399.43 519.30,400.01" fill="#7a7a7a" stroke="#121212" stroke-width="1.035" stroke-linejoin="round"/>
<line x1="520" y1="324" x2="520" y2="352.3" stroke="#52a46d" stroke-width="2.4"/>
<polygon points="515.50,349.30 520.00,352.30 524.50,349.30 520.00,367.30" fill="#52a46d"/>
<line x1="551.9" y1="324" x2="551.9" y2="347.8" stroke="#52a46d" stroke-width="2.4"/>
<polygon points="547.40,344.80 551.90,347.80 556.40,344.80 551.90,362.80" fill="#52a46d"/>
<polygon points="568.70,303.00 542.80,324.50 542.80,331.30 568.70,309.80" fill="#7c2735" stroke="#121212" stroke-width="1.15" stroke-linejoin="round"/>
<polygon points="542.80,324.50 503.80,309.30 503.80,316.10 542.80,331.30" fill="#7e2837" stroke="#121212" stroke-width="1.15" stroke-linejoin="round"/>
<polygon points="529.70,287.80 568.70,303.00 542.80,324.50 503.80,309.30" fill="#822a3a" stroke="#121212" stroke-width="1.15" stroke-linejoin="round"/>
<polygon points="525.96,297.03 526.09,297.64 526.39,298.24 526.86,298.81 527.47,299.34 528.22,299.80 529.09,300.20 530.05,300.52 531.09,300.75 532.17,300.88 533.27,300.92 534.36,300.87 535.42,300.72 536.42,300.47 537.34,300.14 538.15,299.73 538.83,299.25 539.36,298.72 539.74,298.15 539.95,297.54 539.99,296.92 539.99,292.71 539.95,293.33 539.74,293.93 539.36,294.51 538.83,295.04 538.15,295.52 537.34,295.92 536.42,296.25 535.42,296.50 534.36,296.65 533.27,296.71 532.17,296.67 531.09,296.53 530.05,296.30 529.09,295.98 528.22,295.59 527.47,295.12 526.86,294.60 526.39,294.03 526.09,293.43 525.96,292.81" fill="#1c0609" stroke="#1c0609" stroke-width="0.8" stroke-linejoin="round"/>
<polygon points="538.83,295.04 538.15,295.52 537.34,295.92 536.42,296.25 535.42,296.50 534.36,296.65 533.27,296.71 532.17,296.67 531.09,296.53 530.05,296.30 529.09,295.98 528.22,295.59 527.47,295.12 526.86,294.60 526.39,294.03 526.09,293.43 525.96,292.81 526.00,292.19 526.21,291.59 526.59,291.01 527.12,290.48 527.80,290.00 528.61,289.59 529.53,289.26 530.53,289.02 531.59,288.87 532.68,288.81 533.78,288.85 534.86,288.99 535.90,289.22 536.86,289.53 537.73,289.93 538.48,290.40 539.09,290.92 539.56,291.49 539.86,292.09 539.99,292.71 539.95,293.33 539.74,293.93 539.36,294.51" fill="#822a3a" stroke="#121212" stroke-width="1.035" stroke-linejoin="round"/>
<polygon points="545.46,304.63 545.59,305.24 545.89,305.84 546.36,306.41 546.97,306.94 547.72,307.40 548.59,307.80 549.55,308.12 550.59,308.35 551.67,308.48 552.77,308.52 553.86,308.47 554.92,308.32 555.92,308.07 556.84,307.74 557.65,307.33 558.33,306.86 558.86,306.32 559.24,305.75 559.45,305.14 559.49,304.52 559.49,300.31 559.45,300.93 559.24,301.53 558.86,302.11 558.33,302.64 557.65,303.12 556.84,303.52 555.92,303.85 554.92,304.10 553.86,304.25 552.77,304.31 551.67,304.27 550.59,304.13 549.55,303.90 548.59,303.58 547.72,303.19 546.97,302.72 546.36,302.20 545.89,301.63 545.59,301.03 545.46,300.41" fill="#1c0609" stroke="#1c0609" stroke-width="0.8" stroke-linejoin="round"/>
<polygon points="558.33,302.64 557.65,303.12 556.84,303.52 555.92,303.85 554.92,304.10 553.86,304.25 552.77,304.31 551.67,304.27 550.59,304.13 549.55,303.90 548.59,303.58 547.72,303.19 546.97,302.72 546.36,302.20 545.89,301.63 545.59,301.03 545.46,300.41 545.50,299.79 545.71,299.19 546.09,298.61 546.62,298.08 547.30,297.60 548.11,297.19 549.03,296.86 550.03,296.62 551.09,296.47 552.18,296.41 553.28,296.45 554.36,296.59 555.40,296.82 556.36,297.13 557.23,297.53 557.98,298.00 558.59,298.52 559.06,299.09 559.36,299.69 559.49,300.31 559.45,300.93 559.24,301.53 558.86,302.11" fill="#822a3a" stroke="#121212" stroke-width="1.035" stroke-linejoin="round"/>
<polygon points="722.64,368.12 670.24,411.72 670.24,418.52 722.64,374.92" fill="#7d7d7d" stroke="#121212" stroke-width="1.15" stroke-linejoin="round"/>
<polygon points="670.24,411.72 632.42,396.66 632.42,403.46 670.24,418.52" fill="#7f7f7f" stroke="#121212" stroke-width="1.15" stroke-linejoin="round"/>
<polygon points="658.62,374.86 620.80,359.80 620.80,366.60 658.62,381.66" fill="#7f7f7f" stroke="#121212" stroke-width="1.15" stroke-linejoin="round"/>
<polygon points="647.00,338.00 722.64,368.12 670.24,411.72 632.42,396.66 658.62,374.86 620.80,359.80" fill="#7a7a7a" stroke="#121212" stroke-width="1.15" stroke-linejoin="round"/>
<polygon points="643.01,347.31 643.11,347.93 643.39,348.53 643.83,349.10 644.41,349.63 645.14,350.09 645.98,350.49 646.91,350.80 647.92,351.02 648.98,351.15 650.06,351.19 651.14,351.12 652.18,350.96 653.18,350.71 654.09,350.37 654.89,349.96 655.58,349.47 656.12,348.93 656.51,348.35 656.74,347.74 656.80,347.12 656.80,342.90 656.74,343.53 656.51,344.14 656.12,344.72 655.58,345.26 654.89,345.74 654.09,346.16 653.18,346.50 652.18,346.75 651.14,346.91 650.06,346.97 648.98,346.94 647.92,346.81 646.91,346.58 645.98,346.27 645.14,345.88 644.41,345.41 643.83,344.89 643.39,344.32 643.11,343.71 643.01,343.09" fill="#141414" stroke="#141414" stroke-width="0.8" stroke-linejoin="round"/>
<polygon points="655.58,345.26 654.89,345.74 654.09,346.16 653.18,346.50 652.18,346.75 651.14,346.91 650.06,346.97 648.98,346.94 647.92,346.81 646.91,346.58 645.98,346.27 645.14,345.88 644.41,345.41 643.83,344.89 643.39,344.32 643.11,343.71 643.01,343.09 643.07,342.47 643.30,341.86 643.69,341.28 644.23,340.74 644.92,340.26 645.72,339.84 646.63,339.50 647.63,339.25 648.67,339.09 649.75,339.03 650.83,339.06 651.89,339.19 652.90,339.42 653.84,339.73 654.67,340.12 655.40,340.59 655.98,341.11 656.42,341.68 656.70,342.28 656.80,342.90 656.74,343.53 656.51,344.14 656.12,344.72" fill="#7a7a7a" stroke="#121212" stroke-width="1.035" stroke-linejoin="round"/>
<polygon points="629.91,358.21 630.01,358.83 630.29,359.43 630.73,360.00 631.31,360.53 632.04,360.99 632.88,361.38 633.81,361.70 634.82,361.92 635.88,362.05 636.96,362.09 638.04,362.02 639.08,361.86 640.08,361.61 640.99,361.27 641.79,360.86 642.48,360.37 643.02,359.83 643.41,359.25 643.64,358.64 643.70,358.02 643.70,353.80 643.64,354.43 643.41,355.04 643.02,355.62 642.48,356.16 641.79,356.64 640.99,357.06 640.08,357.40 639.08,357.65 638.04,357.81 636.96,357.87 635.88,357.84 634.82,357.71 633.81,357.48 632.88,357.17 632.04,356.78 631.31,356.31 630.73,355.79 630.29,355.22 630.01,354.61 629.91,353.99" fill="#141414" stroke="#141414" stroke-width="0.8" stroke-linejoin="round"/>
<polygon points="642.48,356.16 641.79,356.64 640.99,357.06 640.08,357.40 639.08,357.65 638.04,357.81 636.96,357.87 635.88,357.84 634.82,357.71 633.81,357.48 632.88,357.17 632.04,356.78 631.31,356.31 630.73,355.79 630.29,355.22 630.01,354.61 629.91,353.99 629.97,353.37 630.20,352.76 630.59,352.18 631.13,351.64 631.82,351.16 632.62,350.74 633.53,350.40 634.53,350.15 635.57,349.99 636.65,349.93 637.73,349.96 638.79,350.09 639.80,350.32 640.74,350.63 641.57,351.02 642.30,351.49 642.88,352.01 643.32,352.58 643.60,353.18 643.70,353.80 643.64,354.43 643.41,355.04 643.02,355.62" fill="#7a7a7a" stroke="#121212" stroke-width="1.035" stroke-linejoin="round"/>
<polygon points="654.63,384.17 654.73,384.79 655.01,385.39 655.45,385.96 656.03,386.49 656.76,386.95 657.60,387.34 658.53,387.66 659.54,387.88 660.60,388.01 661.68,388.05 662.76,387.98 663.80,387.82 664.80,387.57 665.71,387.23 666.51,386.82 667.20,386.33 667.74,385.79 668.13,385.21 668.36,384.60 668.42,383.98 668.42,379.76 668.36,380.39 668.13,381.00 667.74,381.58 667.20,382.12 666.51,382.60 665.71,383.02 664.80,383.36 663.80,383.61 662.76,383.77 661.68,383.83 660.60,383.80 659.54,383.67 658.53,383.44 657.60,383.13 656.76,382.74 656.03,382.27 655.45,381.75 655.01,381.18 654.73,380.57 654.63,379.95" fill="#141414" stroke="#141414" stroke-width="0.8" stroke-linejoin="round"/>
<polygon points="667.20,382.12 666.51,382.60 665.71,383.02 664.80,383.36 663.80,383.61 662.76,383.77 661.68,383.83 660.60,383.80 659.54,383.67 658.53,383.44 657.60,383.13 656.76,382.74 656.03,382.27 655.45,381.75 655.01,381.18 654.73,380.57 654.63,379.95 654.69,379.33 654.92,378.72 655.31,378.14 655.85,377.60 656.54,377.12 657.34,376.70 658.25,376.36 659.25,376.11 660.29,375.95 661.37,375.89 662.45,375.92 663.51,376.05 664.52,376.28 665.45,376.59 666.29,376.98 667.02,377.45 667.60,377.97 668.04,378.54 668.32,379.14 668.42,379.76 668.36,380.39 668.13,381.00 667.74,381.58" fill="#7a7a7a" stroke="#121212" stroke-width="1.035" stroke-linejoin="round"/>
<polygon points="673.54,391.70 673.64,392.32 673.92,392.92 674.36,393.49 674.94,394.02 675.67,394.48 676.50,394.88 677.44,395.19 678.45,395.41 679.51,395.54 680.59,395.58 681.67,395.51 682.71,395.35 683.71,395.10 684.62,394.76 685.42,394.35 686.11,393.86 686.65,393.32 687.04,392.74 687.27,392.13 687.33,391.51 687.33,387.29 687.27,387.92 687.04,388.53 686.65,389.11 686.11,389.65 685.42,390.13 684.62,390.55 683.71,390.89 682.71,391.14 681.67,391.30 680.59,391.36 679.51,391.33 678.45,391.20 677.44,390.97 676.50,390.66 675.67,390.27 674.94,389.80 674.36,389.28 673.92,388.71 673.64,388.10 673.54,387.48" fill="#141414" stroke="#141414" stroke-width="0.8" stroke-linejoin="round"/>
<polygon points="686.11,389.65 685.42,390.13 684.62,390.55 683.71,390.89 682.71,391.14 681.67,391.30 680.59,391.36 679.51,391.33 678.45,391.20 677.44,390.97 676.50,390.66 675.67,390.27 674.94,389.80 674.36,389.28 673.92,388.71 673.64,388.10 673.54,387.48 673.60,386.86 673.83,386.25 674.22,385.67 674.76,385.13 675.45,384.65 676.25,384.23 677.16,383.89 678.16,383.64 679.20,383.48 680.28,383.42 681.36,383.45 682.42,383.58 683.43,383.81 684.36,384.12 685.20,384.51 685.93,384.98 686.51,385.50 686.95,386.07 687.23,386.67 687.33,387.29 687.27,387.92 687.04,388.53 686.65,389.11" fill="#7a7a7a" stroke="#121212" stroke-width="1.035" stroke-linejoin="round"/>
<polygon points="641.53,395.07 641.63,395.69 641.91,396.29 642.35,396.86 642.93,397.39 643.66,397.85 644.50,398.25 645.43,398.56 646.44,398.78 647.50,398.91 648.58,398.95 649.66,398.88 650.70,398.72 651.70,398.47 652.61,398.13 653.41,397.72 654.10,397.23 654.64,396.69 655.03,396.11 655.26,395.50 655.32,394.88 655.32,390.66 655.26,391.29 655.03,391.90 654.64,392.48 654.10,393.02 653.41,393.50 652.61,393.92 651.70,394.26 650.70,394.51 649.66,394.67 648.58,394.73 647.50,394.70 646.44,394.57 645.43,394.34 644.50,394.03 643.66,393.64 642.93,393.17 642.35,392.65 641.91,392.08 641.63,391.47 641.53,390.85" fill="#141414" stroke="#141414" stroke-width="0.8" stroke-linejoin="round"/>
<polygon points="654.10,393.02 653.41,393.50 652.61,393.92 651.70,394.26 650.70,394.51 649.66,394.67 648.58,394.73 647.50,394.70 646.44,394.57 645.43,394.34 644.50,394.03 643.66,393.64 642.93,393.17 642.35,392.65 641.91,392.08 641.63,391.47 641.53,390.85 641.59,390.23 641.82,389.62 642.21,389.04 642.75,388.50 643.44,388.02 644.24,387.60 645.15,387.26 646.15,387.01 647.19,386.85 648.27,386.79 649.35,386.82 650.41,386.95 651.42,387.18 652.36,387.49 653.19,387.88 653.92,388.35 654.50,388.87 654.94,389.44 655.22,390.04 655.32,390.66 655.26,391.29 655.03,391.90 654.64,392.48" fill="#7a7a7a" stroke="#121212" stroke-width="1.035" stroke-linejoin="round"/>
<polygon points="660.44,402.60 660.54,403.22 660.82,403.82 661.26,404.39 661.84,404.92 662.57,405.38 663.40,405.78 664.34,406.09 665.35,406.31 666.41,406.44 667.49,406.48 668.57,406.41 669.61,406.25 670.61,406.00 671.52,405.66 672.32,405.25 673.01,404.76 673.55,404.22 673.94,403.64 674.17,403.03 674.23,402.41 674.23,398.19 674.17,398.82 673.94,399.43 673.55,400.01 673.01,400.55 672.32,401.03 671.52,401.45 670.61,401.79 669.61,402.04 668.57,402.20 667.49,402.26 666.41,402.23 665.35,402.10 664.34,401.87 663.40,401.56 662.57,401.17 661.84,400.70 661.26,400.18 660.82,399.61 660.54,399.00 660.44,398.38" fill="#141414" stroke="#141414" stroke-width="0.8" stroke-linejoin="round"/>
<polygon points="673.01,400.55 672.32,401.03 671.52,401.45 670.61,401.79 669.61,402.04 668.57,402.20 667.49,402.26 666.41,402.23 665.35,402.10 664.34,401.87 663.40,401.56 662.57,401.17 661.84,400.70 661.26,400.18 660.82,399.61 660.54,399.00 660.44,398.38 660.50,397.76 660.73,397.15 661.12,396.57 661.66,396.03 662.35,395.55 663.15,395.13 664.06,394.79 665.06,394.54 666.10,394.38 667.18,394.32 668.26,394.35 669.32,394.48 670.33,394.71 671.26,395.02 672.10,395.41 672.83,395.88 673.41,396.40 673.85,396.97 674.13,397.57 674.23,398.19 674.17,398.82 673.94,399.43 673.55,400.01" fill="#7a7a7a" stroke="#121212" stroke-width="1.035" stroke-linejoin="round"/>
<polygon points="684.82,346.26 658.62,368.06 658.62,374.86 684.82,353.06" fill="#7c2735" stroke="#121212" stroke-width="1.15" stroke-linejoin="round"/>
<polygon points="658.62,368.06 639.71,360.53 639.71,367.33 658.62,374.86" fill="#7e2837" stroke="#121212" stroke-width="1.15" stroke-linejoin="round"/>
<polygon points="665.91,338.73 684.82,346.26 658.62,368.06 639.71,360.53" fill="#822a3a" stroke="#121212" stroke-width="1.15" stroke-linejoin="round"/>
<polygon points="722.64,361.32 696.44,383.12 696.44,389.92 722.64,368.12" fill="#7c2735" stroke="#121212" stroke-width="1.15" stroke-linejoin="round"/>
<polygon points="696.44,383.12 658.62,368.06 658.62,374.86 696.44,389.92" fill="#7e2837" stroke="#121212" stroke-width="1.15" stroke-linejoin="round"/>
<polygon points="684.82,346.26 722.64,361.32 696.44,383.12 658.62,368.06" fill="#822a3a" stroke="#121212" stroke-width="1.15" stroke-linejoin="round"/>
<polygon points="680.83,355.57 680.93,356.19 681.21,356.79 681.65,357.36 682.23,357.89 682.96,358.35 683.79,358.75 684.73,359.06 685.74,359.28 686.80,359.41 687.88,359.45 688.96,359.38 690.00,359.22 691.00,358.97 691.91,358.63 692.71,358.22 693.40,357.73 693.94,357.19 694.33,356.61 694.56,356.00 694.62,355.38 694.62,351.16 694.56,351.79 694.33,352.40 693.94,352.98 693.40,353.52 692.71,354.00 691.91,354.42 691.00,354.76 690.00,355.01 688.96,355.17 687.88,355.23 686.80,355.20 685.74,355.07 684.73,354.84 683.79,354.53 682.96,354.14 682.23,353.67 681.65,353.15 681.21,352.58 680.93,351.97 680.83,351.35" fill="#1c0609" stroke="#1c0609" stroke-width="0.8" stroke-linejoin="round"/>
<polygon points="693.40,353.52 692.71,354.00 691.91,354.42 691.00,354.76 690.00,355.01 688.96,355.17 687.88,355.23 686.80,355.20 685.74,355.07 684.73,354.84 683.79,354.53 682.96,354.14 682.23,353.67 681.65,353.15 681.21,352.58 680.93,351.97 680.83,351.35 680.89,350.73 681.12,350.12 681.51,349.54 682.05,349.00 682.74,348.52 683.54,348.10 684.45,347.76 685.45,347.51 686.49,347.35 687.57,347.29 688.65,347.32 689.71,347.45 690.72,347.68 691.65,347.99 692.49,348.38 693.22,348.85 693.80,349.37 694.24,349.94 694.52,350.54 694.62,351.16 694.56,351.79 694.33,352.40 693.94,352.98" fill="#822a3a" stroke="#121212" stroke-width="1.035" stroke-linejoin="round"/>
<polygon points="699.74,363.10 699.84,363.72 700.12,364.32 700.56,364.89 701.14,365.42 701.87,365.88 702.70,366.28 703.64,366.59 704.65,366.81 705.71,366.94 706.79,366.98 707.87,366.91 708.91,366.75 709.91,366.50 710.82,366.16 711.62,365.75 712.31,365.26 712.85,364.72 713.24,364.14 713.47,363.53 713.53,362.91 713.53,358.69 713.47,359.32 713.24,359.93 712.85,360.51 712.31,361.05 711.62,361.53 710.82,361.95 709.91,362.29 708.91,362.54 707.87,362.70 706.79,362.76 705.71,362.73 704.65,362.60 703.64,362.37 702.70,362.06 701.87,361.67 701.14,361.20 700.56,360.68 700.12,360.11 699.84,359.50 699.74,358.88" fill="#1c0609" stroke="#1c0609" stroke-width="0.8" stroke-linejoin="round"/>
<polygon points="712.31,361.05 711.62,361.53 710.82,361.95 709.91,362.29 708.91,362.54 707.87,362.70 706.79,362.76 705.71,362.73 704.65,362.60 703.64,362.37 702.70,362.06 701.87,361.67 701.14,361.20 700.56,360.68 700.12,360.11 699.84,359.50 699.74,358.88 699.80,358.26 700.03,357.65 700.42,357.07 700.96,356.53 701.65,356.05 702.45,355.63 703.36,355.29 704.36,355.04 705.40,354.88 706.48,354.82 707.56,354.85 708.62,354.98 709.63,355.21 710.56,355.52 711.40,355.91 712.13,356.38 712.71,356.90 713.15,357.47 713.43,358.07 713.53,358.69 713.47,359.32 713.24,359.93 712.85,360.51" fill="#822a3a" stroke="#121212" stroke-width="1.035" stroke-linejoin="round"/>
<line x1="650.2" y1="298.9" x2="650.2" y2="324.9" stroke="#52a46d" stroke-width="2.4"/>
<polygon points="645.70,321.90 650.20,324.90 654.70,321.90 650.20,339.90" fill="#52a46d"/>
<polygon points="629.50,278.20 632.20,276.40 639.10,275.80 650.20,277.60 665.90,281.40 665.90,289.20 653.10,298.00 639.70,293.90 638.60,295.60 633.60,297.40 633.30,293.30 629.80,286.30" fill="#7c2735" stroke="#121212" stroke-width="1.15" stroke-linejoin="round"/>
<polygon points="629.50,278.20 632.20,276.40 639.10,275.80 650.20,277.60 665.90,281.40 653.10,291.30 645.00,289.50 636.00,287.30 630.00,285.00" fill="#822a3a" stroke="#121212" stroke-width="1.15" stroke-linejoin="round"/>
<line x1="653.1" y1="291.3" x2="653.1" y2="298" stroke="#121212" stroke-width="1.15"/>
<line x1="638.8" y1="432.5" x2="638.8" y2="548" stroke="#1a1a1a" stroke-width="1.6"/>
<polygon points="632.40,544.00 638.80,545.60 645.20,544.00 638.80,561.00" fill="#1a1a1a"/>
<polygon points="713.44,640.60 686.84,662.10 686.84,668.81 713.44,647.31" fill="#7c2735" stroke="#121212" stroke-width="1.15" stroke-linejoin="round"/>
<polygon points="686.84,662.10 535.00,600.10 535.00,606.81 686.84,668.81" fill="#7e2837" stroke="#121212" stroke-width="1.15" stroke-linejoin="round"/>
<polygon points="561.60,578.60 713.44,640.60 686.84,662.10 535.00,600.10" fill="#822a3a" stroke="#121212" stroke-width="1.15" stroke-linejoin="round"/>
<polygon points="557.49,587.86 557.59,588.49 557.87,589.09 558.30,589.67 558.89,590.20 559.61,590.67 560.45,591.08 561.39,591.40 562.40,591.64 563.47,591.78 564.56,591.83 565.64,591.77 566.70,591.63 567.70,591.39 568.62,591.06 569.44,590.65 570.13,590.18 570.69,589.64 571.09,589.06 571.32,588.46 571.39,587.84 571.39,583.78 571.32,584.40 571.09,585.01 570.69,585.59 570.13,586.12 569.44,586.59 568.62,587.00 567.70,587.33 566.70,587.57 565.64,587.72 564.56,587.77 563.47,587.72 562.40,587.58 561.39,587.34 560.45,587.02 559.61,586.62 558.89,586.14 558.30,585.61 557.87,585.04 557.59,584.43 557.49,583.81" fill="#1c0609" stroke="#1c0609" stroke-width="0.8" stroke-linejoin="round"/>
<polygon points="570.13,586.12 569.44,586.59 568.62,587.00 567.70,587.33 566.70,587.57 565.64,587.72 564.56,587.77 563.47,587.72 562.40,587.58 561.39,587.34 560.45,587.02 559.61,586.62 558.89,586.14 558.30,585.61 557.87,585.04 557.59,584.43 557.49,583.81 557.56,583.19 557.79,582.58 558.19,582.00 558.75,581.47 559.44,580.99 560.26,580.59 561.18,580.26 562.18,580.02 563.24,579.87 564.32,579.82 565.41,579.86 566.48,580.01 567.49,580.24 568.43,580.57 569.27,580.97 569.99,581.45 570.58,581.98 571.01,582.55 571.29,583.16 571.39,583.78 571.32,584.40 571.09,585.01 570.69,585.59" fill="#822a3a" stroke="#121212" stroke-width="1.035" stroke-linejoin="round"/>
<polygon points="544.19,598.61 544.29,599.24 544.57,599.84 545.00,600.42 545.59,600.95 546.31,601.42 547.15,601.83 548.09,602.15 549.10,602.39 550.17,602.53 551.26,602.58 552.34,602.52 553.40,602.38 554.40,602.14 555.32,601.81 556.14,601.40 556.83,600.93 557.39,600.39 557.79,599.81 558.02,599.21 558.09,598.59 558.09,594.53 558.02,595.15 557.79,595.76 557.39,596.34 556.83,596.87 556.14,597.34 555.32,597.75 554.40,598.08 553.40,598.32 552.34,598.47 551.26,598.52 550.17,598.47 549.10,598.33 548.09,598.09 547.15,597.77 546.31,597.37 545.59,596.89 545.00,596.36 544.57,595.79 544.29,595.18 544.19,594.56" fill="#1c0609" stroke="#1c0609" stroke-width="0.8" stroke-linejoin="round"/>
<polygon points="556.83,596.87 556.14,597.34 555.32,597.75 554.40,598.08 553.40,598.32 552.34,598.47 551.26,598.52 550.17,598.47 549.10,598.33 548.09,598.09 547.15,597.77 546.31,597.37 545.59,596.89 545.00,596.36 544.57,595.79 544.29,595.18 544.19,594.56 544.26,593.94 544.49,593.33 544.89,592.75 545.45,592.22 546.14,591.74 546.96,591.34 547.88,591.01 548.88,590.77 549.94,590.62 551.02,590.57 552.11,590.61 553.18,590.76 554.19,590.99 555.13,591.32 555.97,591.72 556.69,592.20 557.28,592.73 557.71,593.30 557.99,593.91 558.09,594.53 558.02,595.15 557.79,595.76 557.39,596.34" fill="#822a3a" stroke="#121212" stroke-width="1.035" stroke-linejoin="round"/>
<polygon points="652.39,626.61 652.49,627.24 652.77,627.84 653.20,628.42 653.79,628.95 654.51,629.42 655.35,629.83 656.29,630.15 657.30,630.39 658.37,630.53 659.46,630.58 660.54,630.52 661.60,630.38 662.60,630.14 663.52,629.81 664.34,629.40 665.03,628.93 665.59,628.39 665.99,627.81 666.22,627.21 666.29,626.59 666.29,622.53 666.22,623.15 665.99,623.76 665.59,624.34 665.03,624.87 664.34,625.34 663.52,625.75 662.60,626.08 661.60,626.32 660.54,626.47 659.46,626.52 658.37,626.47 657.30,626.33 656.29,626.09 655.35,625.77 654.51,625.37 653.79,624.89 653.20,624.36 652.77,623.79 652.49,623.18 652.39,622.56" fill="#1c0609" stroke="#1c0609" stroke-width="0.8" stroke-linejoin="round"/>
<polygon points="665.03,624.87 664.34,625.34 663.52,625.75 662.60,626.08 661.60,626.32 660.54,626.47 659.46,626.52 658.37,626.47 657.30,626.33 656.29,626.09 655.35,625.77 654.51,625.37 653.79,624.89 653.20,624.36 652.77,623.79 652.49,623.18 652.39,622.56 652.46,621.94 652.69,621.33 653.09,620.75 653.65,620.22 654.34,619.74 655.16,619.34 656.08,619.01 657.08,618.77 658.14,618.62 659.22,618.57 660.31,618.61 661.38,618.76 662.39,618.99 663.33,619.32 664.17,619.72 664.89,620.20 665.48,620.73 665.91,621.30 666.19,621.91 666.29,622.53 666.22,623.15 665.99,623.76 665.59,624.34" fill="#822a3a" stroke="#121212" stroke-width="1.035" stroke-linejoin="round"/>
<polygon points="671.37,634.36 671.47,634.99 671.75,635.59 672.18,636.17 672.77,636.70 673.49,637.17 674.33,637.58 675.27,637.90 676.28,638.14 677.35,638.28 678.44,638.33 679.52,638.27 680.58,638.13 681.58,637.89 682.50,637.56 683.32,637.15 684.01,636.68 684.57,636.14 684.97,635.56 685.20,634.96 685.27,634.34 685.27,630.28 685.20,630.90 684.97,631.51 684.57,632.09 684.01,632.62 683.32,633.09 682.50,633.50 681.58,633.83 680.58,634.07 679.52,634.22 678.44,634.27 677.35,634.22 676.28,634.08 675.27,633.84 674.33,633.52 673.49,633.12 672.77,632.64 672.18,632.11 671.75,631.54 671.47,630.93 671.37,630.31" fill="#1c0609" stroke="#1c0609" stroke-width="0.8" stroke-linejoin="round"/>
<polygon points="684.01,632.62 683.32,633.09 682.50,633.50 681.58,633.83 680.58,634.07 679.52,634.22 678.44,634.27 677.35,634.22 676.28,634.08 675.27,633.84 674.33,633.52 673.49,633.12 672.77,632.64 672.18,632.11 671.75,631.54 671.47,630.93 671.37,630.31 671.44,629.69 671.67,629.08 672.07,628.50 672.63,627.97 673.32,627.49 674.14,627.09 675.06,626.76 676.06,626.52 677.12,626.37 678.20,626.32 679.29,626.36 680.36,626.51 681.37,626.74 682.31,627.07 683.15,627.47 683.87,627.95 684.46,628.48 684.89,629.05 685.17,629.66 685.27,630.28 685.20,630.90 684.97,631.51 684.57,632.09" fill="#822a3a" stroke="#121212" stroke-width="1.035" stroke-linejoin="round"/>
<polygon points="639.09,637.36 639.19,637.99 639.47,638.59 639.90,639.17 640.49,639.70 641.21,640.17 642.05,640.58 642.99,640.90 644.00,641.14 645.07,641.28 646.16,641.33 647.24,641.27 648.30,641.13 649.30,640.89 650.22,640.56 651.04,640.15 651.73,639.68 652.29,639.14 652.69,638.56 652.92,637.96 652.99,637.34 652.99,633.28 652.92,633.90 652.69,634.51 652.29,635.09 651.73,635.62 651.04,636.09 650.22,636.50 649.30,636.83 648.30,637.07 647.24,637.22 646.16,637.27 645.07,637.22 644.00,637.08 642.99,636.84 642.05,636.52 641.21,636.12 640.49,635.64 639.90,635.11 639.47,634.54 639.19,633.93 639.09,633.31" fill="#1c0609" stroke="#1c0609" stroke-width="0.8" stroke-linejoin="round"/>
<polygon points="651.73,635.62 651.04,636.09 650.22,636.50 649.30,636.83 648.30,637.07 647.24,637.22 646.16,637.27 645.07,637.22 644.00,637.08 642.99,636.84 642.05,636.52 641.21,636.12 640.49,635.64 639.90,635.11 639.47,634.54 639.19,633.93 639.09,633.31 639.16,632.69 639.39,632.08 639.79,631.50 640.35,630.97 641.04,630.49 641.86,630.09 642.78,629.76 643.78,629.52 644.84,629.37 645.92,629.32 647.01,629.36 648.08,629.51 649.09,629.74 650.03,630.07 650.87,630.47 651.59,630.95 652.18,631.48 652.61,632.05 652.89,632.66 652.99,633.28 652.92,633.90 652.69,634.51 652.29,635.09" fill="#822a3a" stroke="#121212" stroke-width="1.035" stroke-linejoin="round"/>
<polygon points="690.35,642.11 690.45,642.74 690.73,643.34 691.16,643.92 691.75,644.45 692.47,644.92 693.31,645.33 694.25,645.65 695.26,645.89 696.33,646.03 697.42,646.08 698.50,646.02 699.56,645.88 700.56,645.64 701.48,645.31 702.30,644.90 702.99,644.43 703.55,643.89 703.95,643.31 704.18,642.71 704.25,642.09 704.25,638.03 704.18,638.65 703.95,639.26 703.55,639.84 702.99,640.37 702.30,640.84 701.48,641.25 700.56,641.58 699.56,641.82 698.50,641.97 697.42,642.02 696.33,641.97 695.26,641.83 694.25,641.59 693.31,641.27 692.47,640.87 691.75,640.39 691.16,639.86 690.73,639.29 690.45,638.68 690.35,638.06" fill="#1c0609" stroke="#1c0609" stroke-width="0.8" stroke-linejoin="round"/>
<polygon points="702.99,640.37 702.30,640.84 701.48,641.25 700.56,641.58 699.56,641.82 698.50,641.97 697.42,642.02 696.33,641.97 695.26,641.83 694.25,641.59 693.31,641.27 692.47,640.87 691.75,640.39 691.16,639.86 690.73,639.29 690.45,638.68 690.35,638.06 690.42,637.44 690.65,636.83 691.05,636.25 691.61,635.72 692.30,635.24 693.12,634.84 694.04,634.51 695.04,634.27 696.10,634.12 697.18,634.07 698.27,634.11 699.34,634.26 700.35,634.49 701.29,634.82 702.13,635.22 702.85,635.70 703.44,636.23 703.87,636.80 704.15,637.41 704.25,638.03 704.18,638.65 703.95,639.26 703.55,639.84" fill="#822a3a" stroke="#121212" stroke-width="1.035" stroke-linejoin="round"/>
<polygon points="658.07,645.11 658.17,645.74 658.45,646.34 658.88,646.92 659.47,647.45 660.19,647.92 661.03,648.33 661.97,648.65 662.98,648.89 664.05,649.03 665.14,649.08 666.22,649.02 667.28,648.88 668.28,648.64 669.20,648.31 670.02,647.90 670.71,647.43 671.27,646.89 671.67,646.31 671.90,645.71 671.97,645.09 671.97,641.03 671.90,641.65 671.67,642.26 671.27,642.84 670.71,643.37 670.02,643.84 669.20,644.25 668.28,644.58 667.28,644.82 666.22,644.97 665.14,645.02 664.05,644.97 662.98,644.83 661.97,644.59 661.03,644.27 660.19,643.87 659.47,643.39 658.88,642.86 658.45,642.29 658.17,641.68 658.07,641.06" fill="#1c0609" stroke="#1c0609" stroke-width="0.8" stroke-linejoin="round"/>
<polygon points="670.71,643.37 670.02,643.84 669.20,644.25 668.28,644.58 667.28,644.82 666.22,644.97 665.14,645.02 664.05,644.97 662.98,644.83 661.97,644.59 661.03,644.27 660.19,643.87 659.47,643.39 658.88,642.86 658.45,642.29 658.17,641.68 658.07,641.06 658.14,640.44 658.37,639.83 658.77,639.25 659.33,638.72 660.02,638.24 660.84,637.84 661.76,637.51 662.76,637.27 663.82,637.12 664.90,637.07 665.99,637.11 667.06,637.26 668.07,637.49 669.01,637.82 669.85,638.22 670.57,638.70 671.16,639.23 671.59,639.80 671.87,640.41 671.97,641.03 671.90,641.65 671.67,642.26 671.27,642.84" fill="#822a3a" stroke="#121212" stroke-width="1.035" stroke-linejoin="round"/>
<polygon points="677.05,652.86 677.15,653.49 677.43,654.09 677.86,654.67 678.45,655.20 679.17,655.67 680.01,656.08 680.95,656.40 681.96,656.64 683.03,656.78 684.12,656.83 685.20,656.77 686.26,656.63 687.26,656.39 688.18,656.06 689.00,655.65 689.69,655.18 690.25,654.64 690.65,654.06 690.88,653.46 690.95,652.84 690.95,648.78 690.88,649.40 690.65,650.01 690.25,650.59 689.69,651.12 689.00,651.59 688.18,652.00 687.26,652.33 686.26,652.57 685.20,652.72 684.12,652.77 683.03,652.72 681.96,652.58 680.95,652.34 680.01,652.02 679.17,651.62 678.45,651.14 677.86,650.61 677.43,650.04 677.15,649.43 677.05,648.81" fill="#1c0609" stroke="#1c0609" stroke-width="0.8" stroke-linejoin="round"/>
<polygon points="689.69,651.12 689.00,651.59 688.18,652.00 687.26,652.33 686.26,652.57 685.20,652.72 684.12,652.77 683.03,652.72 681.96,652.58 680.95,652.34 680.01,652.02 679.17,651.62 678.45,651.14 677.86,650.61 677.43,650.04 677.15,649.43 677.05,648.81 677.12,648.19 677.35,647.58 677.75,647.00 678.31,646.47 679.00,645.99 679.82,645.59 680.74,645.26 681.74,645.02 682.80,644.87 683.88,644.82 684.97,644.86 686.04,645.01 687.05,645.24 687.99,645.57 688.83,645.97 689.55,646.45 690.14,646.98 690.57,647.55 690.85,648.16 690.95,648.78 690.88,649.40 690.65,650.01 690.25,650.59" fill="#822a3a" stroke="#121212" stroke-width="1.035" stroke-linejoin="round"/>
<polygon points="645.14,573.10 591.94,616.10 591.94,623.90 645.14,580.90" fill="#1f40c0" stroke-linejoin="round" stroke="#1f40c0" stroke-width="5.4" stroke-linejoin="round"/>
<polygon points="591.94,616.10 553.98,600.90 553.98,608.70 591.94,623.90" fill="#1f40c0" stroke-linejoin="round" stroke="#1f40c0" stroke-width="5.4" stroke-linejoin="round"/>
<polygon points="580.58,579.40 542.62,564.20 542.62,572.00 580.58,587.20" fill="#1f40c0" stroke-linejoin="round" stroke="#1f40c0" stroke-width="5.4" stroke-linejoin="round"/>
<polygon points="569.22,542.70 645.14,573.10 591.94,616.10 553.98,600.90 580.58,579.40 542.62,564.20" fill="#1f40c0" stroke-linejoin="round" stroke="#1f40c0" stroke-width="5.4" stroke-linejoin="round"/>
<polygon points="551.81,562.68 551.91,563.29 552.19,563.89 552.62,564.46 553.21,564.99 553.93,565.45 554.77,565.85 555.71,566.17 556.72,566.40 557.79,566.53 558.88,566.57 559.96,566.52 561.02,566.37 562.02,566.12 562.94,565.79 563.76,565.38 564.45,564.91 565.01,564.37 565.41,563.80 565.64,563.19 565.71,562.57 565.71,558.52 565.64,559.14 565.41,559.74 565.01,560.32 564.45,560.85 563.76,561.33 562.94,561.73 562.02,562.06 561.02,562.31 559.96,562.46 558.88,562.52 557.79,562.48 556.72,562.34 555.71,562.11 554.77,561.79 553.93,561.40 553.21,560.93 552.62,560.41 552.19,559.84 551.91,559.24 551.81,558.62" fill="#1f40c0" stroke-linejoin="round" stroke="#1f40c0" stroke-width="5.4" stroke-linejoin="round"/>
<polygon points="564.45,560.85 563.76,561.33 562.94,561.73 562.02,562.06 561.02,562.31 559.96,562.46 558.88,562.52 557.79,562.48 556.72,562.34 555.71,562.11 554.77,561.79 553.93,561.40 553.21,560.93 552.62,560.41 552.19,559.84 551.91,559.24 551.81,558.62 551.88,558.00 552.11,557.40 552.51,556.82 553.07,556.29 553.76,555.81 554.58,555.40 555.50,555.07 556.50,554.83 557.56,554.68 558.64,554.62 559.73,554.66 560.80,554.80 561.81,555.03 562.75,555.34 563.59,555.74 564.31,556.21 564.90,556.73 565.33,557.30 565.61,557.90 565.71,558.52 565.64,559.14 565.41,559.74 565.01,560.32" fill="#1f40c0" stroke-linejoin="round" stroke="#1f40c0" stroke-width="5.4" stroke-linejoin="round"/>
<polygon points="576.47,588.63 576.57,589.24 576.85,589.84 577.28,590.41 577.87,590.94 578.59,591.40 579.43,591.80 580.37,592.12 581.38,592.35 582.45,592.48 583.54,592.52 584.62,592.47 585.68,592.32 586.68,592.07 587.60,591.74 588.42,591.33 589.11,590.86 589.67,590.32 590.07,589.75 590.30,589.14 590.37,588.52 590.37,584.47 590.30,585.09 590.07,585.69 589.67,586.27 589.11,586.80 588.42,587.28 587.60,587.68 586.68,588.01 585.68,588.26 584.62,588.41 583.54,588.47 582.45,588.43 581.38,588.29 580.37,588.06 579.43,587.74 578.59,587.35 577.87,586.88 577.28,586.36 576.85,585.79 576.57,585.19 576.47,584.57" fill="#1f40c0" stroke-linejoin="round" stroke="#1f40c0" stroke-width="5.4" stroke-linejoin="round"/>
<polygon points="589.11,586.80 588.42,587.28 587.60,587.68 586.68,588.01 585.68,588.26 584.62,588.41 583.54,588.47 582.45,588.43 581.38,588.29 580.37,588.06 579.43,587.74 578.59,587.35 577.87,586.88 577.28,586.36 576.85,585.79 576.57,585.19 576.47,584.57 576.54,583.95 576.77,583.35 577.17,582.77 577.73,582.24 578.42,581.76 579.24,581.35 580.16,581.02 581.16,580.78 582.22,580.63 583.30,580.57 584.39,580.61 585.46,580.75 586.47,580.98 587.41,581.29 588.25,581.69 588.97,582.16 589.56,582.68 589.99,583.25 590.27,583.85 590.37,584.47 590.30,585.09 590.07,585.69 589.67,586.27" fill="#1f40c0" stroke-linejoin="round" stroke="#1f40c0" stroke-width="5.4" stroke-linejoin="round"/>
<polygon points="595.45,596.23 595.55,596.84 595.83,597.44 596.26,598.01 596.85,598.54 597.57,599.00 598.41,599.40 599.35,599.72 600.36,599.95 601.43,600.08 602.52,600.12 603.60,600.07 604.66,599.92 605.66,599.67 606.58,599.34 607.40,598.93 608.09,598.46 608.65,597.92 609.05,597.35 609.28,596.74 609.35,596.12 609.35,592.07 609.28,592.69 609.05,593.29 608.65,593.87 608.09,594.40 607.40,594.88 606.58,595.28 605.66,595.61 604.66,595.86 603.60,596.01 602.52,596.07 601.43,596.03 600.36,595.89 599.35,595.66 598.41,595.34 597.57,594.95 596.85,594.48 596.26,593.96 595.83,593.39 595.55,592.79 595.45,592.17" fill="#1f40c0" stroke-linejoin="round" stroke="#1f40c0" stroke-width="5.4" stroke-linejoin="round"/>
<polygon points="608.09,594.40 607.40,594.88 606.58,595.28 605.66,595.61 604.66,595.86 603.60,596.01 602.52,596.07 601.43,596.03 600.36,595.89 599.35,595.66 598.41,595.34 597.57,594.95 596.85,594.48 596.26,593.96 595.83,593.39 595.55,592.79 595.45,592.17 595.52,591.55 595.75,590.95 596.15,590.37 596.71,589.84 597.40,589.36 598.22,588.95 599.14,588.62 600.14,588.38 601.20,588.23 602.28,588.17 603.37,588.21 604.44,588.35 605.45,588.58 606.39,588.89 607.23,589.29 607.95,589.76 608.54,590.28 608.97,590.85 609.25,591.45 609.35,592.07 609.28,592.69 609.05,593.29 608.65,593.87" fill="#1f40c0" stroke-linejoin="round" stroke="#1f40c0" stroke-width="5.4" stroke-linejoin="round"/>
<polygon points="563.17,599.38 563.27,599.99 563.55,600.59 563.98,601.16 564.57,601.69 565.29,602.15 566.13,602.55 567.07,602.87 568.08,603.10 569.15,603.23 570.24,603.27 571.32,603.22 572.38,603.07 573.38,602.82 574.30,602.49 575.12,602.08 575.81,601.61 576.37,601.07 576.77,600.50 577.00,599.89 577.07,599.27 577.07,595.22 577.00,595.84 576.77,596.44 576.37,597.02 575.81,597.55 575.12,598.03 574.30,598.43 573.38,598.76 572.38,599.01 571.32,599.16 570.24,599.22 569.15,599.18 568.08,599.04 567.07,598.81 566.13,598.49 565.29,598.10 564.57,597.63 563.98,597.11 563.55,596.54 563.27,595.94 563.17,595.32" fill="#1f40c0" stroke-linejoin="round" stroke="#1f40c0" stroke-width="5.4" stroke-linejoin="round"/>
<polygon points="575.81,597.55 575.12,598.03 574.30,598.43 573.38,598.76 572.38,599.01 571.32,599.16 570.24,599.22 569.15,599.18 568.08,599.04 567.07,598.81 566.13,598.49 565.29,598.10 564.57,597.63 563.98,597.11 563.55,596.54 563.27,595.94 563.17,595.32 563.24,594.70 563.47,594.10 563.87,593.52 564.43,592.99 565.12,592.51 565.94,592.10 566.86,591.77 567.86,591.53 568.92,591.38 570.00,591.32 571.09,591.36 572.16,591.50 573.17,591.73 574.11,592.04 574.95,592.44 575.67,592.91 576.26,593.43 576.69,594.00 576.97,594.60 577.07,595.22 577.00,595.84 576.77,596.44 576.37,597.02" fill="#1f40c0" stroke-linejoin="round" stroke="#1f40c0" stroke-width="5.4" stroke-linejoin="round"/>
<polygon points="582.15,606.98 582.25,607.59 582.53,608.19 582.96,608.76 583.55,609.29 584.27,609.75 585.11,610.15 586.05,610.47 587.06,610.70 588.13,610.83 589.22,610.87 590.30,610.82 591.36,610.67 592.36,610.42 593.28,610.09 594.10,609.68 594.79,609.21 595.35,608.67 595.75,608.10 595.98,607.49 596.05,606.87 596.05,602.82 595.98,603.44 595.75,604.04 595.35,604.62 594.79,605.15 594.10,605.63 593.28,606.03 592.36,606.36 591.36,606.61 590.30,606.76 589.22,606.82 588.13,606.78 587.06,606.64 586.05,606.41 585.11,606.09 584.27,605.70 583.55,605.23 582.96,604.71 582.53,604.14 582.25,603.54 582.15,602.92" fill="#1f40c0" stroke-linejoin="round" stroke="#1f40c0" stroke-width="5.4" stroke-linejoin="round"/>
<polygon points="594.79,605.15 594.10,605.63 593.28,606.03 592.36,606.36 591.36,606.61 590.30,606.76 589.22,606.82 588.13,606.78 587.06,606.64 586.05,606.41 585.11,606.09 584.27,605.70 583.55,605.23 582.96,604.71 582.53,604.14 582.25,603.54 582.15,602.92 582.22,602.30 582.45,601.70 582.85,601.12 583.41,600.59 584.10,600.11 584.92,599.70 585.84,599.37 586.84,599.13 587.90,598.98 588.98,598.92 590.07,598.96 591.14,599.10 592.15,599.33 593.09,599.64 593.93,600.04 594.65,600.51 595.24,601.03 595.67,601.60 595.95,602.20 596.05,602.82 595.98,603.44 595.75,604.04 595.35,604.62" fill="#1f40c0" stroke-linejoin="round" stroke="#1f40c0" stroke-width="5.4" stroke-linejoin="round"/>
<polygon points="607.18,550.10 580.58,571.60 580.58,579.40 607.18,557.90" fill="#1f40c0" stroke-linejoin="round" stroke="#1f40c0" stroke-width="5.4" stroke-linejoin="round"/>
<polygon points="580.58,571.60 561.60,564.00 561.60,571.80 580.58,579.40" fill="#1f40c0" stroke-linejoin="round" stroke="#1f40c0" stroke-width="5.4" stroke-linejoin="round"/>
<polygon points="588.20,542.50 607.18,550.10 580.58,571.60 561.60,564.00" fill="#1f40c0" stroke-linejoin="round" stroke="#1f40c0" stroke-width="5.4" stroke-linejoin="round"/>
<polygon points="645.14,565.30 618.54,586.80 618.54,594.60 645.14,573.10" fill="#1f40c0" stroke-linejoin="round" stroke="#1f40c0" stroke-width="5.4" stroke-linejoin="round"/>
<polygon points="618.54,586.80 580.58,571.60 580.58,579.40 618.54,594.60" fill="#1f40c0" stroke-linejoin="round" stroke="#1f40c0" stroke-width="5.4" stroke-linejoin="round"/>
<polygon points="607.18,550.10 645.14,565.30 618.54,586.80 580.58,571.60" fill="#1f40c0" stroke-linejoin="round" stroke="#1f40c0" stroke-width="5.4" stroke-linejoin="round"/>
<polygon points="603.07,559.33 603.17,559.94 603.45,560.54 603.88,561.11 604.47,561.64 605.19,562.10 606.03,562.50 606.97,562.82 607.98,563.05 609.05,563.18 610.14,563.22 611.22,563.17 612.28,563.02 613.28,562.77 614.20,562.44 615.02,562.03 615.71,561.55 616.27,561.02 616.67,560.45 616.90,559.84 616.97,559.22 616.97,555.17 616.90,555.79 616.67,556.39 616.27,556.97 615.71,557.50 615.02,557.98 614.20,558.38 613.28,558.71 612.28,558.96 611.22,559.11 610.14,559.17 609.05,559.13 607.98,558.99 606.97,558.76 606.03,558.44 605.19,558.05 604.47,557.58 603.88,557.06 603.45,556.49 603.17,555.89 603.07,555.27" fill="#1f40c0" stroke-linejoin="round" stroke="#1f40c0" stroke-width="5.4" stroke-linejoin="round"/>
<polygon points="615.71,557.50 615.02,557.98 614.20,558.38 613.28,558.71 612.28,558.96 611.22,559.11 610.14,559.17 609.05,559.13 607.98,558.99 606.97,558.76 606.03,558.44 605.19,558.05 604.47,557.58 603.88,557.06 603.45,556.49 603.17,555.89 603.07,555.27 603.14,554.65 603.37,554.05 603.77,553.47 604.33,552.94 605.02,552.46 605.84,552.05 606.76,551.72 607.76,551.48 608.82,551.33 609.90,551.27 610.99,551.31 612.06,551.45 613.07,551.68 614.01,551.99 614.85,552.39 615.57,552.86 616.16,553.38 616.59,553.95 616.87,554.55 616.97,555.17 616.90,555.79 616.67,556.39 616.27,556.97" fill="#1f40c0" stroke-linejoin="round" stroke="#1f40c0" stroke-width="5.4" stroke-linejoin="round"/>
<polygon points="622.05,566.93 622.15,567.54 622.43,568.14 622.86,568.71 623.45,569.24 624.17,569.70 625.01,570.10 625.95,570.42 626.96,570.65 628.03,570.78 629.12,570.82 630.20,570.77 631.26,570.62 632.26,570.37 633.18,570.04 634.00,569.63 634.69,569.15 635.25,568.62 635.65,568.05 635.88,567.44 635.95,566.82 635.95,562.77 635.88,563.39 635.65,563.99 635.25,564.57 634.69,565.10 634.00,565.58 633.18,565.98 632.26,566.31 631.26,566.56 630.20,566.71 629.12,566.77 628.03,566.73 626.96,566.59 625.95,566.36 625.01,566.04 624.17,565.65 623.45,565.18 622.86,564.66 622.43,564.09 622.15,563.49 622.05,562.87" fill="#1f40c0" stroke-linejoin="round" stroke="#1f40c0" stroke-width="5.4" stroke-linejoin="round"/>
<polygon points="634.69,565.10 634.00,565.58 633.18,565.98 632.26,566.31 631.26,566.56 630.20,566.71 629.12,566.77 628.03,566.73 626.96,566.59 625.95,566.36 625.01,566.04 624.17,565.65 623.45,565.18 622.86,564.66 622.43,564.09 622.15,563.49 622.05,562.87 622.12,562.25 622.35,561.65 622.75,561.07 623.31,560.54 624.00,560.06 624.82,559.65 625.74,559.32 626.74,559.08 627.80,558.93 628.88,558.87 629.97,558.91 631.04,559.05 632.05,559.28 632.99,559.59 633.83,559.99 634.55,560.46 635.14,560.98 635.57,561.55 635.85,562.15 635.95,562.77 635.88,563.39 635.65,563.99 635.25,564.57" fill="#1f40c0" stroke-linejoin="round" stroke="#1f40c0" stroke-width="5.4" stroke-linejoin="round"/>
<polygon points="552.20,538.70 556.00,537.00 560.30,536.60 568.00,537.30 575.50,539.20 588.20,542.50 574.50,553.60 567.40,553.30 558.30,551.80 552.70,548.00" fill="#1f40c0" stroke-linejoin="round" stroke="#1f40c0" stroke-width="5.4" stroke-linejoin="round"/>
<polygon points="552.40,538.70 556.00,537.00 560.30,536.60 568.00,537.30 575.50,539.20 588.20,542.50 576.30,551.50 568.00,549.80 560.00,548.50 553.50,546.50" fill="#1f40c0" stroke-linejoin="round" stroke="#1f40c0" stroke-width="5.4" stroke-linejoin="round"/>
<polygon points="645.14,573.10 591.94,616.10 591.94,623.90 645.14,580.90" fill="#7d7d7d" stroke="#121212" stroke-width="1.15" stroke-linejoin="round"/>
<polygon points="591.94,616.10 553.98,600.90 553.98,608.70 591.94,623.90" fill="#7f7f7f" stroke="#121212" stroke-width="1.15" stroke-linejoin="round"/>
<polygon points="580.58,579.40 542.62,564.20 542.62,572.00 580.58,587.20" fill="#7f7f7f" stroke="#121212" stroke-width="1.15" stroke-linejoin="round"/>
<polygon points="569.22,542.70 645.14,573.10 591.94,616.10 553.98,600.90 580.58,579.40 542.62,564.20" fill="#7a7a7a" stroke="#121212" stroke-width="1.15" stroke-linejoin="round"/>
<polygon points="551.81,562.68 551.91,563.29 552.19,563.89 552.62,564.46 553.21,564.99 553.93,565.45 554.77,565.85 555.71,566.17 556.72,566.40 557.79,566.53 558.88,566.57 559.96,566.52 561.02,566.37 562.02,566.12 562.94,565.79 563.76,565.38 564.45,564.91 565.01,564.37 565.41,563.80 565.64,563.19 565.71,562.57 565.71,558.52 565.64,559.14 565.41,559.74 565.01,560.32 564.45,560.85 563.76,561.33 562.94,561.73 562.02,562.06 561.02,562.31 559.96,562.46 558.88,562.52 557.79,562.48 556.72,562.34 555.71,562.11 554.77,561.79 553.93,561.40 553.21,560.93 552.62,560.41 552.19,559.84 551.91,559.24 551.81,558.62" fill="#141414" stroke="#141414" stroke-width="0.8" stroke-linejoin="round"/>
<polygon points="564.45,560.85 563.76,561.33 562.94,561.73 562.02,562.06 561.02,562.31 559.96,562.46 558.88,562.52 557.79,562.48 556.72,562.34 555.71,562.11 554.77,561.79 553.93,561.40 553.21,560.93 552.62,560.41 552.19,559.84 551.91,559.24 551.81,558.62 551.88,558.00 552.11,557.40 552.51,556.82 553.07,556.29 553.76,555.81 554.58,555.40 555.50,555.07 556.50,554.83 557.56,554.68 558.64,554.62 559.73,554.66 560.80,554.80 561.81,555.03 562.75,555.34 563.59,555.74 564.31,556.21 564.90,556.73 565.33,557.30 565.61,557.90 565.71,558.52 565.64,559.14 565.41,559.74 565.01,560.32" fill="#7a7a7a" stroke="#121212" stroke-width="1.035" stroke-linejoin="round"/>
<polygon points="576.47,588.63 576.57,589.24 576.85,589.84 577.28,590.41 577.87,590.94 578.59,591.40 579.43,591.80 580.37,592.12 581.38,592.35 582.45,592.48 583.54,592.52 584.62,592.47 585.68,592.32 586.68,592.07 587.60,591.74 588.42,591.33 589.11,590.86 589.67,590.32 590.07,589.75 590.30,589.14 590.37,588.52 590.37,584.47 590.30,585.09 590.07,585.69 589.67,586.27 589.11,586.80 588.42,587.28 587.60,587.68 586.68,588.01 585.68,588.26 584.62,588.41 583.54,588.47 582.45,588.43 581.38,588.29 580.37,588.06 579.43,587.74 578.59,587.35 577.87,586.88 577.28,586.36 576.85,585.79 576.57,585.19 576.47,584.57" fill="#141414" stroke="#141414" stroke-width="0.8" stroke-linejoin="round"/>
<polygon points="589.11,586.80 588.42,587.28 587.60,587.68 586.68,588.01 585.68,588.26 584.62,588.41 583.54,588.47 582.45,588.43 581.38,588.29 580.37,588.06 579.43,587.74 578.59,587.35 577.87,586.88 577.28,586.36 576.85,585.79 576.57,585.19 576.47,584.57 576.54,583.95 576.77,583.35 577.17,582.77 577.73,582.24 578.42,581.76 579.24,581.35 580.16,581.02 581.16,580.78 582.22,580.63 583.30,580.57 584.39,580.61 585.46,580.75 586.47,580.98 587.41,581.29 588.25,581.69 588.97,582.16 589.56,582.68 589.99,583.25 590.27,583.85 590.37,584.47 590.30,585.09 590.07,585.69 589.67,586.27" fill="#7a7a7a" stroke="#121212" stroke-width="1.035" stroke-linejoin="round"/>
<polygon points="595.45,596.23 595.55,596.84 595.83,597.44 596.26,598.01 596.85,598.54 597.57,599.00 598.41,599.40 599.35,599.72 600.36,599.95 601.43,600.08 602.52,600.12 603.60,600.07 604.66,599.92 605.66,599.67 606.58,599.34 607.40,598.93 608.09,598.46 608.65,597.92 609.05,597.35 609.28,596.74 609.35,596.12 609.35,592.07 609.28,592.69 609.05,593.29 608.65,593.87 608.09,594.40 607.40,594.88 606.58,595.28 605.66,595.61 604.66,595.86 603.60,596.01 602.52,596.07 601.43,596.03 600.36,595.89 599.35,595.66 598.41,595.34 597.57,594.95 596.85,594.48 596.26,593.96 595.83,593.39 595.55,592.79 595.45,592.17" fill="#141414" stroke="#141414" stroke-width="0.8" stroke-linejoin="round"/>
<polygon points="608.09,594.40 607.40,594.88 606.58,595.28 605.66,595.61 604.66,595.86 603.60,596.01 602.52,596.07 601.43,596.03 600.36,595.89 599.35,595.66 598.41,595.34 597.57,594.95 596.85,594.48 596.26,593.96 595.83,593.39 595.55,592.79 595.45,592.17 595.52,591.55 595.75,590.95 596.15,590.37 596.71,589.84 597.40,589.36 598.22,588.95 599.14,588.62 600.14,588.38 601.20,588.23 602.28,588.17 603.37,588.21 604.44,588.35 605.45,588.58 606.39,588.89 607.23,589.29 607.95,589.76 608.54,590.28 608.97,590.85 609.25,591.45 609.35,592.07 609.28,592.69 609.05,593.29 608.65,593.87" fill="#7a7a7a" stroke="#121212" stroke-width="1.035" stroke-linejoin="round"/>
<polygon points="563.17,599.38 563.27,599.99 563.55,600.59 563.98,601.16 564.57,601.69 565.29,602.15 566.13,602.55 567.07,602.87 568.08,603.10 569.15,603.23 570.24,603.27 571.32,603.22 572.38,603.07 573.38,602.82 574.30,602.49 575.12,602.08 575.81,601.61 576.37,601.07 576.77,600.50 577.00,599.89 577.07,599.27 577.07,595.22 577.00,595.84 576.77,596.44 576.37,597.02 575.81,597.55 575.12,598.03 574.30,598.43 573.38,598.76 572.38,599.01 571.32,599.16 570.24,599.22 569.15,599.18 568.08,599.04 567.07,598.81 566.13,598.49 565.29,598.10 564.57,597.63 563.98,597.11 563.55,596.54 563.27,595.94 563.17,595.32" fill="#141414" stroke="#141414" stroke-width="0.8" stroke-linejoin="round"/>
<polygon points="575.81,597.55 575.12,598.03 574.30,598.43 573.38,598.76 572.38,599.01 571.32,599.16 570.24,599.22 569.15,599.18 568.08,599.04 567.07,598.81 566.13,598.49 565.29,598.10 564.57,597.63 563.98,597.11 563.55,596.54 563.27,595.94 563.17,595.32 563.24,594.70 563.47,594.10 563.87,593.52 564.43,592.99 565.12,592.51 565.94,592.10 566.86,591.77 567.86,591.53 568.92,591.38 570.00,591.32 571.09,591.36 572.16,591.50 573.17,591.73 574.11,592.04 574.95,592.44 575.67,592.91 576.26,593.43 576.69,594.00 576.97,594.60 577.07,595.22 577.00,595.84 576.77,596.44 576.37,597.02" fill="#7a7a7a" stroke="#121212" stroke-width="1.035" stroke-linejoin="round"/>
<polygon points="582.15,606.98 582.25,607.59 582.53,608.19 582.96,608.76 583.55,609.29 584.27,609.75 585.11,610.15 586.05,610.47 587.06,610.70 588.13,610.83 589.22,610.87 590.30,610.82 591.36,610.67 592.36,610.42 593.28,610.09 594.10,609.68 594.79,609.21 595.35,608.67 595.75,608.10 595.98,607.49 596.05,606.87 596.05,602.82 595.98,603.44 595.75,604.04 595.35,604.62 594.79,605.15 594.10,605.63 593.28,606.03 592.36,606.36 591.36,606.61 590.30,606.76 589.22,606.82 588.13,606.78 587.06,606.64 586.05,606.41 585.11,606.09 584.27,605.70 583.55,605.23 582.96,604.71 582.53,604.14 582.25,603.54 582.15,602.92" fill="#141414" stroke="#141414" stroke-width="0.8" stroke-linejoin="round"/>
<polygon points="594.79,605.15 594.10,605.63 593.28,606.03 592.36,606.36 591.36,606.61 590.30,606.76 589.22,606.82 588.13,606.78 587.06,606.64 586.05,606.41 585.11,606.09 584.27,605.70 583.55,605.23 582.96,604.71 582.53,604.14 582.25,603.54 582.15,602.92 582.22,602.30 582.45,601.70 582.85,601.12 583.41,600.59 584.10,600.11 584.92,599.70 585.84,599.37 586.84,599.13 587.90,598.98 588.98,598.92 590.07,598.96 591.14,599.10 592.15,599.33 593.09,599.64 593.93,600.04 594.65,600.51 595.24,601.03 595.67,601.60 595.95,602.20 596.05,602.82 595.98,603.44 595.75,604.04 595.35,604.62" fill="#7a7a7a" stroke="#121212" stroke-width="1.035" stroke-linejoin="round"/>
<polygon points="683.10,588.05 629.90,631.05 629.90,638.85 683.10,595.85" fill="#7d7d7d" stroke="#121212" stroke-width="1.15" stroke-linejoin="round"/>
<polygon points="629.90,631.05 591.94,615.55 591.94,623.35 629.90,638.85" fill="#7f7f7f" stroke="#121212" stroke-width="1.15" stroke-linejoin="round"/>
<polygon points="645.14,572.55 683.10,588.05 629.90,631.05 591.94,615.55" fill="#7a7a7a" stroke="#121212" stroke-width="1.15" stroke-linejoin="round"/>
<polygon points="614.43,603.31 614.53,603.94 614.81,604.54 615.24,605.12 615.83,605.65 616.55,606.12 617.39,606.53 618.33,606.85 619.34,607.09 620.41,607.23 621.50,607.28 622.58,607.22 623.64,607.08 624.64,606.84 625.56,606.51 626.38,606.10 627.07,605.63 627.63,605.09 628.03,604.51 628.26,603.91 628.33,603.29 628.33,599.23 628.26,599.85 628.03,600.46 627.63,601.04 627.07,601.57 626.38,602.04 625.56,602.45 624.64,602.78 623.64,603.02 622.58,603.17 621.50,603.22 620.41,603.17 619.34,603.03 618.33,602.79 617.39,602.47 616.55,602.07 615.83,601.59 615.24,601.06 614.81,600.49 614.53,599.88 614.43,599.26" fill="#141414" stroke="#141414" stroke-width="0.8" stroke-linejoin="round"/>
<polygon points="627.07,601.57 626.38,602.04 625.56,602.45 624.64,602.78 623.64,603.02 622.58,603.17 621.50,603.22 620.41,603.17 619.34,603.03 618.33,602.79 617.39,602.47 616.55,602.07 615.83,601.59 615.24,601.06 614.81,600.49 614.53,599.88 614.43,599.26 614.50,598.64 614.73,598.03 615.13,597.45 615.69,596.92 616.38,596.44 617.20,596.04 618.12,595.71 619.12,595.47 620.18,595.32 621.26,595.27 622.35,595.31 623.42,595.46 624.43,595.69 625.37,596.02 626.21,596.42 626.93,596.90 627.52,597.43 627.95,598.00 628.23,598.61 628.33,599.23 628.26,599.85 628.03,600.46 627.63,601.04" fill="#7a7a7a" stroke="#121212" stroke-width="1.035" stroke-linejoin="round"/>
<polygon points="633.41,611.06 633.51,611.69 633.79,612.29 634.22,612.87 634.81,613.40 635.53,613.87 636.37,614.28 637.31,614.60 638.32,614.84 639.39,614.98 640.48,615.03 641.56,614.97 642.62,614.83 643.62,614.59 644.54,614.26 645.36,613.85 646.05,613.38 646.61,612.84 647.01,612.26 647.24,611.66 647.31,611.04 647.31,606.98 647.24,607.60 647.01,608.21 646.61,608.79 646.05,609.32 645.36,609.79 644.54,610.20 643.62,610.53 642.62,610.77 641.56,610.92 640.48,610.97 639.39,610.92 638.32,610.78 637.31,610.54 636.37,610.22 635.53,609.82 634.81,609.34 634.22,608.81 633.79,608.24 633.51,607.63 633.41,607.01" fill="#141414" stroke="#141414" stroke-width="0.8" stroke-linejoin="round"/>
<polygon points="646.05,609.32 645.36,609.79 644.54,610.20 643.62,610.53 642.62,610.77 641.56,610.92 640.48,610.97 639.39,610.92 638.32,610.78 637.31,610.54 636.37,610.22 635.53,609.82 634.81,609.34 634.22,608.81 633.79,608.24 633.51,607.63 633.41,607.01 633.48,606.39 633.71,605.78 634.11,605.20 634.67,604.67 635.36,604.19 636.18,603.79 637.10,603.46 638.10,603.22 639.16,603.07 640.24,603.02 641.33,603.06 642.40,603.21 643.41,603.44 644.35,603.77 645.19,604.17 645.91,604.65 646.50,605.18 646.93,605.75 647.21,606.36 647.31,606.98 647.24,607.60 647.01,608.21 646.61,608.79" fill="#7a7a7a" stroke="#121212" stroke-width="1.035" stroke-linejoin="round"/>
<polygon points="601.13,614.06 601.23,614.69 601.51,615.29 601.94,615.87 602.53,616.40 603.25,616.87 604.09,617.28 605.03,617.60 606.04,617.84 607.11,617.98 608.20,618.03 609.28,617.97 610.34,617.83 611.34,617.59 612.26,617.26 613.08,616.85 613.77,616.38 614.33,615.84 614.73,615.26 614.96,614.66 615.03,614.04 615.03,609.98 614.96,610.60 614.73,611.21 614.33,611.79 613.77,612.32 613.08,612.79 612.26,613.20 611.34,613.53 610.34,613.77 609.28,613.92 608.20,613.97 607.11,613.92 606.04,613.78 605.03,613.54 604.09,613.22 603.25,612.82 602.53,612.34 601.94,611.81 601.51,611.24 601.23,610.63 601.13,610.01" fill="#141414" stroke="#141414" stroke-width="0.8" stroke-linejoin="round"/>
<polygon points="613.77,612.32 613.08,612.79 612.26,613.20 611.34,613.53 610.34,613.77 609.28,613.92 608.20,613.97 607.11,613.92 606.04,613.78 605.03,613.54 604.09,613.22 603.25,612.82 602.53,612.34 601.94,611.81 601.51,611.24 601.23,610.63 601.13,610.01 601.20,609.39 601.43,608.78 601.83,608.20 602.39,607.67 603.08,607.19 603.90,606.79 604.82,606.46 605.82,606.22 606.88,606.07 607.96,606.02 609.05,606.06 610.12,606.21 611.13,606.44 612.07,606.77 612.91,607.17 613.63,607.65 614.22,608.18 614.65,608.75 614.93,609.36 615.03,609.98 614.96,610.60 614.73,611.21 614.33,611.79" fill="#7a7a7a" stroke="#121212" stroke-width="1.035" stroke-linejoin="round"/>
<polygon points="620.11,621.81 620.21,622.44 620.49,623.04 620.92,623.62 621.51,624.15 622.23,624.62 623.07,625.03 624.01,625.35 625.02,625.59 626.09,625.73 627.18,625.78 628.26,625.72 629.32,625.58 630.32,625.34 631.24,625.01 632.06,624.60 632.75,624.13 633.31,623.59 633.71,623.01 633.94,622.41 634.01,621.79 634.01,617.73 633.94,618.35 633.71,618.96 633.31,619.54 632.75,620.07 632.06,620.54 631.24,620.95 630.32,621.28 629.32,621.52 628.26,621.67 627.18,621.72 626.09,621.67 625.02,621.53 624.01,621.29 623.07,620.97 622.23,620.57 621.51,620.09 620.92,619.56 620.49,618.99 620.21,618.38 620.11,617.76" fill="#141414" stroke="#141414" stroke-width="0.8" stroke-linejoin="round"/>
<polygon points="632.75,620.07 632.06,620.54 631.24,620.95 630.32,621.28 629.32,621.52 628.26,621.67 627.18,621.72 626.09,621.67 625.02,621.53 624.01,621.29 623.07,620.97 622.23,620.57 621.51,620.09 620.92,619.56 620.49,618.99 620.21,618.38 620.11,617.76 620.18,617.14 620.41,616.53 620.81,615.95 621.37,615.42 622.06,614.94 622.88,614.54 623.80,614.21 624.80,613.97 625.86,613.82 626.94,613.77 628.03,613.81 629.10,613.96 630.11,614.19 631.05,614.52 631.89,614.92 632.61,615.40 633.20,615.93 633.63,616.50 633.91,617.11 634.01,617.73 633.94,618.35 633.71,618.96 633.31,619.54" fill="#7a7a7a" stroke="#121212" stroke-width="1.035" stroke-linejoin="round"/>
<polygon points="607.18,550.10 580.58,571.60 580.58,579.40 607.18,557.90" fill="#7c2735" stroke="#121212" stroke-width="1.15" stroke-linejoin="round"/>
<polygon points="580.58,571.60 561.60,564.00 561.60,571.80 580.58,579.40" fill="#7e2837" stroke="#121212" stroke-width="1.15" stroke-linejoin="round"/>
<polygon points="588.20,542.50 607.18,550.10 580.58,571.60 561.60,564.00" fill="#822a3a" stroke="#121212" stroke-width="1.15" stroke-linejoin="round"/>
<polygon points="645.14,565.30 618.54,586.80 618.54,594.60 645.14,573.10" fill="#7c2735" stroke="#121212" stroke-width="1.15" stroke-linejoin="round"/>
<polygon points="618.54,586.80 580.58,571.60 580.58,579.40 618.54,594.60" fill="#7e2837" stroke="#121212" stroke-width="1.15" stroke-linejoin="round"/>
<polygon points="607.18,550.10 645.14,565.30 618.54,586.80 580.58,571.60" fill="#822a3a" stroke="#121212" stroke-width="1.15" stroke-linejoin="round"/>
<polygon points="603.07,559.33 603.17,559.94 603.45,560.54 603.88,561.11 604.47,561.64 605.19,562.10 606.03,562.50 606.97,562.82 607.98,563.05 609.05,563.18 610.14,563.22 611.22,563.17 612.28,563.02 613.28,562.77 614.20,562.44 615.02,562.03 615.71,561.55 616.27,561.02 616.67,560.45 616.90,559.84 616.97,559.22 616.97,555.17 616.90,555.79 616.67,556.39 616.27,556.97 615.71,557.50 615.02,557.98 614.20,558.38 613.28,558.71 612.28,558.96 611.22,559.11 610.14,559.17 609.05,559.13 607.98,558.99 606.97,558.76 606.03,558.44 605.19,558.05 604.47,557.58 603.88,557.06 603.45,556.49 603.17,555.89 603.07,555.27" fill="#1c0609" stroke="#1c0609" stroke-width="0.8" stroke-linejoin="round"/>
<polygon points="615.71,557.50 615.02,557.98 614.20,558.38 613.28,558.71 612.28,558.96 611.22,559.11 610.14,559.17 609.05,559.13 607.98,558.99 606.97,558.76 606.03,558.44 605.19,558.05 604.47,557.58 603.88,557.06 603.45,556.49 603.17,555.89 603.07,555.27 603.14,554.65 603.37,554.05 603.77,553.47 604.33,552.94 605.02,552.46 605.84,552.05 606.76,551.72 607.76,551.48 608.82,551.33 609.90,551.27 610.99,551.31 612.06,551.45 613.07,551.68 614.01,551.99 614.85,552.39 615.57,552.86 616.16,553.38 616.59,553.95 616.87,554.55 616.97,555.17 616.90,555.79 616.67,556.39 616.27,556.97" fill="#822a3a" stroke="#121212" stroke-width="1.035" stroke-linejoin="round"/>
<polygon points="622.05,566.93 622.15,567.54 622.43,568.14 622.86,568.71 623.45,569.24 624.17,569.70 625.01,570.10 625.95,570.42 626.96,570.65 628.03,570.78 629.12,570.82 630.20,570.77 631.26,570.62 632.26,570.37 633.18,570.04 634.00,569.63 634.69,569.15 635.25,568.62 635.65,568.05 635.88,567.44 635.95,566.82 635.95,562.77 635.88,563.39 635.65,563.99 635.25,564.57 634.69,565.10 634.00,565.58 633.18,565.98 632.26,566.31 631.26,566.56 630.20,566.71 629.12,566.77 628.03,566.73 626.96,566.59 625.95,566.36 625.01,566.04 624.17,565.65 623.45,565.18 622.86,564.66 622.43,564.09 622.15,563.49 622.05,562.87" fill="#1c0609" stroke="#1c0609" stroke-width="0.8" stroke-linejoin="round"/>
<polygon points="634.69,565.10 634.00,565.58 633.18,565.98 632.26,566.31 631.26,566.56 630.20,566.71 629.12,566.77 628.03,566.73 626.96,566.59 625.95,566.36 625.01,566.04 624.17,565.65 623.45,565.18 622.86,564.66 622.43,564.09 622.15,563.49 622.05,562.87 622.12,562.25 622.35,561.65 622.75,561.07 623.31,560.54 624.00,560.06 624.82,559.65 625.74,559.32 626.74,559.08 627.80,558.93 628.88,558.87 629.97,558.91 631.04,559.05 632.05,559.28 632.99,559.59 633.83,559.99 634.55,560.46 635.14,560.98 635.57,561.55 635.85,562.15 635.95,562.77 635.88,563.39 635.65,563.99 635.25,564.57" fill="#822a3a" stroke="#121212" stroke-width="1.035" stroke-linejoin="round"/>
<polygon points="683.10,580.25 656.50,601.75 656.50,609.55 683.10,588.05" fill="#7c2735" stroke="#121212" stroke-width="1.15" stroke-linejoin="round"/>
<polygon points="656.50,601.75 618.54,586.25 618.54,594.05 656.50,609.55" fill="#7e2837" stroke="#121212" stroke-width="1.15" stroke-linejoin="round"/>
<polygon points="645.14,564.75 683.10,580.25 656.50,601.75 618.54,586.25" fill="#822a3a" stroke="#121212" stroke-width="1.15" stroke-linejoin="round"/>
<polygon points="641.03,574.01 641.13,574.64 641.41,575.24 641.84,575.82 642.43,576.35 643.15,576.82 643.99,577.23 644.93,577.55 645.94,577.79 647.01,577.93 648.10,577.98 649.18,577.92 650.24,577.78 651.24,577.54 652.16,577.21 652.98,576.80 653.67,576.33 654.23,575.79 654.63,575.21 654.86,574.61 654.93,573.99 654.93,569.93 654.86,570.55 654.63,571.16 654.23,571.74 653.67,572.27 652.98,572.74 652.16,573.15 651.24,573.48 650.24,573.72 649.18,573.87 648.10,573.92 647.01,573.87 645.94,573.73 644.93,573.49 643.99,573.17 643.15,572.77 642.43,572.29 641.84,571.76 641.41,571.19 641.13,570.58 641.03,569.96" fill="#1c0609" stroke="#1c0609" stroke-width="0.8" stroke-linejoin="round"/>
<polygon points="653.67,572.27 652.98,572.74 652.16,573.15 651.24,573.48 650.24,573.72 649.18,573.87 648.10,573.92 647.01,573.87 645.94,573.73 644.93,573.49 643.99,573.17 643.15,572.77 642.43,572.29 641.84,571.76 641.41,571.19 641.13,570.58 641.03,569.96 641.10,569.34 641.33,568.73 641.73,568.15 642.29,567.62 642.98,567.14 643.80,566.74 644.72,566.41 645.72,566.17 646.78,566.02 647.86,565.97 648.95,566.01 650.02,566.16 651.03,566.39 651.97,566.72 652.81,567.12 653.53,567.60 654.12,568.13 654.55,568.70 654.83,569.31 654.93,569.93 654.86,570.55 654.63,571.16 654.23,571.74" fill="#822a3a" stroke="#121212" stroke-width="1.035" stroke-linejoin="round"/>
<polygon points="660.01,581.76 660.11,582.39 660.39,582.99 660.82,583.57 661.41,584.10 662.13,584.57 662.97,584.98 663.91,585.30 664.92,585.54 665.99,585.68 667.08,585.73 668.16,585.67 669.22,585.53 670.22,585.29 671.14,584.96 671.96,584.55 672.65,584.08 673.21,583.54 673.61,582.96 673.84,582.36 673.91,581.74 673.91,577.68 673.84,578.30 673.61,578.91 673.21,579.49 672.65,580.02 671.96,580.49 671.14,580.90 670.22,581.23 669.22,581.47 668.16,581.62 667.08,581.67 665.99,581.62 664.92,581.48 663.91,581.24 662.97,580.92 662.13,580.52 661.41,580.04 660.82,579.51 660.39,578.94 660.11,578.33 660.01,577.71" fill="#1c0609" stroke="#1c0609" stroke-width="0.8" stroke-linejoin="round"/>
<polygon points="672.65,580.02 671.96,580.49 671.14,580.90 670.22,581.23 669.22,581.47 668.16,581.62 667.08,581.67 665.99,581.62 664.92,581.48 663.91,581.24 662.97,580.92 662.13,580.52 661.41,580.04 660.82,579.51 660.39,578.94 660.11,578.33 660.01,577.71 660.08,577.09 660.31,576.48 660.71,575.90 661.27,575.37 661.96,574.89 662.78,574.49 663.70,574.16 664.70,573.92 665.76,573.77 666.84,573.72 667.93,573.76 669.00,573.91 670.01,574.14 670.95,574.47 671.79,574.87 672.51,575.35 673.10,575.88 673.53,576.45 673.81,577.06 673.91,577.68 673.84,578.30 673.61,578.91 673.21,579.49" fill="#822a3a" stroke="#121212" stroke-width="1.035" stroke-linejoin="round"/>
<polygon points="552.20,538.70 556.00,537.00 560.30,536.60 568.00,537.30 575.50,539.20 588.20,542.50 574.50,553.60 567.40,553.30 558.30,551.80 552.70,548.00" fill="#7c2735" stroke="#121212" stroke-width="1.15" stroke-linejoin="round"/>
<polygon points="552.40,538.70 556.00,537.00 560.30,536.60 568.00,537.30 575.50,539.20 588.20,542.50 576.30,551.50 568.00,549.80 560.00,548.50 553.50,546.50" fill="#822a3a" stroke="#121212" stroke-width="1.15" stroke-linejoin="round"/>
<text x="750.9" y="1029.7" font-size="13.2" fill="#2a2a2a" text-anchor="start" letter-spacing="-1.2">121</text>
</svg>
</body></html>
